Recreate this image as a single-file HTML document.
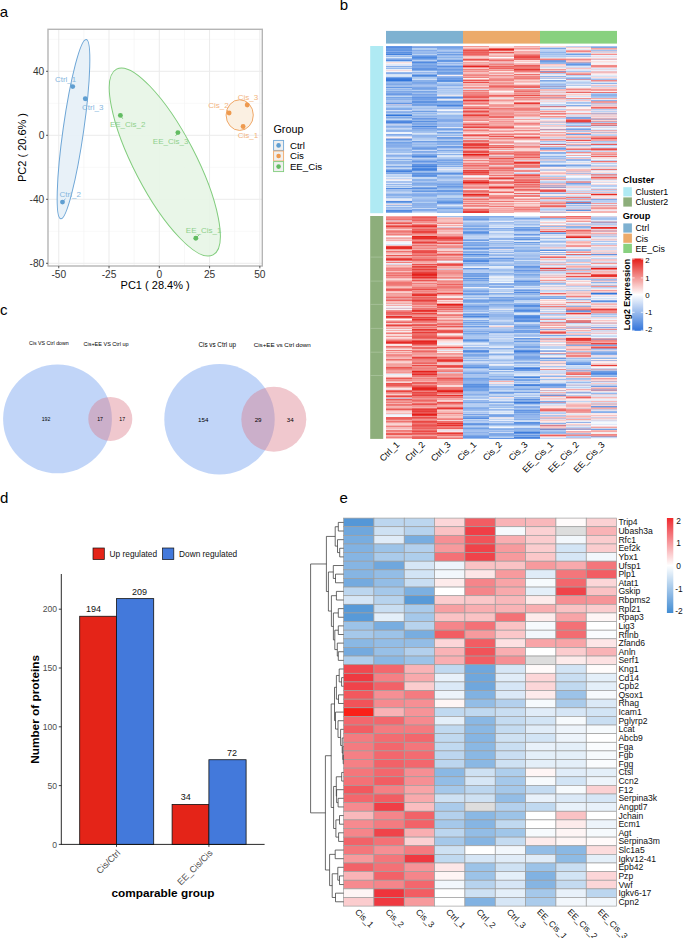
<!DOCTYPE html>
<html><head><meta charset="utf-8"><style>
html,body{margin:0;padding:0;background:#fff;overflow:hidden;}
svg{display:block;font-family:"Liberation Sans", sans-serif;}
</style></head><body>
<svg width="685" height="938" viewBox="0 0 685 938">
<rect width="685" height="938" fill="#fff"/>
<text x="-0.3" y="17" font-size="15" fill="#000">a</text>
<text x="339.8" y="9.8" font-size="15" fill="#000">b</text>
<text x="0" y="314.7" font-size="15" fill="#000">c</text>
<text x="0" y="502.5" font-size="15" fill="#000">d</text>
<text x="339.5" y="502.7" font-size="15" fill="#000">e</text>
<rect x="48.0" y="29.3" width="214.3" height="236.7" fill="#fff"/>
<line x1="83.89" y1="29.3" x2="83.89" y2="266.0" stroke="#F3F3F3" stroke-width="0.6"/>
<line x1="134.16" y1="29.3" x2="134.16" y2="266.0" stroke="#F3F3F3" stroke-width="0.6"/>
<line x1="184.44" y1="29.3" x2="184.44" y2="266.0" stroke="#F3F3F3" stroke-width="0.6"/>
<line x1="234.71" y1="29.3" x2="234.71" y2="266.0" stroke="#F3F3F3" stroke-width="0.6"/>
<line x1="48.0" y1="39.3" x2="262.3" y2="39.3" stroke="#F3F3F3" stroke-width="0.6"/>
<line x1="48.0" y1="103.3" x2="262.3" y2="103.3" stroke="#F3F3F3" stroke-width="0.6"/>
<line x1="48.0" y1="167.3" x2="262.3" y2="167.3" stroke="#F3F3F3" stroke-width="0.6"/>
<line x1="48.0" y1="231.3" x2="262.3" y2="231.3" stroke="#F3F3F3" stroke-width="0.6"/>
<line x1="58.75" y1="29.3" x2="58.75" y2="266.0" stroke="#EBEBEB" stroke-width="1"/>
<line x1="109.03" y1="29.3" x2="109.03" y2="266.0" stroke="#EBEBEB" stroke-width="1"/>
<line x1="159.3" y1="29.3" x2="159.3" y2="266.0" stroke="#EBEBEB" stroke-width="1"/>
<line x1="209.58" y1="29.3" x2="209.58" y2="266.0" stroke="#EBEBEB" stroke-width="1"/>
<line x1="259.85" y1="29.3" x2="259.85" y2="266.0" stroke="#EBEBEB" stroke-width="1"/>
<line x1="48.0" y1="71.3" x2="262.3" y2="71.3" stroke="#EBEBEB" stroke-width="1"/>
<line x1="48.0" y1="135.3" x2="262.3" y2="135.3" stroke="#EBEBEB" stroke-width="1"/>
<line x1="48.0" y1="199.3" x2="262.3" y2="199.3" stroke="#EBEBEB" stroke-width="1"/>
<line x1="48.0" y1="263.3" x2="262.3" y2="263.3" stroke="#EBEBEB" stroke-width="1"/>
<ellipse cx="164.8" cy="162" rx="30.8" ry="104.7" transform="rotate(-27.45 164.8 162)" fill="#E7F5E6" fill-opacity="0.9" stroke="#80CC7C" stroke-width="1"/>
<ellipse cx="73.5" cy="129.1" rx="10.3" ry="90.6" transform="rotate(8.1 73.5 129.1)" fill="#E6EFF7" fill-opacity="0.9" stroke="#6EA6D6" stroke-width="1"/>
<ellipse cx="239.7" cy="115.1" rx="13.6" ry="15.35" fill="#FBEEDF" fill-opacity="0.9" stroke="#F0A868" stroke-width="1"/>
<line x1="72.7" y1="86.6" x2="70.5" y2="84" stroke="#5F9ED1" stroke-width="0.7"/>
<circle cx="72.7" cy="86.6" r="2.45" fill="#5F9ED1"/>
<text x="54.9" y="81.7" font-size="8" fill="#86B6DE">Ctrl_1</text>
<line x1="85.3" y1="98.7" x2="87.5" y2="101.5" stroke="#5F9ED1" stroke-width="0.7"/>
<circle cx="85.3" cy="98.7" r="2.45" fill="#5F9ED1"/>
<text x="82.1" y="109.7" font-size="8" fill="#86B6DE">Ctrl_3</text>
<line x1="62.5" y1="202.1" x2="65.5" y2="198.6" stroke="#5F9ED1" stroke-width="0.7"/>
<circle cx="62.5" cy="202.1" r="2.45" fill="#5F9ED1"/>
<text x="59.5" y="196.9" font-size="8" fill="#86B6DE">Ctrl_2</text>
<line x1="229.1" y1="113" x2="227" y2="110" stroke="#EE9A4F" stroke-width="0.7"/>
<circle cx="229.1" cy="113" r="2.45" fill="#EE9A4F"/>
<text x="208.2" y="107.9" font-size="8" fill="#F2B47E">Cis_2</text>
<line x1="247.2" y1="105" x2="246" y2="101.5" stroke="#EE9A4F" stroke-width="0.7"/>
<circle cx="247.2" cy="105" r="2.45" fill="#EE9A4F"/>
<text x="237.8" y="100.2" font-size="8" fill="#F2B47E">Cis_3</text>
<line x1="243.1" y1="126.5" x2="244.5" y2="129.5" stroke="#EE9A4F" stroke-width="0.7"/>
<circle cx="243.1" cy="126.5" r="2.45" fill="#EE9A4F"/>
<text x="237.8" y="138" font-size="8" fill="#F2B47E">Cis_1</text>
<line x1="120.4" y1="115.4" x2="122.8" y2="118.8" stroke="#62BC62" stroke-width="0.7"/>
<circle cx="120.4" cy="115.4" r="2.45" fill="#62BC62"/>
<text x="109.9" y="127" font-size="8" fill="#8FD08C">EE_Cis_2</text>
<line x1="177.9" y1="132.6" x2="175.5" y2="136" stroke="#62BC62" stroke-width="0.7"/>
<circle cx="177.9" cy="132.6" r="2.45" fill="#62BC62"/>
<text x="152.8" y="143.8" font-size="8" fill="#8FD08C">EE_Cis_3</text>
<line x1="195.8" y1="238.2" x2="199.5" y2="234.5" stroke="#62BC62" stroke-width="0.7"/>
<circle cx="195.8" cy="238.2" r="2.45" fill="#62BC62"/>
<text x="185.8" y="232.7" font-size="8" fill="#8FD08C">EE_Cis_1</text>
<rect x="48.0" y="29.3" width="214.3" height="236.7" fill="none" stroke="#B5B5B5" stroke-width="1.4"/>
<line x1="58.75" y1="266.0" x2="58.75" y2="268.3" stroke="#333" stroke-width="0.8"/>
<text x="58.75" y="278" font-size="10.2" fill="#333" text-anchor="middle">-50</text>
<line x1="109.03" y1="266.0" x2="109.03" y2="268.3" stroke="#333" stroke-width="0.8"/>
<text x="109.03" y="278" font-size="10.2" fill="#333" text-anchor="middle">-25</text>
<line x1="159.3" y1="266.0" x2="159.3" y2="268.3" stroke="#333" stroke-width="0.8"/>
<text x="159.3" y="278" font-size="10.2" fill="#333" text-anchor="middle">0</text>
<line x1="209.58" y1="266.0" x2="209.58" y2="268.3" stroke="#333" stroke-width="0.8"/>
<text x="209.58" y="278" font-size="10.2" fill="#333" text-anchor="middle">25</text>
<line x1="259.85" y1="266.0" x2="259.85" y2="268.3" stroke="#333" stroke-width="0.8"/>
<text x="259.85" y="278" font-size="10.2" fill="#333" text-anchor="middle">50</text>
<line x1="46.0" y1="71.3" x2="48.0" y2="71.3" stroke="#333" stroke-width="0.8"/>
<text x="44.3" y="75" font-size="10.2" fill="#333" text-anchor="end">40</text>
<line x1="46.0" y1="135.3" x2="48.0" y2="135.3" stroke="#333" stroke-width="0.8"/>
<text x="44.3" y="139" font-size="10.2" fill="#333" text-anchor="end">0</text>
<line x1="46.0" y1="199.3" x2="48.0" y2="199.3" stroke="#333" stroke-width="0.8"/>
<text x="44.3" y="203" font-size="10.2" fill="#333" text-anchor="end">-40</text>
<line x1="46.0" y1="263.3" x2="48.0" y2="263.3" stroke="#333" stroke-width="0.8"/>
<text x="44.3" y="267" font-size="10.2" fill="#333" text-anchor="end">-80</text>
<text x="155.15" y="289.3" font-size="11" fill="#000" text-anchor="middle">PC1 ( 28.4% )</text>
<text transform="translate(26.2 147.5) rotate(-90)" font-size="11" text-anchor="middle">PC2 ( 20.6% )</text>
<text x="273.4" y="132.6" font-size="10.8" fill="#000">Group</text>
<rect x="273.6" y="140.4" width="10" height="10" fill="#F0F0F0" stroke="#6EA6D6" stroke-width="0.9"/>
<circle cx="278.6" cy="145.4" r="2.3" fill="#5F9ED1"/>
<text x="289.9" y="148.8" font-size="9.7" fill="#000">Ctrl</text>
<rect x="273.6" y="151" width="10" height="10" fill="#F0F0F0" stroke="#F0A868" stroke-width="0.9"/>
<circle cx="278.6" cy="156" r="2.3" fill="#EE9A4F"/>
<text x="289.9" y="159.4" font-size="9.7" fill="#000">Cis</text>
<rect x="273.6" y="161.6" width="10" height="10" fill="#F0F0F0" stroke="#80CC7C" stroke-width="0.9"/>
<circle cx="278.6" cy="166.6" r="2.3" fill="#62BC62"/>
<text x="289.9" y="170" font-size="9.7" fill="#000">EE_Cis</text>
<g shape-rendering="crispEdges">
<path fill="#6396E4" d="M386 46h25.67v1h-25.67zM386 50h25.67v1h-25.67zM411.67 56h25.67v1h-25.67zM565.67 64h25.67v1h-25.67zM411.67 68h25.67v1h-25.67zM411.67 97h25.67v1h-25.67zM386 103h25.67v1h-25.67zM386 139h25.67v1h-25.67zM411.67 161h25.67v1h-25.67zM540 165h25.67v1h-25.67zM514.33 229h25.67v1h-25.67zM488.67 258h25.67v1h-25.67zM514.33 266h25.67v1h-25.67zM565.67 311h25.67v1h-25.67zM514.33 318h25.67v1h-25.67zM514.33 338h25.67v1h-25.67zM591.33 372h25.67v1h-25.67zM591.33 374h25.67v1h-25.67zM540 385h25.67v1h-25.67zM514.33 403h25.67v1h-25.67zM514.33 423h25.67v1h-25.67zM514.33 435h25.67v1h-25.67zM463 437h25.67v1h-25.67zM488.67 438h25.67v1h-25.67z"/>
<path fill="#8DB1EA" d="M411.67 46h25.67v1h-25.67zM437.33 68h25.67v1h-25.67zM565.67 78h25.67v1h-25.67zM386 92h25.67v1h-25.67zM591.33 95h25.67v1h-25.67zM591.33 100h25.67v1h-25.67zM411.67 129h25.67v1h-25.67zM411.67 152h25.67v1h-25.67zM411.67 204h25.67v1h-25.67zM411.67 205h25.67v1h-25.67zM488.67 238h25.67v1h-25.67zM488.67 283h25.67v1h-25.67zM463 285h25.67v1h-25.67zM591.33 294h25.67v1h-25.67zM488.67 301h25.67v1h-25.67zM463 305h25.67v1h-25.67zM488.67 324h25.67v1h-25.67zM514.33 325h25.67v1h-25.67zM514.33 406h25.67v1h-25.67zM463 432h25.67v1h-25.67z"/>
<path fill="#84ABEA" d="M437.33 46h25.67v1h-25.67zM437.33 48h25.67v1h-25.67zM411.67 50h25.67v1h-25.67zM386 51h25.67v1h-25.67zM565.67 63h25.67v1h-25.67zM437.33 77h25.67v1h-25.67zM411.67 103h25.67v1h-25.67zM386 109h25.67v1h-25.67zM437.33 119h25.67v1h-25.67zM437.33 121h25.67v1h-25.67zM386 134h25.67v1h-25.67zM386 145h25.67v1h-25.67zM411.67 162h25.67v1h-25.67zM437.33 166h25.67v1h-25.67zM411.67 194h25.67v1h-25.67zM411.67 210h25.67v1h-25.67zM488.67 228h25.67v1h-25.67zM514.33 237h25.67v1h-25.67zM463 317h25.67v1h-25.67zM463 320h25.67v1h-25.67zM514.33 328h25.67v1h-25.67zM591.33 354h25.67v1h-25.67zM463 380h25.67v1h-25.67zM540 386h25.67v1h-25.67zM514.33 407h25.67v1h-25.67zM463 408h25.67v1h-25.67zM514.33 414h25.67v1h-25.67zM514.33 428h25.67v1h-25.67z"/>
<path fill="#F39693" d="M463 46h25.67v1h-25.67zM514.33 48h25.67v1h-25.67zM488.67 78h25.67v1h-25.67zM488.67 100h25.67v1h-25.67zM463 106h25.67v1h-25.67zM514.33 147h25.67v1h-25.67zM411.67 234h25.67v1h-25.67zM437.33 271h25.67v1h-25.67zM386 276h25.67v1h-25.67zM540 280h25.67v1h-25.67zM437.33 283h25.67v1h-25.67zM437.33 290h25.67v1h-25.67zM386 336h25.67v1h-25.67zM591.33 346h25.67v1h-25.67zM565.67 353h25.67v1h-25.67zM386 372h25.67v1h-25.67zM411.67 384h25.67v1h-25.67z"/>
<path fill="#FCDEDE" d="M488.67 46h25.67v1h-25.67zM591.33 73h25.67v1h-25.67zM514.33 101h25.67v1h-25.67zM463 121h25.67v1h-25.67zM514.33 132h25.67v1h-25.67zM514.33 192h25.67v1h-25.67zM514.33 212h25.67v1h-25.67zM437.33 224h25.67v1h-25.67zM540 302h25.67v1h-25.67zM386 337h25.67v1h-25.67zM386 345h25.67v1h-25.67zM565.67 390h25.67v1h-25.67z"/>
<path fill="#F6A8A8" d="M514.33 46h25.67v1h-25.67zM514.33 51h25.67v1h-25.67zM514.33 128h25.67v1h-25.67zM591.33 153h25.67v1h-25.67zM488.67 204h25.67v1h-25.67zM488.67 208h25.67v1h-25.67zM411.67 284h25.67v1h-25.67zM411.67 307h25.67v1h-25.67zM386 318h25.67v1h-25.67zM386 432h25.67v1h-25.67z"/>
<path fill="#FCDBD8" d="M540 46h25.67v1h-25.67zM540 65h25.67v1h-25.67zM591.33 232h25.67v1h-25.67zM488.67 326h25.67v1h-25.67z"/>
<path fill="#BDD2F3" d="M565.67 46h25.67v1h-25.67zM540 50h25.67v1h-25.67zM565.67 83h25.67v1h-25.67zM437.33 87h25.67v1h-25.67zM540 104h25.67v1h-25.67zM386 106h25.67v1h-25.67zM540 118h25.67v1h-25.67zM437.33 145h25.67v1h-25.67zM591.33 145h25.67v1h-25.67zM386 157h25.67v1h-25.67zM411.67 158h25.67v1h-25.67zM591.33 165h25.67v1h-25.67zM437.33 175h25.67v1h-25.67zM437.33 180h25.67v1h-25.67zM591.33 190h25.67v1h-25.67zM514.33 223h25.67v1h-25.67zM514.33 232h25.67v1h-25.67zM463 237h25.67v1h-25.67zM591.33 244h25.67v1h-25.67zM565.67 271h25.67v1h-25.67zM514.33 278h25.67v1h-25.67zM488.67 290h25.67v1h-25.67zM463 296h25.67v1h-25.67zM488.67 308h25.67v1h-25.67zM463 328h25.67v1h-25.67zM488.67 333h25.67v1h-25.67zM488.67 341h25.67v1h-25.67zM540 347h25.67v1h-25.67zM591.33 357h25.67v1h-25.67zM488.67 361h25.67v1h-25.67zM540 375h25.67v1h-25.67z"/>
<path fill="#A5C3F0" d="M591.33 46h25.67v1h-25.67zM437.33 53h25.67v1h-25.67zM437.33 56h25.67v1h-25.67zM411.67 85h25.67v1h-25.67zM540 85h25.67v1h-25.67zM565.67 102h25.67v1h-25.67zM565.67 123h25.67v1h-25.67zM386 141h25.67v1h-25.67zM386 151h25.67v1h-25.67zM540 161h25.67v1h-25.67zM386 181h25.67v1h-25.67zM386 208h25.67v1h-25.67zM437.33 210h25.67v1h-25.67zM488.67 219h25.67v1h-25.67zM591.33 219h25.67v1h-25.67zM488.67 229h25.67v1h-25.67zM514.33 231h25.67v1h-25.67zM514.33 243h25.67v1h-25.67zM514.33 248h25.67v1h-25.67zM540 249h25.67v1h-25.67zM463 253h25.67v1h-25.67zM463 277h25.67v1h-25.67zM488.67 322h25.67v1h-25.67zM488.67 329h25.67v1h-25.67zM463 335h25.67v1h-25.67zM565.67 361h25.67v1h-25.67zM488.67 377h25.67v1h-25.67zM488.67 421h25.67v1h-25.67zM514.33 425h25.67v1h-25.67zM463 431h25.67v1h-25.67z"/>
<path fill="#578DE1" d="M386 47h25.67v1h-25.67zM437.33 97h25.67v1h-25.67zM514.33 292h25.67v1h-25.67zM463 418h25.67v1h-25.67z"/>
<path fill="#78A2E7" d="M411.67 47h25.67v1h-25.67zM411.67 94h25.67v1h-25.67zM437.33 203h25.67v1h-25.67zM463 414h25.67v1h-25.67z"/>
<path fill="#72A2E7" d="M437.33 47h25.67v1h-25.67zM386 81h25.67v1h-25.67zM437.33 102h25.67v1h-25.67zM565.67 129h25.67v1h-25.67zM437.33 132h25.67v1h-25.67zM565.67 134h25.67v1h-25.67zM386 142h25.67v1h-25.67zM437.33 208h25.67v1h-25.67zM514.33 227h25.67v1h-25.67zM463 245h25.67v1h-25.67zM514.33 309h25.67v1h-25.67zM514.33 332h25.67v1h-25.67zM591.33 353h25.67v1h-25.67zM463 378h25.67v1h-25.67zM514.33 380h25.67v1h-25.67zM463 389h25.67v1h-25.67zM463 390h25.67v1h-25.67z"/>
<path fill="#F9CFCC" d="M463 47h25.67v1h-25.67zM514.33 80h25.67v1h-25.67zM565.67 94h25.67v1h-25.67zM437.33 232h25.67v1h-25.67zM591.33 291h25.67v1h-25.67zM386 292h25.67v1h-25.67zM437.33 318h25.67v1h-25.67zM437.33 340h25.67v1h-25.67zM386 394h25.67v1h-25.67z"/>
<path fill="#F9D5D2" d="M488.67 47h25.67v1h-25.67zM591.33 120h25.67v1h-25.67zM386 424h25.67v1h-25.67z"/>
<path fill="#F9C0C0" d="M514.33 47h25.67v1h-25.67zM565.67 68h25.67v1h-25.67zM463 72h25.67v1h-25.67zM488.67 90h25.67v1h-25.67zM488.67 93h25.67v1h-25.67zM463 132h25.67v1h-25.67zM437.33 252h25.67v1h-25.67zM386 271h25.67v1h-25.67zM386 278h25.67v1h-25.67zM386 291h25.67v1h-25.67z"/>
<path fill="#C9D5F0" d="M540 47h25.67v1h-25.67zM565.67 150h25.67v1h-25.67zM540 244h25.67v1h-25.67z"/>
<path fill="#EDC6CC" d="M565.67 47h25.67v1h-25.67z"/>
<path fill="#81A5E1" d="M591.33 47h25.67v1h-25.67z"/>
<path fill="#6C9CE4" d="M386 48h25.67v1h-25.67zM386 53h25.67v1h-25.67zM437.33 54h25.67v1h-25.67zM540 61h25.67v1h-25.67zM437.33 69h25.67v1h-25.67zM437.33 72h25.67v1h-25.67zM411.67 76h25.67v1h-25.67zM437.33 137h25.67v1h-25.67zM411.67 141h25.67v1h-25.67zM437.33 146h25.67v1h-25.67zM411.67 148h25.67v1h-25.67zM411.67 174h25.67v1h-25.67zM463 219h25.67v1h-25.67zM463 233h25.67v1h-25.67zM463 240h25.67v1h-25.67zM514.33 267h25.67v1h-25.67zM463 294h25.67v1h-25.67zM463 306h25.67v1h-25.67zM463 326h25.67v1h-25.67zM514.33 367h25.67v1h-25.67zM514.33 412h25.67v1h-25.67zM463 423h25.67v1h-25.67z"/>
<path fill="#B4CFF3" d="M411.67 48h25.67v1h-25.67zM437.33 134h25.67v1h-25.67zM411.67 202h25.67v1h-25.67zM463 288h25.67v1h-25.67zM514.33 295h25.67v1h-25.67zM463 405h25.67v1h-25.67z"/>
<path fill="#F6B1B1" d="M463 48h25.67v1h-25.67zM488.67 130h25.67v1h-25.67zM488.67 133h25.67v1h-25.67zM463 149h25.67v1h-25.67zM386 224h25.67v1h-25.67zM437.33 256h25.67v1h-25.67zM540 277h25.67v1h-25.67zM386 280h25.67v1h-25.67zM437.33 295h25.67v1h-25.67zM386 357h25.67v1h-25.67zM540 396h25.67v1h-25.67zM386 403h25.67v1h-25.67zM437.33 405h25.67v1h-25.67z"/>
<path fill="#ED6966" d="M488.67 48h25.67v1h-25.67zM463 53h25.67v1h-25.67zM514.33 59h25.67v1h-25.67zM514.33 86h25.67v1h-25.67zM463 114h25.67v1h-25.67zM488.67 116h25.67v1h-25.67zM488.67 117h25.67v1h-25.67zM463 165h25.67v1h-25.67zM514.33 180h25.67v1h-25.67zM463 191h25.67v1h-25.67zM463 209h25.67v1h-25.67zM565.67 216h25.67v1h-25.67zM411.67 230h25.67v1h-25.67zM411.67 239h25.67v1h-25.67zM437.33 240h25.67v1h-25.67zM411.67 260h25.67v1h-25.67zM411.67 270h25.67v1h-25.67zM411.67 278h25.67v1h-25.67zM437.33 309h25.67v1h-25.67zM411.67 347h25.67v1h-25.67zM437.33 367h25.67v1h-25.67zM565.67 374h25.67v1h-25.67zM437.33 403h25.67v1h-25.67zM411.67 418h25.67v1h-25.67z"/>
<path fill="#7BA5E7" d="M540 48h25.67v1h-25.67zM411.67 66h25.67v1h-25.67zM437.33 70h25.67v1h-25.67zM411.67 147h25.67v1h-25.67zM565.67 165h25.67v1h-25.67zM463 274h25.67v1h-25.67zM463 355h25.67v1h-25.67zM514.33 356h25.67v1h-25.67zM463 388h25.67v1h-25.67zM514.33 424h25.67v1h-25.67zM488.67 434h25.67v1h-25.67z"/>
<path fill="#FCEDED" d="M565.67 48h25.67v1h-25.67zM514.33 62h25.67v1h-25.67zM591.33 64h25.67v1h-25.67zM463 78h25.67v1h-25.67zM540 167h25.67v1h-25.67zM514.33 197h25.67v1h-25.67zM386 241h25.67v1h-25.67zM437.33 352h25.67v1h-25.67zM386 375h25.67v1h-25.67zM565.67 399h25.67v1h-25.67zM591.33 414h25.67v1h-25.67z"/>
<path fill="#F3A29F" d="M591.33 48h25.67v1h-25.67zM488.67 73h25.67v1h-25.67zM514.33 92h25.67v1h-25.67zM488.67 104h25.67v1h-25.67zM514.33 107h25.67v1h-25.67zM514.33 114h25.67v1h-25.67zM514.33 119h25.67v1h-25.67zM488.67 123h25.67v1h-25.67zM591.33 124h25.67v1h-25.67zM540 132h25.67v1h-25.67zM514.33 136h25.67v1h-25.67zM591.33 136h25.67v1h-25.67zM488.67 149h25.67v1h-25.67zM514.33 164h25.67v1h-25.67zM565.67 199h25.67v1h-25.67zM540 202h25.67v1h-25.67zM565.67 232h25.67v1h-25.67zM437.33 234h25.67v1h-25.67zM411.67 261h25.67v1h-25.67zM386 267h25.67v1h-25.67zM437.33 278h25.67v1h-25.67zM540 325h25.67v1h-25.67zM565.67 349h25.67v1h-25.67zM386 366h25.67v1h-25.67zM437.33 376h25.67v1h-25.67zM386 377h25.67v1h-25.67zM411.67 377h25.67v1h-25.67zM437.33 394h25.67v1h-25.67zM540 408h25.67v1h-25.67zM411.67 435h25.67v1h-25.67z"/>
<path fill="#699CE4" d="M386 49h25.67v1h-25.67zM437.33 141h25.67v1h-25.67zM437.33 201h25.67v1h-25.67zM514.33 242h25.67v1h-25.67zM488.67 300h25.67v1h-25.67zM514.33 341h25.67v1h-25.67z"/>
<path fill="#B1CCF0" d="M411.67 49h25.67v1h-25.67zM411.67 78h25.67v1h-25.67zM565.67 103h25.67v1h-25.67zM411.67 107h25.67v1h-25.67zM411.67 114h25.67v1h-25.67zM386 129h25.67v1h-25.67zM411.67 138h25.67v1h-25.67zM540 164h25.67v1h-25.67zM540 176h25.67v1h-25.67zM411.67 197h25.67v1h-25.67zM514.33 217h25.67v1h-25.67zM514.33 222h25.67v1h-25.67zM488.67 271h25.67v1h-25.67zM565.67 278h25.67v1h-25.67zM488.67 291h25.67v1h-25.67zM514.33 312h25.67v1h-25.67zM514.33 343h25.67v1h-25.67zM488.67 359h25.67v1h-25.67zM565.67 360h25.67v1h-25.67zM514.33 365h25.67v1h-25.67zM514.33 390h25.67v1h-25.67zM488.67 391h25.67v1h-25.67zM488.67 406h25.67v1h-25.67z"/>
<path fill="#93B7ED" d="M437.33 49h25.67v1h-25.67zM411.67 53h25.67v1h-25.67zM437.33 55h25.67v1h-25.67zM437.33 65h25.67v1h-25.67zM565.67 65h25.67v1h-25.67zM386 89h25.67v1h-25.67zM386 98h25.67v1h-25.67zM411.67 136h25.67v1h-25.67zM411.67 142h25.67v1h-25.67zM386 147h25.67v1h-25.67zM386 156h25.67v1h-25.67zM437.33 172h25.67v1h-25.67zM386 184h25.67v1h-25.67zM411.67 193h25.67v1h-25.67zM411.67 196h25.67v1h-25.67zM411.67 200h25.67v1h-25.67zM411.67 206h25.67v1h-25.67zM488.67 259h25.67v1h-25.67zM514.33 293h25.67v1h-25.67zM463 299h25.67v1h-25.67zM565.67 299h25.67v1h-25.67zM514.33 303h25.67v1h-25.67zM514.33 307h25.67v1h-25.67zM463 313h25.67v1h-25.67zM514.33 355h25.67v1h-25.67zM463 381h25.67v1h-25.67zM463 382h25.67v1h-25.67zM488.67 386h25.67v1h-25.67zM488.67 387h25.67v1h-25.67zM514.33 388h25.67v1h-25.67zM591.33 393h25.67v1h-25.67zM514.33 397h25.67v1h-25.67zM463 409h25.67v1h-25.67zM514.33 415h25.67v1h-25.67zM463 427h25.67v1h-25.67zM488.67 431h25.67v1h-25.67z"/>
<path fill="#F07B78" d="M463 49h25.67v1h-25.67zM488.67 67h25.67v1h-25.67zM514.33 67h25.67v1h-25.67zM514.33 109h25.67v1h-25.67zM463 112h25.67v1h-25.67zM540 113h25.67v1h-25.67zM463 130h25.67v1h-25.67zM488.67 134h25.67v1h-25.67zM463 146h25.67v1h-25.67zM488.67 167h25.67v1h-25.67zM514.33 174h25.67v1h-25.67zM488.67 183h25.67v1h-25.67zM463 190h25.67v1h-25.67zM514.33 190h25.67v1h-25.67zM514.33 195h25.67v1h-25.67zM514.33 196h25.67v1h-25.67zM463 203h25.67v1h-25.67zM540 205h25.67v1h-25.67zM411.67 254h25.67v1h-25.67zM411.67 304h25.67v1h-25.67zM540 306h25.67v1h-25.67zM437.33 323h25.67v1h-25.67zM411.67 331h25.67v1h-25.67zM437.33 371h25.67v1h-25.67zM565.67 373h25.67v1h-25.67zM437.33 387h25.67v1h-25.67zM437.33 393h25.67v1h-25.67zM386 395h25.67v1h-25.67zM411.67 397h25.67v1h-25.67zM411.67 401h25.67v1h-25.67zM437.33 426h25.67v1h-25.67zM386 430h25.67v1h-25.67z"/>
<path fill="#E4211B" d="M488.67 49h25.67v1h-25.67zM463 182h25.67v1h-25.67zM411.67 274h25.67v1h-25.67zM411.67 371h25.67v1h-25.67zM437.33 391h25.67v1h-25.67z"/>
<path fill="#F6B4B4" d="M514.33 49h25.67v1h-25.67zM488.67 72h25.67v1h-25.67zM514.33 72h25.67v1h-25.67zM514.33 113h25.67v1h-25.67zM514.33 116h25.67v1h-25.67zM514.33 122h25.67v1h-25.67zM565.67 251h25.67v1h-25.67zM411.67 263h25.67v1h-25.67zM437.33 319h25.67v1h-25.67zM437.33 339h25.67v1h-25.67zM437.33 348h25.67v1h-25.67zM386 406h25.67v1h-25.67zM565.67 406h25.67v1h-25.67zM565.67 416h25.67v1h-25.67zM386 425h25.67v1h-25.67z"/>
<path fill="#C0D5F3" d="M540 49h25.67v1h-25.67zM386 67h25.67v1h-25.67zM437.33 82h25.67v1h-25.67zM437.33 100h25.67v1h-25.67zM540 105h25.67v1h-25.67zM411.67 134h25.67v1h-25.67zM591.33 142h25.67v1h-25.67zM540 143h25.67v1h-25.67zM386 165h25.67v1h-25.67zM437.33 171h25.67v1h-25.67zM386 175h25.67v1h-25.67zM386 178h25.67v1h-25.67zM565.67 185h25.67v1h-25.67zM411.67 186h25.67v1h-25.67zM488.67 234h25.67v1h-25.67zM514.33 245h25.67v1h-25.67zM463 257h25.67v1h-25.67zM591.33 258h25.67v1h-25.67zM488.67 272h25.67v1h-25.67zM540 290h25.67v1h-25.67zM463 318h25.67v1h-25.67zM488.67 321h25.67v1h-25.67zM514.33 333h25.67v1h-25.67zM540 348h25.67v1h-25.67zM463 369h25.67v1h-25.67zM565.67 393h25.67v1h-25.67zM488.67 395h25.67v1h-25.67zM565.67 401h25.67v1h-25.67zM540 412h25.67v1h-25.67zM463 419h25.67v1h-25.67zM488.67 419h25.67v1h-25.67z"/>
<path fill="#E7E7F3" d="M565.67 49h25.67v1h-25.67zM565.67 256h25.67v1h-25.67zM565.67 289h25.67v1h-25.67zM386 414h25.67v1h-25.67z"/>
<path fill="#E7BDC6" d="M591.33 49h25.67v1h-25.67z"/>
<path fill="#AEC9F0" d="M437.33 50h25.67v1h-25.67zM540 53h25.67v1h-25.67zM540 56h25.67v1h-25.67zM565.67 56h25.67v1h-25.67zM437.33 58h25.67v1h-25.67zM565.67 77h25.67v1h-25.67zM386 88h25.67v1h-25.67zM437.33 90h25.67v1h-25.67zM437.33 92h25.67v1h-25.67zM591.33 97h25.67v1h-25.67zM411.67 110h25.67v1h-25.67zM437.33 112h25.67v1h-25.67zM386 113h25.67v1h-25.67zM591.33 122h25.67v1h-25.67zM437.33 140h25.67v1h-25.67zM386 148h25.67v1h-25.67zM437.33 165h25.67v1h-25.67zM386 191h25.67v1h-25.67zM437.33 206h25.67v1h-25.67zM540 209h25.67v1h-25.67zM463 222h25.67v1h-25.67zM488.67 233h25.67v1h-25.67zM540 284h25.67v1h-25.67zM463 295h25.67v1h-25.67zM488.67 303h25.67v1h-25.67zM591.33 316h25.67v1h-25.67zM463 336h25.67v1h-25.67zM463 338h25.67v1h-25.67zM514.33 348h25.67v1h-25.67zM488.67 375h25.67v1h-25.67zM514.33 391h25.67v1h-25.67zM565.67 437h25.67v1h-25.67z"/>
<path fill="#EA4E48" d="M463 50h25.67v1h-25.67zM463 152h25.67v1h-25.67zM437.33 331h25.67v1h-25.67zM437.33 361h25.67v1h-25.67z"/>
<path fill="#EA5A57" d="M488.67 50h25.67v1h-25.67zM463 124h25.67v1h-25.67zM411.67 217h25.67v1h-25.67zM437.33 239h25.67v1h-25.67zM386 289h25.67v1h-25.67zM411.67 301h25.67v1h-25.67zM437.33 307h25.67v1h-25.67zM437.33 330h25.67v1h-25.67zM437.33 332h25.67v1h-25.67zM386 343h25.67v1h-25.67zM386 385h25.67v1h-25.67zM411.67 393h25.67v1h-25.67zM386 399h25.67v1h-25.67zM386 409h25.67v1h-25.67zM411.67 412h25.67v1h-25.67z"/>
<path fill="#FCE1E1" d="M514.33 50h25.67v1h-25.67zM463 133h25.67v1h-25.67zM565.67 143h25.67v1h-25.67zM591.33 172h25.67v1h-25.67zM540 174h25.67v1h-25.67zM591.33 196h25.67v1h-25.67zM437.33 341h25.67v1h-25.67zM540 377h25.67v1h-25.67zM540 406h25.67v1h-25.67z"/>
<path fill="#F3A5A5" d="M565.67 50h25.67v1h-25.67zM488.67 111h25.67v1h-25.67zM463 136h25.67v1h-25.67zM591.33 140h25.67v1h-25.67zM488.67 141h25.67v1h-25.67zM437.33 235h25.67v1h-25.67zM437.33 253h25.67v1h-25.67zM437.33 267h25.67v1h-25.67zM437.33 310h25.67v1h-25.67zM386 371h25.67v1h-25.67z"/>
<path fill="#A2C0ED" d="M591.33 50h25.67v1h-25.67zM386 86h25.67v1h-25.67zM411.67 93h25.67v1h-25.67zM411.67 108h25.67v1h-25.67zM411.67 115h25.67v1h-25.67zM386 118h25.67v1h-25.67zM540 147h25.67v1h-25.67zM411.67 159h25.67v1h-25.67zM386 186h25.67v1h-25.67zM591.33 218h25.67v1h-25.67zM463 223h25.67v1h-25.67zM540 238h25.67v1h-25.67zM488.67 254h25.67v1h-25.67zM514.33 256h25.67v1h-25.67zM463 264h25.67v1h-25.67zM488.67 264h25.67v1h-25.67zM463 265h25.67v1h-25.67zM514.33 265h25.67v1h-25.67zM514.33 277h25.67v1h-25.67zM463 281h25.67v1h-25.67zM488.67 312h25.67v1h-25.67zM488.67 317h25.67v1h-25.67zM488.67 318h25.67v1h-25.67zM463 332h25.67v1h-25.67zM514.33 340h25.67v1h-25.67zM565.67 358h25.67v1h-25.67zM514.33 360h25.67v1h-25.67zM488.67 378h25.67v1h-25.67zM514.33 382h25.67v1h-25.67zM514.33 387h25.67v1h-25.67zM463 393h25.67v1h-25.67zM463 397h25.67v1h-25.67zM514.33 398h25.67v1h-25.67zM488.67 404h25.67v1h-25.67zM540 431h25.67v1h-25.67z"/>
<path fill="#9CBDED" d="M411.67 51h25.67v1h-25.67zM386 56h25.67v1h-25.67zM437.33 59h25.67v1h-25.67zM386 85h25.67v1h-25.67zM565.67 125h25.67v1h-25.67zM437.33 176h25.67v1h-25.67zM386 190h25.67v1h-25.67zM565.67 205h25.67v1h-25.67zM488.67 261h25.67v1h-25.67zM514.33 261h25.67v1h-25.67zM488.67 274h25.67v1h-25.67zM514.33 276h25.67v1h-25.67zM463 297h25.67v1h-25.67zM463 304h25.67v1h-25.67zM488.67 343h25.67v1h-25.67zM514.33 344h25.67v1h-25.67zM514.33 345h25.67v1h-25.67zM463 347h25.67v1h-25.67zM488.67 360h25.67v1h-25.67zM488.67 366h25.67v1h-25.67zM463 368h25.67v1h-25.67zM463 391h25.67v1h-25.67zM463 395h25.67v1h-25.67zM463 410h25.67v1h-25.67zM463 425h25.67v1h-25.67zM463 434h25.67v1h-25.67zM463 438h25.67v1h-25.67z"/>
<path fill="#A2C0F0" d="M437.33 51h25.67v1h-25.67zM437.33 123h25.67v1h-25.67zM565.67 128h25.67v1h-25.67zM437.33 130h25.67v1h-25.67zM565.67 184h25.67v1h-25.67zM386 189h25.67v1h-25.67zM437.33 192h25.67v1h-25.67zM488.67 241h25.67v1h-25.67zM463 262h25.67v1h-25.67zM488.67 269h25.67v1h-25.67zM463 329h25.67v1h-25.67zM488.67 330h25.67v1h-25.67zM463 371h25.67v1h-25.67zM463 420h25.67v1h-25.67zM463 430h25.67v1h-25.67z"/>
<path fill="#ED6F6C" d="M463 51h25.67v1h-25.67zM514.33 58h25.67v1h-25.67zM463 65h25.67v1h-25.67zM514.33 74h25.67v1h-25.67zM565.67 149h25.67v1h-25.67zM463 210h25.67v1h-25.67zM386 225h25.67v1h-25.67zM411.67 241h25.67v1h-25.67zM411.67 243h25.67v1h-25.67zM386 251h25.67v1h-25.67zM411.67 298h25.67v1h-25.67zM437.33 324h25.67v1h-25.67zM411.67 334h25.67v1h-25.67zM437.33 357h25.67v1h-25.67zM386 359h25.67v1h-25.67zM411.67 375h25.67v1h-25.67zM540 409h25.67v1h-25.67zM437.33 421h25.67v1h-25.67zM437.33 435h25.67v1h-25.67z"/>
<path fill="#F6C0BD" d="M488.67 51h25.67v1h-25.67zM565.67 109h25.67v1h-25.67zM463 128h25.67v1h-25.67zM514.33 191h25.67v1h-25.67zM488.67 205h25.67v1h-25.67zM437.33 221h25.67v1h-25.67zM386 250h25.67v1h-25.67zM386 302h25.67v1h-25.67zM437.33 351h25.67v1h-25.67zM437.33 355h25.67v1h-25.67zM540 436h25.67v1h-25.67z"/>
<path fill="#B4CCF3" d="M540 51h25.67v1h-25.67zM437.33 64h25.67v1h-25.67zM411.67 106h25.67v1h-25.67zM591.33 109h25.67v1h-25.67zM411.67 153h25.67v1h-25.67zM437.33 179h25.67v1h-25.67zM591.33 185h25.67v1h-25.67zM411.67 192h25.67v1h-25.67zM591.33 201h25.67v1h-25.67zM437.33 204h25.67v1h-25.67zM463 270h25.67v1h-25.67zM463 271h25.67v1h-25.67zM514.33 287h25.67v1h-25.67zM488.67 337h25.67v1h-25.67zM463 370h25.67v1h-25.67zM540 413h25.67v1h-25.67zM463 421h25.67v1h-25.67zM540 430h25.67v1h-25.67zM565.67 436h25.67v1h-25.67z"/>
<path fill="#F08481" d="M565.67 51h25.67v1h-25.67zM591.33 66h25.67v1h-25.67zM463 75h25.67v1h-25.67zM514.33 76h25.67v1h-25.67zM488.67 79h25.67v1h-25.67zM488.67 80h25.67v1h-25.67zM488.67 138h25.67v1h-25.67zM514.33 146h25.67v1h-25.67zM463 192h25.67v1h-25.67zM411.67 216h25.67v1h-25.67zM386 217h25.67v1h-25.67zM565.67 218h25.67v1h-25.67zM411.67 257h25.67v1h-25.67zM386 270h25.67v1h-25.67zM437.33 277h25.67v1h-25.67zM386 285h25.67v1h-25.67zM411.67 291h25.67v1h-25.67zM591.33 312h25.67v1h-25.67zM386 324h25.67v1h-25.67zM411.67 345h25.67v1h-25.67zM411.67 350h25.67v1h-25.67zM565.67 356h25.67v1h-25.67zM411.67 378h25.67v1h-25.67zM411.67 399h25.67v1h-25.67zM411.67 420h25.67v1h-25.67zM411.67 429h25.67v1h-25.67z"/>
<path fill="#DBC9D8" d="M591.33 51h25.67v1h-25.67z"/>
<path fill="#5A90E1" d="M386 52h25.67v1h-25.67zM411.67 121h25.67v1h-25.67zM411.67 170h25.67v1h-25.67zM437.33 173h25.67v1h-25.67zM411.67 175h25.67v1h-25.67zM411.67 188h25.67v1h-25.67zM437.33 202h25.67v1h-25.67zM591.33 301h25.67v1h-25.67zM514.33 306h25.67v1h-25.67zM514.33 320h25.67v1h-25.67zM514.33 350h25.67v1h-25.67zM463 367h25.67v1h-25.67zM463 384h25.67v1h-25.67zM514.33 384h25.67v1h-25.67zM463 386h25.67v1h-25.67z"/>
<path fill="#99BAED" d="M411.67 52h25.67v1h-25.67zM386 72h25.67v1h-25.67zM386 82h25.67v1h-25.67zM437.33 84h25.67v1h-25.67zM540 84h25.67v1h-25.67zM386 95h25.67v1h-25.67zM386 102h25.67v1h-25.67zM437.33 116h25.67v1h-25.67zM437.33 125h25.67v1h-25.67zM386 127h25.67v1h-25.67zM437.33 133h25.67v1h-25.67zM386 135h25.67v1h-25.67zM386 149h25.67v1h-25.67zM437.33 161h25.67v1h-25.67zM437.33 181h25.67v1h-25.67zM437.33 182h25.67v1h-25.67zM437.33 199h25.67v1h-25.67zM411.67 201h25.67v1h-25.67zM386 205h25.67v1h-25.67zM437.33 211h25.67v1h-25.67zM488.67 217h25.67v1h-25.67zM463 220h25.67v1h-25.67zM488.67 222h25.67v1h-25.67zM514.33 224h25.67v1h-25.67zM540 226h25.67v1h-25.67zM514.33 235h25.67v1h-25.67zM514.33 258h25.67v1h-25.67zM463 269h25.67v1h-25.67zM591.33 279h25.67v1h-25.67zM514.33 291h25.67v1h-25.67zM488.67 306h25.67v1h-25.67zM463 311h25.67v1h-25.67zM514.33 324h25.67v1h-25.67zM514.33 335h25.67v1h-25.67zM565.67 335h25.67v1h-25.67zM514.33 354h25.67v1h-25.67zM463 358h25.67v1h-25.67zM514.33 363h25.67v1h-25.67zM565.67 382h25.67v1h-25.67zM488.67 396h25.67v1h-25.67zM463 401h25.67v1h-25.67zM488.67 428h25.67v1h-25.67zM540 433h25.67v1h-25.67zM514.33 434h25.67v1h-25.67z"/>
<path fill="#78A5E7" d="M437.33 52h25.67v1h-25.67zM411.67 82h25.67v1h-25.67zM411.67 91h25.67v1h-25.67zM386 97h25.67v1h-25.67zM437.33 106h25.67v1h-25.67zM437.33 162h25.67v1h-25.67zM386 166h25.67v1h-25.67zM514.33 218h25.67v1h-25.67zM463 228h25.67v1h-25.67zM463 259h25.67v1h-25.67zM540 298h25.67v1h-25.67zM514.33 299h25.67v1h-25.67zM463 333h25.67v1h-25.67zM463 339h25.67v1h-25.67zM514.33 346h25.67v1h-25.67zM514.33 347h25.67v1h-25.67zM514.33 358h25.67v1h-25.67zM463 365h25.67v1h-25.67zM463 366h25.67v1h-25.67zM463 373h25.67v1h-25.67zM514.33 389h25.67v1h-25.67zM514.33 411h25.67v1h-25.67zM514.33 431h25.67v1h-25.67z"/>
<path fill="#ED5D5A" d="M463 52h25.67v1h-25.67zM463 96h25.67v1h-25.67zM514.33 157h25.67v1h-25.67zM463 174h25.67v1h-25.67zM591.33 177h25.67v1h-25.67zM463 183h25.67v1h-25.67zM411.67 250h25.67v1h-25.67zM411.67 259h25.67v1h-25.67zM591.33 274h25.67v1h-25.67zM386 312h25.67v1h-25.67zM437.33 337h25.67v1h-25.67zM411.67 358h25.67v1h-25.67zM386 418h25.67v1h-25.67zM437.33 424h25.67v1h-25.67zM411.67 426h25.67v1h-25.67z"/>
<path fill="#EA5754" d="M488.67 52h25.67v1h-25.67zM463 80h25.67v1h-25.67zM463 97h25.67v1h-25.67zM463 108h25.67v1h-25.67zM488.67 127h25.67v1h-25.67zM463 143h25.67v1h-25.67zM540 191h25.67v1h-25.67zM386 223h25.67v1h-25.67zM437.33 243h25.67v1h-25.67zM437.33 254h25.67v1h-25.67zM437.33 265h25.67v1h-25.67zM411.67 267h25.67v1h-25.67zM411.67 325h25.67v1h-25.67zM437.33 326h25.67v1h-25.67zM411.67 330h25.67v1h-25.67zM411.67 344h25.67v1h-25.67zM437.33 365h25.67v1h-25.67zM411.67 386h25.67v1h-25.67zM411.67 390h25.67v1h-25.67z"/>
<path fill="#F6ABA8" d="M514.33 52h25.67v1h-25.67zM488.67 69h25.67v1h-25.67zM540 96h25.67v1h-25.67zM463 109h25.67v1h-25.67zM540 135h25.67v1h-25.67zM514.33 159h25.67v1h-25.67zM488.67 211h25.67v1h-25.67zM437.33 222h25.67v1h-25.67zM437.33 225h25.67v1h-25.67zM411.67 262h25.67v1h-25.67zM565.67 266h25.67v1h-25.67zM411.67 305h25.67v1h-25.67zM437.33 329h25.67v1h-25.67zM437.33 346h25.67v1h-25.67zM591.33 408h25.67v1h-25.67zM386 410h25.67v1h-25.67z"/>
<path fill="#90B4EA" d="M540 52h25.67v1h-25.67zM540 76h25.67v1h-25.67zM591.33 83h25.67v1h-25.67zM540 88h25.67v1h-25.67zM591.33 94h25.67v1h-25.67zM437.33 98h25.67v1h-25.67zM411.67 122h25.67v1h-25.67zM386 130h25.67v1h-25.67zM411.67 135h25.67v1h-25.67zM386 140h25.67v1h-25.67zM540 153h25.67v1h-25.67zM540 156h25.67v1h-25.67zM386 161h25.67v1h-25.67zM386 162h25.67v1h-25.67zM386 163h25.67v1h-25.67zM437.33 163h25.67v1h-25.67zM411.67 172h25.67v1h-25.67zM437.33 177h25.67v1h-25.67zM411.67 185h25.67v1h-25.67zM411.67 207h25.67v1h-25.67zM540 218h25.67v1h-25.67zM565.67 227h25.67v1h-25.67zM463 239h25.67v1h-25.67zM488.67 239h25.67v1h-25.67zM463 247h25.67v1h-25.67zM488.67 252h25.67v1h-25.67zM488.67 255h25.67v1h-25.67zM514.33 268h25.67v1h-25.67zM514.33 272h25.67v1h-25.67zM488.67 273h25.67v1h-25.67zM463 279h25.67v1h-25.67zM591.33 282h25.67v1h-25.67zM514.33 285h25.67v1h-25.67zM488.67 287h25.67v1h-25.67zM514.33 294h25.67v1h-25.67zM514.33 297h25.67v1h-25.67zM488.67 298h25.67v1h-25.67zM488.67 305h25.67v1h-25.67zM463 309h25.67v1h-25.67zM488.67 314h25.67v1h-25.67zM488.67 315h25.67v1h-25.67zM488.67 316h25.67v1h-25.67zM514.33 339h25.67v1h-25.67zM591.33 358h25.67v1h-25.67zM463 360h25.67v1h-25.67zM488.67 371h25.67v1h-25.67zM488.67 423h25.67v1h-25.67z"/>
<path fill="#F9CFCF" d="M565.67 52h25.67v1h-25.67zM591.33 58h25.67v1h-25.67zM540 136h25.67v1h-25.67zM514.33 148h25.67v1h-25.67zM463 177h25.67v1h-25.67zM514.33 205h25.67v1h-25.67zM565.67 225h25.67v1h-25.67zM386 229h25.67v1h-25.67zM386 254h25.67v1h-25.67zM565.67 257h25.67v1h-25.67zM386 411h25.67v1h-25.67z"/>
<path fill="#D2D5EA" d="M591.33 52h25.67v1h-25.67z"/>
<path fill="#F3A8A5" d="M488.67 53h25.67v1h-25.67zM463 70h25.67v1h-25.67zM591.33 98h25.67v1h-25.67zM488.67 139h25.67v1h-25.67zM488.67 171h25.67v1h-25.67zM488.67 212h25.67v1h-25.67zM386 216h25.67v1h-25.67zM565.67 307h25.67v1h-25.67zM437.33 356h25.67v1h-25.67zM411.67 364h25.67v1h-25.67z"/>
<path fill="#F6B1AE" d="M514.33 53h25.67v1h-25.67zM514.33 105h25.67v1h-25.67zM514.33 188h25.67v1h-25.67zM540 197h25.67v1h-25.67zM463 200h25.67v1h-25.67zM514.33 206h25.67v1h-25.67zM463 208h25.67v1h-25.67zM437.33 218h25.67v1h-25.67zM386 265h25.67v1h-25.67zM437.33 266h25.67v1h-25.67zM386 286h25.67v1h-25.67zM437.33 316h25.67v1h-25.67zM411.67 323h25.67v1h-25.67zM386 363h25.67v1h-25.67zM488.67 381h25.67v1h-25.67zM386 407h25.67v1h-25.67zM437.33 412h25.67v1h-25.67z"/>
<path fill="#ABC6ED" d="M565.67 53h25.67v1h-25.67z"/>
<path fill="#F9D2CF" d="M591.33 53h25.67v1h-25.67zM463 57h25.67v1h-25.67zM488.67 102h25.67v1h-25.67zM514.33 121h25.67v1h-25.67zM514.33 204h25.67v1h-25.67zM565.67 294h25.67v1h-25.67zM437.33 368h25.67v1h-25.67z"/>
<path fill="#4281DE" d="M386 54h25.67v1h-25.67zM411.67 169h25.67v1h-25.67z"/>
<path fill="#BAD2F3" d="M411.67 54h25.67v1h-25.67zM386 61h25.67v1h-25.67zM565.67 75h25.67v1h-25.67zM591.33 93h25.67v1h-25.67zM591.33 111h25.67v1h-25.67zM591.33 163h25.67v1h-25.67zM386 176h25.67v1h-25.67zM437.33 197h25.67v1h-25.67zM386 203h25.67v1h-25.67zM514.33 240h25.67v1h-25.67zM514.33 252h25.67v1h-25.67zM488.67 285h25.67v1h-25.67zM514.33 300h25.67v1h-25.67zM488.67 340h25.67v1h-25.67zM463 342h25.67v1h-25.67zM488.67 345h25.67v1h-25.67zM514.33 371h25.67v1h-25.67zM565.67 387h25.67v1h-25.67zM463 396h25.67v1h-25.67z"/>
<path fill="#ED6360" d="M463 54h25.67v1h-25.67zM488.67 68h25.67v1h-25.67zM488.67 86h25.67v1h-25.67zM514.33 87h25.67v1h-25.67zM488.67 95h25.67v1h-25.67zM591.33 156h25.67v1h-25.67zM488.67 192h25.67v1h-25.67zM565.67 230h25.67v1h-25.67zM411.67 255h25.67v1h-25.67zM540 257h25.67v1h-25.67zM437.33 284h25.67v1h-25.67zM386 290h25.67v1h-25.67zM411.67 299h25.67v1h-25.67zM386 300h25.67v1h-25.67zM411.67 318h25.67v1h-25.67zM411.67 335h25.67v1h-25.67zM411.67 363h25.67v1h-25.67zM411.67 382h25.67v1h-25.67zM437.33 392h25.67v1h-25.67zM565.67 397h25.67v1h-25.67zM437.33 407h25.67v1h-25.67z"/>
<path fill="#F9CCC9" d="M488.67 54h25.67v1h-25.67zM514.33 129h25.67v1h-25.67zM565.67 275h25.67v1h-25.67zM540 300h25.67v1h-25.67zM565.67 337h25.67v1h-25.67zM386 361h25.67v1h-25.67zM437.33 410h25.67v1h-25.67zM540 420h25.67v1h-25.67z"/>
<path fill="#F08784" d="M514.33 54h25.67v1h-25.67zM463 55h25.67v1h-25.67zM463 60h25.67v1h-25.67zM488.67 75h25.67v1h-25.67zM514.33 77h25.67v1h-25.67zM565.67 89h25.67v1h-25.67zM463 107h25.67v1h-25.67zM463 110h25.67v1h-25.67zM463 116h25.67v1h-25.67zM463 120h25.67v1h-25.67zM514.33 130h25.67v1h-25.67zM591.33 137h25.67v1h-25.67zM514.33 138h25.67v1h-25.67zM514.33 167h25.67v1h-25.67zM514.33 177h25.67v1h-25.67zM488.67 181h25.67v1h-25.67zM386 218h25.67v1h-25.67zM411.67 228h25.67v1h-25.67zM386 232h25.67v1h-25.67zM437.33 251h25.67v1h-25.67zM437.33 281h25.67v1h-25.67zM411.67 296h25.67v1h-25.67zM437.33 298h25.67v1h-25.67zM411.67 306h25.67v1h-25.67zM437.33 314h25.67v1h-25.67zM437.33 320h25.67v1h-25.67zM591.33 340h25.67v1h-25.67zM411.67 360h25.67v1h-25.67zM386 380h25.67v1h-25.67zM386 392h25.67v1h-25.67zM386 408h25.67v1h-25.67zM411.67 416h25.67v1h-25.67zM591.33 434h25.67v1h-25.67z"/>
<path fill="#9FC0ED" d="M540 54h25.67v1h-25.67zM540 81h25.67v1h-25.67zM437.33 96h25.67v1h-25.67zM591.33 96h25.67v1h-25.67zM437.33 117h25.67v1h-25.67zM411.67 131h25.67v1h-25.67zM386 152h25.67v1h-25.67zM411.67 171h25.67v1h-25.67zM437.33 178h25.67v1h-25.67zM437.33 209h25.67v1h-25.67zM437.33 216h25.67v1h-25.67zM514.33 249h25.67v1h-25.67zM514.33 262h25.67v1h-25.67zM488.67 270h25.67v1h-25.67zM463 283h25.67v1h-25.67zM463 289h25.67v1h-25.67zM488.67 294h25.67v1h-25.67zM488.67 302h25.67v1h-25.67zM488.67 323h25.67v1h-25.67zM540 354h25.67v1h-25.67zM463 377h25.67v1h-25.67zM565.67 378h25.67v1h-25.67zM540 379h25.67v1h-25.67zM514.33 386h25.67v1h-25.67zM488.67 407h25.67v1h-25.67zM514.33 418h25.67v1h-25.67zM488.67 436h25.67v1h-25.67z"/>
<path fill="#6F9FE4" d="M565.67 54h25.67v1h-25.67zM437.33 73h25.67v1h-25.67zM411.67 104h25.67v1h-25.67zM411.67 111h25.67v1h-25.67zM386 114h25.67v1h-25.67zM437.33 129h25.67v1h-25.67zM411.67 155h25.67v1h-25.67zM386 202h25.67v1h-25.67zM463 273h25.67v1h-25.67zM463 276h25.67v1h-25.67zM463 300h25.67v1h-25.67zM463 322h25.67v1h-25.67zM514.33 326h25.67v1h-25.67zM488.67 332h25.67v1h-25.67zM488.67 369h25.67v1h-25.67zM463 428h25.67v1h-25.67z"/>
<path fill="#F39090" d="M591.33 54h25.67v1h-25.67zM463 67h25.67v1h-25.67zM463 123h25.67v1h-25.67zM463 125h25.67v1h-25.67zM488.67 159h25.67v1h-25.67zM411.67 221h25.67v1h-25.67zM437.33 257h25.67v1h-25.67zM411.67 405h25.67v1h-25.67zM437.33 409h25.67v1h-25.67z"/>
<path fill="#B1C9F0" d="M386 55h25.67v1h-25.67zM411.67 73h25.67v1h-25.67zM540 73h25.67v1h-25.67zM411.67 112h25.67v1h-25.67zM386 125h25.67v1h-25.67zM565.67 164h25.67v1h-25.67zM591.33 224h25.67v1h-25.67zM540 242h25.67v1h-25.67zM514.33 253h25.67v1h-25.67zM488.67 257h25.67v1h-25.67zM514.33 257h25.67v1h-25.67zM488.67 263h25.67v1h-25.67zM514.33 279h25.67v1h-25.67zM463 345h25.67v1h-25.67zM488.67 349h25.67v1h-25.67zM463 357h25.67v1h-25.67zM463 363h25.67v1h-25.67zM514.33 378h25.67v1h-25.67zM488.67 388h25.67v1h-25.67zM514.33 395h25.67v1h-25.67zM463 403h25.67v1h-25.67zM488.67 410h25.67v1h-25.67zM463 415h25.67v1h-25.67z"/>
<path fill="#81ABEA" d="M411.67 55h25.67v1h-25.67zM411.67 59h25.67v1h-25.67zM437.33 67h25.67v1h-25.67zM386 143h25.67v1h-25.67zM411.67 151h25.67v1h-25.67zM411.67 154h25.67v1h-25.67zM437.33 164h25.67v1h-25.67zM411.67 195h25.67v1h-25.67zM488.67 216h25.67v1h-25.67zM463 244h25.67v1h-25.67zM514.33 251h25.67v1h-25.67zM488.67 284h25.67v1h-25.67zM514.33 298h25.67v1h-25.67zM514.33 353h25.67v1h-25.67zM488.67 435h25.67v1h-25.67z"/>
<path fill="#F6B7B7" d="M488.67 55h25.67v1h-25.67zM488.67 77h25.67v1h-25.67zM488.67 94h25.67v1h-25.67zM514.33 111h25.67v1h-25.67zM488.67 137h25.67v1h-25.67zM540 140h25.67v1h-25.67zM463 169h25.67v1h-25.67zM488.67 199h25.67v1h-25.67zM565.67 229h25.67v1h-25.67zM411.67 282h25.67v1h-25.67zM386 301h25.67v1h-25.67zM437.33 301h25.67v1h-25.67zM411.67 346h25.67v1h-25.67zM591.33 397h25.67v1h-25.67zM565.67 398h25.67v1h-25.67zM591.33 401h25.67v1h-25.67zM386 427h25.67v1h-25.67z"/>
<path fill="#ED6663" d="M514.33 55h25.67v1h-25.67zM514.33 70h25.67v1h-25.67zM591.33 107h25.67v1h-25.67zM514.33 154h25.67v1h-25.67zM488.67 168h25.67v1h-25.67zM463 173h25.67v1h-25.67zM514.33 189h25.67v1h-25.67zM514.33 193h25.67v1h-25.67zM411.67 271h25.67v1h-25.67zM540 293h25.67v1h-25.67zM386 313h25.67v1h-25.67zM386 322h25.67v1h-25.67zM411.67 351h25.67v1h-25.67zM411.67 400h25.67v1h-25.67zM411.67 408h25.67v1h-25.67zM540 410h25.67v1h-25.67zM411.67 430h25.67v1h-25.67z"/>
<path fill="#B7CFF3" d="M540 55h25.67v1h-25.67zM411.67 60h25.67v1h-25.67zM437.33 62h25.67v1h-25.67zM437.33 86h25.67v1h-25.67zM411.67 90h25.67v1h-25.67zM437.33 91h25.67v1h-25.67zM437.33 93h25.67v1h-25.67zM540 109h25.67v1h-25.67zM411.67 139h25.67v1h-25.67zM540 157h25.67v1h-25.67zM540 162h25.67v1h-25.67zM386 164h25.67v1h-25.67zM565.67 179h25.67v1h-25.67zM591.33 186h25.67v1h-25.67zM591.33 200h25.67v1h-25.67zM488.67 220h25.67v1h-25.67zM514.33 225h25.67v1h-25.67zM514.33 233h25.67v1h-25.67zM591.33 243h25.67v1h-25.67zM514.33 246h25.67v1h-25.67zM488.67 250h25.67v1h-25.67zM565.67 255h25.67v1h-25.67zM463 272h25.67v1h-25.67zM488.67 275h25.67v1h-25.67zM488.67 289h25.67v1h-25.67zM540 311h25.67v1h-25.67zM463 325h25.67v1h-25.67zM565.67 332h25.67v1h-25.67zM488.67 335h25.67v1h-25.67zM463 349h25.67v1h-25.67zM488.67 355h25.67v1h-25.67zM565.67 368h25.67v1h-25.67zM514.33 381h25.67v1h-25.67zM463 406h25.67v1h-25.67zM463 422h25.67v1h-25.67zM463 426h25.67v1h-25.67zM488.67 437h25.67v1h-25.67z"/>
<path fill="#CCDBF6" d="M565.67 55h25.67v1h-25.67zM386 136h25.67v1h-25.67zM411.67 150h25.67v1h-25.67zM591.33 151h25.67v1h-25.67zM488.67 320h25.67v1h-25.67zM540 371h25.67v1h-25.67zM488.67 432h25.67v1h-25.67z"/>
<path fill="#EAF3FC" d="M591.33 55h25.67v1h-25.67z"/>
<path fill="#F9C6C3" d="M463 56h25.67v1h-25.67zM514.33 131h25.67v1h-25.67zM488.67 189h25.67v1h-25.67zM437.33 233h25.67v1h-25.67zM591.33 320h25.67v1h-25.67zM437.33 335h25.67v1h-25.67zM437.33 416h25.67v1h-25.67z"/>
<path fill="#F3ABA8" d="M488.67 56h25.67v1h-25.67zM386 303h25.67v1h-25.67z"/>
<path fill="#EA4E4B" d="M514.33 56h25.67v1h-25.67zM463 82h25.67v1h-25.67zM463 135h25.67v1h-25.67zM540 190h25.67v1h-25.67zM411.67 251h25.67v1h-25.67zM411.67 289h25.67v1h-25.67zM540 332h25.67v1h-25.67zM437.33 338h25.67v1h-25.67zM437.33 359h25.67v1h-25.67zM437.33 402h25.67v1h-25.67zM411.67 417h25.67v1h-25.67z"/>
<path fill="#F0E1E7" d="M591.33 56h25.67v1h-25.67zM565.67 147h25.67v1h-25.67zM540 295h25.67v1h-25.67z"/>
<path fill="#DEEAF9" d="M386 57h25.67v1h-25.67zM565.67 188h25.67v1h-25.67zM591.33 204h25.67v1h-25.67zM591.33 220h25.67v1h-25.67zM540 261h25.67v1h-25.67zM514.33 313h25.67v1h-25.67zM565.67 386h25.67v1h-25.67zM463 399h25.67v1h-25.67zM488.67 411h25.67v1h-25.67zM565.67 414h25.67v1h-25.67z"/>
<path fill="#4E8AE1" d="M411.67 57h25.67v1h-25.67zM411.67 168h25.67v1h-25.67z"/>
<path fill="#8DB4EA" d="M437.33 57h25.67v1h-25.67zM437.33 71h25.67v1h-25.67zM411.67 130h25.67v1h-25.67zM411.67 179h25.67v1h-25.67zM488.67 265h25.67v1h-25.67zM514.33 308h25.67v1h-25.67zM463 356h25.67v1h-25.67zM488.67 368h25.67v1h-25.67zM463 407h25.67v1h-25.67zM514.33 429h25.67v1h-25.67z"/>
<path fill="#FCFCFF" d="M488.67 57h25.67v1h-25.67z"/>
<path fill="#EA4845" d="M514.33 57h25.67v1h-25.67zM411.67 225h25.67v1h-25.67zM437.33 237h25.67v1h-25.67zM437.33 264h25.67v1h-25.67zM411.67 365h25.67v1h-25.67zM386 396h25.67v1h-25.67zM411.67 410h25.67v1h-25.67zM411.67 413h25.67v1h-25.67zM411.67 431h25.67v1h-25.67z"/>
<path fill="#CFE1F6" d="M540 57h25.67v1h-25.67zM540 155h25.67v1h-25.67zM514.33 373h25.67v1h-25.67z"/>
<path fill="#F0F0F6" d="M565.67 57h25.67v1h-25.67zM540 310h25.67v1h-25.67zM540 356h25.67v1h-25.67z"/>
<path fill="#EAF0FC" d="M591.33 57h25.67v1h-25.67zM591.33 70h25.67v1h-25.67zM565.67 127h25.67v1h-25.67zM565.67 248h25.67v1h-25.67zM591.33 257h25.67v1h-25.67zM463 267h25.67v1h-25.67zM437.33 343h25.67v1h-25.67z"/>
<path fill="#9FBDED" d="M386 58h25.67v1h-25.67zM591.33 79h25.67v1h-25.67zM411.67 86h25.67v1h-25.67zM437.33 88h25.67v1h-25.67zM386 116h25.67v1h-25.67zM411.67 117h25.67v1h-25.67zM437.33 118h25.67v1h-25.67zM411.67 137h25.67v1h-25.67zM437.33 139h25.67v1h-25.67zM540 158h25.67v1h-25.67zM411.67 163h25.67v1h-25.67zM411.67 199h25.67v1h-25.67zM514.33 219h25.67v1h-25.67zM463 224h25.67v1h-25.67zM463 234h25.67v1h-25.67zM514.33 255h25.67v1h-25.67zM565.67 279h25.67v1h-25.67zM463 327h25.67v1h-25.67zM463 330h25.67v1h-25.67zM463 348h25.67v1h-25.67zM514.33 349h25.67v1h-25.67zM540 350h25.67v1h-25.67zM463 364h25.67v1h-25.67zM463 433h25.67v1h-25.67z"/>
<path fill="#6096E4" d="M411.67 58h25.67v1h-25.67zM437.33 60h25.67v1h-25.67zM514.33 311h25.67v1h-25.67z"/>
<path fill="#F6AEAE" d="M463 58h25.67v1h-25.67zM488.67 61h25.67v1h-25.67zM514.33 64h25.67v1h-25.67zM488.67 76h25.67v1h-25.67zM565.67 314h25.67v1h-25.67zM411.67 355h25.67v1h-25.67zM565.67 405h25.67v1h-25.67zM411.67 407h25.67v1h-25.67z"/>
<path fill="#F9C6C6" d="M488.67 58h25.67v1h-25.67zM540 64h25.67v1h-25.67zM514.33 82h25.67v1h-25.67zM565.67 100h25.67v1h-25.67zM565.67 158h25.67v1h-25.67zM540 172h25.67v1h-25.67zM540 184h25.67v1h-25.67zM386 239h25.67v1h-25.67zM591.33 253h25.67v1h-25.67zM591.33 273h25.67v1h-25.67zM565.67 295h25.67v1h-25.67zM437.33 333h25.67v1h-25.67zM540 341h25.67v1h-25.67zM437.33 364h25.67v1h-25.67zM540 427h25.67v1h-25.67z"/>
<path fill="#EDBDC0" d="M540 58h25.67v1h-25.67zM514.33 144h25.67v1h-25.67z"/>
<path fill="#F9C9C9" d="M565.67 58h25.67v1h-25.67zM514.33 84h25.67v1h-25.67zM591.33 106h25.67v1h-25.67zM540 125h25.67v1h-25.67zM463 137h25.67v1h-25.67zM565.67 174h25.67v1h-25.67zM488.67 184h25.67v1h-25.67zM514.33 200h25.67v1h-25.67zM488.67 207h25.67v1h-25.67zM565.67 234h25.67v1h-25.67zM591.33 260h25.67v1h-25.67zM565.67 348h25.67v1h-25.67zM591.33 418h25.67v1h-25.67z"/>
<path fill="#7EA8E7" d="M386 59h25.67v1h-25.67zM411.67 61h25.67v1h-25.67zM411.67 67h25.67v1h-25.67zM540 80h25.67v1h-25.67zM411.67 83h25.67v1h-25.67zM386 84h25.67v1h-25.67zM411.67 87h25.67v1h-25.67zM386 91h25.67v1h-25.67zM565.67 118h25.67v1h-25.67zM411.67 119h25.67v1h-25.67zM386 120h25.67v1h-25.67zM437.33 120h25.67v1h-25.67zM411.67 123h25.67v1h-25.67zM411.67 124h25.67v1h-25.67zM437.33 150h25.67v1h-25.67zM411.67 157h25.67v1h-25.67zM386 173h25.67v1h-25.67zM411.67 183h25.67v1h-25.67zM411.67 187h25.67v1h-25.67zM437.33 187h25.67v1h-25.67zM591.33 199h25.67v1h-25.67zM411.67 209h25.67v1h-25.67zM463 216h25.67v1h-25.67zM463 218h25.67v1h-25.67zM463 226h25.67v1h-25.67zM463 242h25.67v1h-25.67zM488.67 247h25.67v1h-25.67zM463 252h25.67v1h-25.67zM463 258h25.67v1h-25.67zM463 263h25.67v1h-25.67zM463 293h25.67v1h-25.67zM488.67 299h25.67v1h-25.67zM463 331h25.67v1h-25.67zM463 352h25.67v1h-25.67zM565.67 362h25.67v1h-25.67zM463 379h25.67v1h-25.67zM514.33 401h25.67v1h-25.67zM540 401h25.67v1h-25.67zM488.67 416h25.67v1h-25.67zM488.67 424h25.67v1h-25.67zM463 435h25.67v1h-25.67z"/>
<path fill="#EA544E" d="M463 59h25.67v1h-25.67zM514.33 163h25.67v1h-25.67z"/>
<path fill="#F39390" d="M488.67 59h25.67v1h-25.67zM463 74h25.67v1h-25.67zM514.33 99h25.67v1h-25.67zM488.67 105h25.67v1h-25.67zM540 111h25.67v1h-25.67zM514.33 115h25.67v1h-25.67zM514.33 124h25.67v1h-25.67zM463 153h25.67v1h-25.67zM514.33 201h25.67v1h-25.67zM591.33 208h25.67v1h-25.67zM411.67 279h25.67v1h-25.67zM386 281h25.67v1h-25.67zM437.33 282h25.67v1h-25.67zM437.33 285h25.67v1h-25.67zM591.33 286h25.67v1h-25.67zM411.67 290h25.67v1h-25.67zM386 296h25.67v1h-25.67zM411.67 316h25.67v1h-25.67zM540 331h25.67v1h-25.67zM437.33 336h25.67v1h-25.67zM411.67 356h25.67v1h-25.67zM437.33 375h25.67v1h-25.67zM386 379h25.67v1h-25.67zM437.33 381h25.67v1h-25.67zM565.67 409h25.67v1h-25.67zM565.67 411h25.67v1h-25.67zM411.67 419h25.67v1h-25.67zM591.33 435h25.67v1h-25.67z"/>
<path fill="#F07E7B" d="M540 59h25.67v1h-25.67zM514.33 71h25.67v1h-25.67zM488.67 85h25.67v1h-25.67zM488.67 87h25.67v1h-25.67zM463 90h25.67v1h-25.67zM488.67 96h25.67v1h-25.67zM514.33 108h25.67v1h-25.67zM463 134h25.67v1h-25.67zM514.33 153h25.67v1h-25.67zM514.33 155h25.67v1h-25.67zM488.67 161h25.67v1h-25.67zM463 163h25.67v1h-25.67zM488.67 164h25.67v1h-25.67zM540 203h25.67v1h-25.67zM411.67 224h25.67v1h-25.67zM386 234h25.67v1h-25.67zM437.33 255h25.67v1h-25.67zM386 262h25.67v1h-25.67zM386 268h25.67v1h-25.67zM411.67 283h25.67v1h-25.67zM565.67 296h25.67v1h-25.67zM386 333h25.67v1h-25.67zM411.67 359h25.67v1h-25.67zM411.67 368h25.67v1h-25.67zM386 402h25.67v1h-25.67zM386 405h25.67v1h-25.67zM437.33 419h25.67v1h-25.67zM437.33 432h25.67v1h-25.67zM386 437h25.67v1h-25.67z"/>
<path fill="#F08A87" d="M565.67 59h25.67v1h-25.67zM591.33 65h25.67v1h-25.67zM514.33 90h25.67v1h-25.67zM463 93h25.67v1h-25.67zM540 95h25.67v1h-25.67zM514.33 110h25.67v1h-25.67zM488.67 146h25.67v1h-25.67zM463 166h25.67v1h-25.67zM463 168h25.67v1h-25.67zM514.33 170h25.67v1h-25.67zM463 184h25.67v1h-25.67zM514.33 187h25.67v1h-25.67zM488.67 196h25.67v1h-25.67zM463 201h25.67v1h-25.67zM437.33 228h25.67v1h-25.67zM437.33 246h25.67v1h-25.67zM411.67 248h25.67v1h-25.67zM437.33 259h25.67v1h-25.67zM386 272h25.67v1h-25.67zM437.33 272h25.67v1h-25.67zM437.33 273h25.67v1h-25.67zM437.33 288h25.67v1h-25.67zM565.67 302h25.67v1h-25.67zM437.33 308h25.67v1h-25.67zM540 319h25.67v1h-25.67zM411.67 367h25.67v1h-25.67zM411.67 369h25.67v1h-25.67zM540 369h25.67v1h-25.67zM437.33 370h25.67v1h-25.67zM565.67 372h25.67v1h-25.67zM437.33 382h25.67v1h-25.67zM386 400h25.67v1h-25.67z"/>
<path fill="#E1BAC6" d="M591.33 59h25.67v1h-25.67zM591.33 176h25.67v1h-25.67zM540 201h25.67v1h-25.67z"/>
<path fill="#518AE1" d="M386 60h25.67v1h-25.67zM411.67 62h25.67v1h-25.67zM386 121h25.67v1h-25.67zM386 201h25.67v1h-25.67zM386 210h25.67v1h-25.67zM463 261h25.67v1h-25.67zM514.33 310h25.67v1h-25.67zM514.33 316h25.67v1h-25.67zM463 351h25.67v1h-25.67zM591.33 373h25.67v1h-25.67z"/>
<path fill="#ED6C69" d="M488.67 60h25.67v1h-25.67zM514.33 66h25.67v1h-25.67zM514.33 91h25.67v1h-25.67zM463 126h25.67v1h-25.67zM463 141h25.67v1h-25.67zM488.67 153h25.67v1h-25.67zM488.67 182h25.67v1h-25.67zM514.33 184h25.67v1h-25.67zM386 260h25.67v1h-25.67zM565.67 273h25.67v1h-25.67zM386 275h25.67v1h-25.67zM411.67 293h25.67v1h-25.67zM386 297h25.67v1h-25.67zM411.67 338h25.67v1h-25.67zM386 346h25.67v1h-25.67zM411.67 348h25.67v1h-25.67zM386 368h25.67v1h-25.67zM411.67 385h25.67v1h-25.67zM437.33 389h25.67v1h-25.67zM386 390h25.67v1h-25.67zM411.67 403h25.67v1h-25.67zM437.33 422h25.67v1h-25.67zM411.67 427h25.67v1h-25.67zM411.67 434h25.67v1h-25.67z"/>
<path fill="#FCDBDB" d="M514.33 60h25.67v1h-25.67zM514.33 73h25.67v1h-25.67zM591.33 77h25.67v1h-25.67zM488.67 132h25.67v1h-25.67zM514.33 135h25.67v1h-25.67zM488.67 193h25.67v1h-25.67zM488.67 194h25.67v1h-25.67zM565.67 244h25.67v1h-25.67zM437.33 300h25.67v1h-25.67zM591.33 307h25.67v1h-25.67zM437.33 385h25.67v1h-25.67zM540 388h25.67v1h-25.67z"/>
<path fill="#8496D2" d="M540 60h25.67v1h-25.67z"/>
<path fill="#F6B7B4" d="M565.67 60h25.67v1h-25.67zM514.33 75h25.67v1h-25.67zM488.67 99h25.67v1h-25.67zM540 173h25.67v1h-25.67zM386 235h25.67v1h-25.67zM591.33 271h25.67v1h-25.67z"/>
<path fill="#F9F6F9" d="M591.33 60h25.67v1h-25.67z"/>
<path fill="#6699E4" d="M437.33 61h25.67v1h-25.67zM386 87h25.67v1h-25.67zM437.33 101h25.67v1h-25.67zM411.67 176h25.67v1h-25.67zM411.67 191h25.67v1h-25.67zM437.33 191h25.67v1h-25.67zM463 268h25.67v1h-25.67zM514.33 290h25.67v1h-25.67zM514.33 315h25.67v1h-25.67zM540 358h25.67v1h-25.67zM514.33 370h25.67v1h-25.67zM540 384h25.67v1h-25.67zM463 385h25.67v1h-25.67zM463 387h25.67v1h-25.67z"/>
<path fill="#FCDEDB" d="M463 61h25.67v1h-25.67zM488.67 103h25.67v1h-25.67zM514.33 140h25.67v1h-25.67z"/>
<path fill="#F9C9C6" d="M514.33 61h25.67v1h-25.67zM540 70h25.67v1h-25.67zM565.67 243h25.67v1h-25.67zM386 351h25.67v1h-25.67zM565.67 417h25.67v1h-25.67z"/>
<path fill="#F9CCCC" d="M565.67 61h25.67v1h-25.67zM463 68h25.67v1h-25.67zM488.67 140h25.67v1h-25.67zM565.67 220h25.67v1h-25.67zM540 222h25.67v1h-25.67zM437.33 312h25.67v1h-25.67zM386 323h25.67v1h-25.67zM437.33 328h25.67v1h-25.67zM386 338h25.67v1h-25.67zM565.67 350h25.67v1h-25.67zM591.33 383h25.67v1h-25.67zM540 398h25.67v1h-25.67zM386 423h25.67v1h-25.67zM565.67 424h25.67v1h-25.67z"/>
<path fill="#FCE1DE" d="M591.33 61h25.67v1h-25.67zM437.33 302h25.67v1h-25.67z"/>
<path fill="#F9DEDE" d="M386 62h25.67v1h-25.67zM540 120h25.67v1h-25.67zM565.67 283h25.67v1h-25.67zM386 349h25.67v1h-25.67z"/>
<path fill="#F3A5A2" d="M463 62h25.67v1h-25.67zM488.67 88h25.67v1h-25.67zM488.67 89h25.67v1h-25.67zM488.67 125h25.67v1h-25.67zM463 129h25.67v1h-25.67zM565.67 137h25.67v1h-25.67zM463 142h25.67v1h-25.67zM488.67 203h25.67v1h-25.67zM591.33 207h25.67v1h-25.67zM411.67 235h25.67v1h-25.67zM386 238h25.67v1h-25.67zM437.33 275h25.67v1h-25.67zM437.33 280h25.67v1h-25.67zM386 294h25.67v1h-25.67zM386 295h25.67v1h-25.67zM540 304h25.67v1h-25.67zM386 328h25.67v1h-25.67zM386 365h25.67v1h-25.67zM386 397h25.67v1h-25.67zM437.33 399h25.67v1h-25.67zM411.67 402h25.67v1h-25.67zM437.33 406h25.67v1h-25.67zM386 420h25.67v1h-25.67zM591.33 427h25.67v1h-25.67z"/>
<path fill="#F0BDC0" d="M488.67 62h25.67v1h-25.67z"/>
<path fill="#8AB1EA" d="M540 62h25.67v1h-25.67zM411.67 80h25.67v1h-25.67zM411.67 81h25.67v1h-25.67zM386 83h25.67v1h-25.67zM411.67 92h25.67v1h-25.67zM386 99h25.67v1h-25.67zM411.67 116h25.67v1h-25.67zM386 126h25.67v1h-25.67zM437.33 143h25.67v1h-25.67zM386 144h25.67v1h-25.67zM540 149h25.67v1h-25.67zM540 152h25.67v1h-25.67zM437.33 154h25.67v1h-25.67zM437.33 159h25.67v1h-25.67zM386 172h25.67v1h-25.67zM411.67 180h25.67v1h-25.67zM437.33 185h25.67v1h-25.67zM437.33 193h25.67v1h-25.67zM437.33 194h25.67v1h-25.67zM386 195h25.67v1h-25.67zM437.33 198h25.67v1h-25.67zM411.67 203h25.67v1h-25.67zM386 212h25.67v1h-25.67zM463 225h25.67v1h-25.67zM514.33 238h25.67v1h-25.67zM514.33 244h25.67v1h-25.67zM463 251h25.67v1h-25.67zM463 256h25.67v1h-25.67zM514.33 275h25.67v1h-25.67zM514.33 280h25.67v1h-25.67zM463 286h25.67v1h-25.67zM488.67 348h25.67v1h-25.67zM540 360h25.67v1h-25.67zM463 372h25.67v1h-25.67zM488.67 376h25.67v1h-25.67zM463 383h25.67v1h-25.67zM514.33 400h25.67v1h-25.67zM488.67 414h25.67v1h-25.67zM540 423h25.67v1h-25.67zM540 432h25.67v1h-25.67z"/>
<path fill="#BAA5C0" d="M565.67 62h25.67v1h-25.67z"/>
<path fill="#F6EAED" d="M591.33 62h25.67v1h-25.67zM565.67 93h25.67v1h-25.67zM565.67 163h25.67v1h-25.67zM565.67 168h25.67v1h-25.67zM386 331h25.67v1h-25.67z"/>
<path fill="#F6F0F3" d="M386 63h25.67v1h-25.67z"/>
<path fill="#7BA8E7" d="M411.67 63h25.67v1h-25.67zM386 117h25.67v1h-25.67zM437.33 174h25.67v1h-25.67zM463 229h25.67v1h-25.67zM514.33 274h25.67v1h-25.67zM514.33 283h25.67v1h-25.67zM540 335h25.67v1h-25.67zM463 354h25.67v1h-25.67zM514.33 376h25.67v1h-25.67zM514.33 379h25.67v1h-25.67zM463 402h25.67v1h-25.67zM488.67 402h25.67v1h-25.67zM463 416h25.67v1h-25.67z"/>
<path fill="#96B7ED" d="M437.33 63h25.67v1h-25.67zM411.67 72h25.67v1h-25.67zM437.33 76h25.67v1h-25.67zM411.67 84h25.67v1h-25.67zM437.33 108h25.67v1h-25.67zM386 111h25.67v1h-25.67zM437.33 124h25.67v1h-25.67zM411.67 125h25.67v1h-25.67zM437.33 126h25.67v1h-25.67zM386 131h25.67v1h-25.67zM565.67 160h25.67v1h-25.67zM386 207h25.67v1h-25.67zM437.33 207h25.67v1h-25.67zM514.33 269h25.67v1h-25.67zM514.33 289h25.67v1h-25.67zM463 400h25.67v1h-25.67zM488.67 405h25.67v1h-25.67zM514.33 416h25.67v1h-25.67zM514.33 417h25.67v1h-25.67z"/>
<path fill="#F6B4B1" d="M463 63h25.67v1h-25.67zM514.33 81h25.67v1h-25.67zM514.33 96h25.67v1h-25.67zM463 122h25.67v1h-25.67zM463 131h25.67v1h-25.67zM514.33 203h25.67v1h-25.67zM488.67 209h25.67v1h-25.67zM591.33 212h25.67v1h-25.67zM437.33 231h25.67v1h-25.67zM437.33 276h25.67v1h-25.67zM591.33 304h25.67v1h-25.67zM437.33 321h25.67v1h-25.67zM411.67 349h25.67v1h-25.67zM411.67 381h25.67v1h-25.67zM386 387h25.67v1h-25.67zM540 392h25.67v1h-25.67zM386 435h25.67v1h-25.67zM437.33 436h25.67v1h-25.67z"/>
<path fill="#EDA2A5" d="M488.67 63h25.67v1h-25.67z"/>
<path fill="#F6BDBD" d="M514.33 63h25.67v1h-25.67zM591.33 67h25.67v1h-25.67zM565.67 91h25.67v1h-25.67zM463 162h25.67v1h-25.67zM488.67 174h25.67v1h-25.67zM463 179h25.67v1h-25.67zM514.33 198h25.67v1h-25.67zM463 202h25.67v1h-25.67zM437.33 219h25.67v1h-25.67zM437.33 230h25.67v1h-25.67zM565.67 241h25.67v1h-25.67zM565.67 267h25.67v1h-25.67zM437.33 268h25.67v1h-25.67zM591.33 272h25.67v1h-25.67zM565.67 354h25.67v1h-25.67zM386 358h25.67v1h-25.67zM565.67 432h25.67v1h-25.67z"/>
<path fill="#96B7EA" d="M540 63h25.67v1h-25.67z"/>
<path fill="#F6F3F6" d="M591.33 63h25.67v1h-25.67zM591.33 128h25.67v1h-25.67z"/>
<path fill="#E1EAF9" d="M386 64h25.67v1h-25.67zM386 177h25.67v1h-25.67zM514.33 241h25.67v1h-25.67zM591.33 265h25.67v1h-25.67zM488.67 267h25.67v1h-25.67zM488.67 276h25.67v1h-25.67zM463 343h25.67v1h-25.67zM463 346h25.67v1h-25.67zM488.67 347h25.67v1h-25.67zM591.33 424h25.67v1h-25.67z"/>
<path fill="#87AEEA" d="M411.67 64h25.67v1h-25.67zM386 66h25.67v1h-25.67zM386 73h25.67v1h-25.67zM437.33 85h25.67v1h-25.67zM411.67 95h25.67v1h-25.67zM411.67 96h25.67v1h-25.67zM411.67 100h25.67v1h-25.67zM386 112h25.67v1h-25.67zM411.67 127h25.67v1h-25.67zM437.33 128h25.67v1h-25.67zM437.33 142h25.67v1h-25.67zM437.33 144h25.67v1h-25.67zM386 146h25.67v1h-25.67zM386 155h25.67v1h-25.67zM386 159h25.67v1h-25.67zM411.67 160h25.67v1h-25.67zM386 169h25.67v1h-25.67zM437.33 183h25.67v1h-25.67zM463 217h25.67v1h-25.67zM514.33 228h25.67v1h-25.67zM463 243h25.67v1h-25.67zM488.67 248h25.67v1h-25.67zM463 249h25.67v1h-25.67zM488.67 260h25.67v1h-25.67zM514.33 271h25.67v1h-25.67zM488.67 286h25.67v1h-25.67zM463 290h25.67v1h-25.67zM488.67 293h25.67v1h-25.67zM540 296h25.67v1h-25.67zM463 308h25.67v1h-25.67zM488.67 331h25.67v1h-25.67zM591.33 352h25.67v1h-25.67zM514.33 359h25.67v1h-25.67zM514.33 362h25.67v1h-25.67zM591.33 376h25.67v1h-25.67zM488.67 393h25.67v1h-25.67zM463 394h25.67v1h-25.67zM591.33 412h25.67v1h-25.67zM514.33 419h25.67v1h-25.67z"/>
<path fill="#F3A2A2" d="M463 64h25.67v1h-25.67zM591.33 90h25.67v1h-25.67zM540 98h25.67v1h-25.67zM463 113h25.67v1h-25.67zM565.67 113h25.67v1h-25.67zM540 114h25.67v1h-25.67zM488.67 119h25.67v1h-25.67zM488.67 173h25.67v1h-25.67zM488.67 210h25.67v1h-25.67zM514.33 211h25.67v1h-25.67zM411.67 244h25.67v1h-25.67zM386 252h25.67v1h-25.67zM437.33 325h25.67v1h-25.67zM386 339h25.67v1h-25.67z"/>
<path fill="#F0817E" d="M488.67 64h25.67v1h-25.67zM463 69h25.67v1h-25.67zM463 77h25.67v1h-25.67zM463 92h25.67v1h-25.67zM463 156h25.67v1h-25.67zM463 160h25.67v1h-25.67zM540 198h25.67v1h-25.67zM463 205h25.67v1h-25.67zM514.33 207h25.67v1h-25.67zM386 227h25.67v1h-25.67zM437.33 242h25.67v1h-25.67zM411.67 258h25.67v1h-25.67zM437.33 263h25.67v1h-25.67zM411.67 302h25.67v1h-25.67zM565.67 355h25.67v1h-25.67zM386 369h25.67v1h-25.67zM386 386h25.67v1h-25.67zM411.67 391h25.67v1h-25.67zM437.33 413h25.67v1h-25.67zM386 426h25.67v1h-25.67zM386 431h25.67v1h-25.67z"/>
<path fill="#DEE7F9" d="M386 65h25.67v1h-25.67zM488.67 325h25.67v1h-25.67z"/>
<path fill="#75A2E7" d="M411.67 65h25.67v1h-25.67zM386 77h25.67v1h-25.67zM411.67 88h25.67v1h-25.67zM386 93h25.67v1h-25.67zM437.33 104h25.67v1h-25.67zM411.67 105h25.67v1h-25.67zM437.33 138h25.67v1h-25.67zM437.33 160h25.67v1h-25.67zM411.67 167h25.67v1h-25.67zM565.67 183h25.67v1h-25.67zM437.33 184h25.67v1h-25.67zM463 275h25.67v1h-25.67zM463 280h25.67v1h-25.67zM463 291h25.67v1h-25.67zM488.67 297h25.67v1h-25.67zM463 301h25.67v1h-25.67zM514.33 331h25.67v1h-25.67zM514.33 357h25.67v1h-25.67zM488.67 379h25.67v1h-25.67zM488.67 415h25.67v1h-25.67zM463 417h25.67v1h-25.67z"/>
<path fill="#F39F9C" d="M488.67 65h25.67v1h-25.67zM565.67 73h25.67v1h-25.67zM514.33 98h25.67v1h-25.67zM514.33 112h25.67v1h-25.67zM488.67 157h25.67v1h-25.67zM514.33 178h25.67v1h-25.67zM514.33 183h25.67v1h-25.67zM488.67 191h25.67v1h-25.67zM386 257h25.67v1h-25.67zM437.33 258h25.67v1h-25.67zM411.67 285h25.67v1h-25.67zM437.33 327h25.67v1h-25.67zM565.67 341h25.67v1h-25.67zM565.67 343h25.67v1h-25.67zM386 364h25.67v1h-25.67zM437.33 369h25.67v1h-25.67zM386 370h25.67v1h-25.67zM386 422h25.67v1h-25.67zM386 436h25.67v1h-25.67z"/>
<path fill="#EA5D5A" d="M514.33 65h25.67v1h-25.67zM463 171h25.67v1h-25.67z"/>
<path fill="#5D90E1" d="M437.33 66h25.67v1h-25.67zM514.33 281h25.67v1h-25.67zM565.67 364h25.67v1h-25.67z"/>
<path fill="#E42421" d="M463 66h25.67v1h-25.67zM411.67 341h25.67v1h-25.67z"/>
<path fill="#ED635D" d="M488.67 66h25.67v1h-25.67zM411.67 438h25.67v1h-25.67z"/>
<path fill="#EAD5DB" d="M540 66h25.67v1h-25.67z"/>
<path fill="#DBE7F9" d="M565.67 66h25.67v1h-25.67zM591.33 68h25.67v1h-25.67zM565.67 70h25.67v1h-25.67zM386 75h25.67v1h-25.67zM437.33 109h25.67v1h-25.67zM437.33 156h25.67v1h-25.67zM437.33 205h25.67v1h-25.67zM488.67 227h25.67v1h-25.67zM488.67 240h25.67v1h-25.67zM488.67 279h25.67v1h-25.67zM514.33 288h25.67v1h-25.67zM488.67 370h25.67v1h-25.67zM488.67 400h25.67v1h-25.67zM540 404h25.67v1h-25.67zM488.67 408h25.67v1h-25.67z"/>
<path fill="#D5E1F3" d="M540 67h25.67v1h-25.67zM565.67 162h25.67v1h-25.67z"/>
<path fill="#D8D5E7" d="M565.67 67h25.67v1h-25.67zM591.33 247h25.67v1h-25.67z"/>
<path fill="#96BAED" d="M386 68h25.67v1h-25.67zM411.67 113h25.67v1h-25.67zM437.33 115h25.67v1h-25.67zM411.67 144h25.67v1h-25.67zM411.67 146h25.67v1h-25.67zM386 150h25.67v1h-25.67zM411.67 182h25.67v1h-25.67zM437.33 188h25.67v1h-25.67zM411.67 189h25.67v1h-25.67zM386 197h25.67v1h-25.67zM488.67 230h25.67v1h-25.67zM540 241h25.67v1h-25.67zM514.33 247h25.67v1h-25.67zM514.33 259h25.67v1h-25.67zM514.33 263h25.67v1h-25.67zM540 283h25.67v1h-25.67zM540 297h25.67v1h-25.67zM463 323h25.67v1h-25.67zM463 334h25.67v1h-25.67zM488.67 342h25.67v1h-25.67zM488.67 367h25.67v1h-25.67zM488.67 409h25.67v1h-25.67zM514.33 409h25.67v1h-25.67zM591.33 411h25.67v1h-25.67zM514.33 413h25.67v1h-25.67zM463 429h25.67v1h-25.67z"/>
<path fill="#ED756F" d="M514.33 68h25.67v1h-25.67z"/>
<path fill="#F3EDF0" d="M540 68h25.67v1h-25.67zM591.33 432h25.67v1h-25.67z"/>
<path fill="#EAEDF6" d="M386 69h25.67v1h-25.67zM540 75h25.67v1h-25.67zM591.33 324h25.67v1h-25.67z"/>
<path fill="#6093E1" d="M411.67 69h25.67v1h-25.67zM411.67 101h25.67v1h-25.67zM463 248h25.67v1h-25.67zM463 350h25.67v1h-25.67zM463 424h25.67v1h-25.67zM514.33 433h25.67v1h-25.67z"/>
<path fill="#E73933" d="M514.33 69h25.67v1h-25.67zM591.33 276h25.67v1h-25.67zM437.33 433h25.67v1h-25.67z"/>
<path fill="#F09C99" d="M540 69h25.67v1h-25.67zM565.67 221h25.67v1h-25.67z"/>
<path fill="#EDE4ED" d="M565.67 69h25.67v1h-25.67zM540 74h25.67v1h-25.67z"/>
<path fill="#EAD8E1" d="M591.33 69h25.67v1h-25.67zM591.33 229h25.67v1h-25.67zM540 308h25.67v1h-25.67z"/>
<path fill="#F3DBDE" d="M386 70h25.67v1h-25.67zM514.33 117h25.67v1h-25.67z"/>
<path fill="#84AEEA" d="M411.67 70h25.67v1h-25.67zM411.67 74h25.67v1h-25.67zM437.33 103h25.67v1h-25.67zM386 108h25.67v1h-25.67zM411.67 184h25.67v1h-25.67zM386 194h25.67v1h-25.67zM437.33 200h25.67v1h-25.67zM514.33 250h25.67v1h-25.67zM463 255h25.67v1h-25.67zM514.33 282h25.67v1h-25.67zM463 302h25.67v1h-25.67zM514.33 304h25.67v1h-25.67zM463 324h25.67v1h-25.67zM463 341h25.67v1h-25.67zM488.67 429h25.67v1h-25.67z"/>
<path fill="#F3908D" d="M488.67 70h25.67v1h-25.67zM463 71h25.67v1h-25.67zM488.67 83h25.67v1h-25.67zM488.67 114h25.67v1h-25.67zM540 116h25.67v1h-25.67zM463 117h25.67v1h-25.67zM488.67 142h25.67v1h-25.67zM488.67 152h25.67v1h-25.67zM488.67 154h25.67v1h-25.67zM514.33 156h25.67v1h-25.67zM514.33 176h25.67v1h-25.67zM488.67 195h25.67v1h-25.67zM411.67 222h25.67v1h-25.67zM386 230h25.67v1h-25.67zM411.67 240h25.67v1h-25.67zM565.67 252h25.67v1h-25.67zM386 274h25.67v1h-25.67zM437.33 294h25.67v1h-25.67zM591.33 311h25.67v1h-25.67zM411.67 312h25.67v1h-25.67zM411.67 315h25.67v1h-25.67zM591.33 341h25.67v1h-25.67zM386 354h25.67v1h-25.67zM411.67 366h25.67v1h-25.67zM437.33 374h25.67v1h-25.67zM437.33 404h25.67v1h-25.67zM437.33 418h25.67v1h-25.67z"/>
<path fill="#F9F3F6" d="M386 71h25.67v1h-25.67zM514.33 141h25.67v1h-25.67zM437.33 344h25.67v1h-25.67z"/>
<path fill="#C9DBF6" d="M411.67 71h25.67v1h-25.67zM565.67 124h25.67v1h-25.67zM437.33 131h25.67v1h-25.67zM386 158h25.67v1h-25.67zM437.33 168h25.67v1h-25.67zM437.33 170h25.67v1h-25.67zM591.33 173h25.67v1h-25.67zM386 174h25.67v1h-25.67zM386 185h25.67v1h-25.67zM565.67 190h25.67v1h-25.67zM411.67 212h25.67v1h-25.67zM463 221h25.67v1h-25.67zM488.67 235h25.67v1h-25.67zM540 240h25.67v1h-25.67zM540 265h25.67v1h-25.67zM488.67 268h25.67v1h-25.67zM488.67 281h25.67v1h-25.67zM540 291h25.67v1h-25.67zM514.33 364h25.67v1h-25.67zM565.67 366h25.67v1h-25.67zM540 372h25.67v1h-25.67zM565.67 381h25.67v1h-25.67zM514.33 383h25.67v1h-25.67zM488.67 390h25.67v1h-25.67zM514.33 405h25.67v1h-25.67zM463 411h25.67v1h-25.67zM514.33 420h25.67v1h-25.67zM540 438h25.67v1h-25.67z"/>
<path fill="#FCE7E4" d="M488.67 71h25.67v1h-25.67z"/>
<path fill="#9690C3" d="M540 71h25.67v1h-25.67z"/>
<path fill="#ABC6F0" d="M565.67 71h25.67v1h-25.67zM386 100h25.67v1h-25.67zM437.33 122h25.67v1h-25.67zM437.33 152h25.67v1h-25.67zM437.33 158h25.67v1h-25.67zM411.67 181h25.67v1h-25.67zM386 193h25.67v1h-25.67zM386 196h25.67v1h-25.67zM411.67 211h25.67v1h-25.67zM514.33 221h25.67v1h-25.67zM488.67 223h25.67v1h-25.67zM591.33 241h25.67v1h-25.67zM463 246h25.67v1h-25.67zM565.67 249h25.67v1h-25.67zM514.33 273h25.67v1h-25.67zM488.67 307h25.67v1h-25.67zM463 310h25.67v1h-25.67zM488.67 310h25.67v1h-25.67zM540 314h25.67v1h-25.67zM488.67 319h25.67v1h-25.67zM514.33 329h25.67v1h-25.67zM514.33 334h25.67v1h-25.67zM463 337h25.67v1h-25.67zM514.33 342h25.67v1h-25.67zM591.33 349h25.67v1h-25.67zM488.67 363h25.67v1h-25.67zM540 366h25.67v1h-25.67zM463 374h25.67v1h-25.67zM463 376h25.67v1h-25.67zM565.67 379h25.67v1h-25.67zM463 398h25.67v1h-25.67zM540 403h25.67v1h-25.67zM514.33 408h25.67v1h-25.67zM463 412h25.67v1h-25.67zM488.67 430h25.67v1h-25.67z"/>
<path fill="#F0C3C6" d="M591.33 71h25.67v1h-25.67zM565.67 334h25.67v1h-25.67z"/>
<path fill="#ED817E" d="M540 72h25.67v1h-25.67z"/>
<path fill="#F0C6C6" d="M565.67 72h25.67v1h-25.67z"/>
<path fill="#F0BABD" d="M591.33 72h25.67v1h-25.67z"/>
<path fill="#F6BDBA" d="M463 73h25.67v1h-25.67zM488.67 81h25.67v1h-25.67zM514.33 100h25.67v1h-25.67zM565.67 170h25.67v1h-25.67zM488.67 185h25.67v1h-25.67zM463 204h25.67v1h-25.67zM411.67 223h25.67v1h-25.67zM540 259h25.67v1h-25.67zM540 294h25.67v1h-25.67zM386 381h25.67v1h-25.67zM565.67 404h25.67v1h-25.67z"/>
<path fill="#D2E1F6" d="M386 74h25.67v1h-25.67zM386 76h25.67v1h-25.67zM565.67 115h25.67v1h-25.67zM437.33 155h25.67v1h-25.67zM437.33 167h25.67v1h-25.67zM386 206h25.67v1h-25.67zM488.67 225h25.67v1h-25.67zM514.33 226h25.67v1h-25.67zM514.33 260h25.67v1h-25.67zM488.67 278h25.67v1h-25.67zM591.33 298h25.67v1h-25.67zM514.33 314h25.67v1h-25.67zM463 319h25.67v1h-25.67zM591.33 335h25.67v1h-25.67zM540 337h25.67v1h-25.67zM488.67 338h25.67v1h-25.67zM514.33 366h25.67v1h-25.67zM565.67 383h25.67v1h-25.67zM488.67 412h25.67v1h-25.67z"/>
<path fill="#93B4EA" d="M437.33 74h25.67v1h-25.67z"/>
<path fill="#F6CFD2" d="M488.67 74h25.67v1h-25.67z"/>
<path fill="#E77E81" d="M565.67 74h25.67v1h-25.67z"/>
<path fill="#F9F0F3" d="M591.33 74h25.67v1h-25.67zM565.67 97h25.67v1h-25.67zM386 137h25.67v1h-25.67zM565.67 222h25.67v1h-25.67zM386 309h25.67v1h-25.67z"/>
<path fill="#4B87DE" d="M411.67 75h25.67v1h-25.67zM411.67 126h25.67v1h-25.67zM463 316h25.67v1h-25.67zM514.33 317h25.67v1h-25.67z"/>
<path fill="#F6F0F6" d="M437.33 75h25.67v1h-25.67zM591.33 362h25.67v1h-25.67z"/>
<path fill="#E4EDF9" d="M591.33 75h25.67v1h-25.67zM565.67 76h25.67v1h-25.67zM565.67 104h25.67v1h-25.67zM565.67 161h25.67v1h-25.67zM591.33 180h25.67v1h-25.67zM386 199h25.67v1h-25.67zM488.67 266h25.67v1h-25.67zM565.67 324h25.67v1h-25.67zM514.33 337h25.67v1h-25.67zM437.33 350h25.67v1h-25.67zM514.33 375h25.67v1h-25.67zM488.67 413h25.67v1h-25.67z"/>
<path fill="#F6A8A5" d="M463 76h25.67v1h-25.67zM514.33 79h25.67v1h-25.67zM463 81h25.67v1h-25.67zM463 88h25.67v1h-25.67zM488.67 122h25.67v1h-25.67zM488.67 135h25.67v1h-25.67zM514.33 139h25.67v1h-25.67zM591.33 152h25.67v1h-25.67zM540 229h25.67v1h-25.67zM565.67 235h25.67v1h-25.67zM591.33 342h25.67v1h-25.67zM565.67 419h25.67v1h-25.67zM591.33 431h25.67v1h-25.67z"/>
<path fill="#D8DEF0" d="M591.33 76h25.67v1h-25.67zM540 370h25.67v1h-25.67zM565.67 391h25.67v1h-25.67z"/>
<path fill="#ABC9F0" d="M411.67 77h25.67v1h-25.67zM488.67 218h25.67v1h-25.67z"/>
<path fill="#DBCFDE" d="M540 77h25.67v1h-25.67z"/>
<path fill="#4581DE" d="M386 78h25.67v1h-25.67zM411.67 166h25.67v1h-25.67zM386 171h25.67v1h-25.67zM514.33 385h25.67v1h-25.67zM514.33 437h25.67v1h-25.67z"/>
<path fill="#6999E4" d="M437.33 78h25.67v1h-25.67zM386 94h25.67v1h-25.67zM411.67 118h25.67v1h-25.67zM540 148h25.67v1h-25.67zM437.33 186h25.67v1h-25.67zM437.33 190h25.67v1h-25.67zM540 233h25.67v1h-25.67zM514.33 234h25.67v1h-25.67zM514.33 352h25.67v1h-25.67zM488.67 392h25.67v1h-25.67zM591.33 406h25.67v1h-25.67zM463 436h25.67v1h-25.67zM514.33 438h25.67v1h-25.67z"/>
<path fill="#F07875" d="M514.33 78h25.67v1h-25.67zM463 95h25.67v1h-25.67zM514.33 97h25.67v1h-25.67zM514.33 102h25.67v1h-25.67zM463 103h25.67v1h-25.67zM488.67 108h25.67v1h-25.67zM488.67 126h25.67v1h-25.67zM488.67 163h25.67v1h-25.67zM514.33 179h25.67v1h-25.67zM514.33 181h25.67v1h-25.67zM488.67 188h25.67v1h-25.67zM488.67 206h25.67v1h-25.67zM514.33 209h25.67v1h-25.67zM386 222h25.67v1h-25.67zM411.67 233h25.67v1h-25.67zM437.33 236h25.67v1h-25.67zM411.67 253h25.67v1h-25.67zM591.33 269h25.67v1h-25.67zM386 273h25.67v1h-25.67zM386 284h25.67v1h-25.67zM437.33 286h25.67v1h-25.67zM411.67 287h25.67v1h-25.67zM411.67 288h25.67v1h-25.67zM437.33 299h25.67v1h-25.67zM591.33 310h25.67v1h-25.67zM386 350h25.67v1h-25.67zM411.67 370h25.67v1h-25.67zM437.33 380h25.67v1h-25.67zM437.33 388h25.67v1h-25.67zM411.67 396h25.67v1h-25.67zM437.33 396h25.67v1h-25.67zM411.67 423h25.67v1h-25.67zM437.33 427h25.67v1h-25.67zM411.67 432h25.67v1h-25.67z"/>
<path fill="#B1C6EA" d="M540 78h25.67v1h-25.67z"/>
<path fill="#CFDBF3" d="M591.33 78h25.67v1h-25.67z"/>
<path fill="#3978DB" d="M386 79h25.67v1h-25.67z"/>
<path fill="#CFDEF6" d="M411.67 79h25.67v1h-25.67zM565.67 167h25.67v1h-25.67zM591.33 188h25.67v1h-25.67zM386 198h25.67v1h-25.67zM591.33 249h25.67v1h-25.67zM463 298h25.67v1h-25.67zM514.33 302h25.67v1h-25.67zM463 312h25.67v1h-25.67zM591.33 315h25.67v1h-25.67zM540 317h25.67v1h-25.67zM540 321h25.67v1h-25.67zM514.33 323h25.67v1h-25.67zM488.67 358h25.67v1h-25.67zM463 362h25.67v1h-25.67zM488.67 385h25.67v1h-25.67zM591.33 392h25.67v1h-25.67zM514.33 421h25.67v1h-25.67zM514.33 427h25.67v1h-25.67z"/>
<path fill="#729FE7" d="M437.33 79h25.67v1h-25.67zM411.67 98h25.67v1h-25.67zM411.67 128h25.67v1h-25.67zM437.33 147h25.67v1h-25.67zM514.33 230h25.67v1h-25.67zM463 231h25.67v1h-25.67zM514.33 319h25.67v1h-25.67zM514.33 392h25.67v1h-25.67z"/>
<path fill="#F6AEAB" d="M463 79h25.67v1h-25.67zM463 84h25.67v1h-25.67zM488.67 84h25.67v1h-25.67zM463 85h25.67v1h-25.67zM463 91h25.67v1h-25.67zM488.67 124h25.67v1h-25.67zM514.33 158h25.67v1h-25.67zM565.67 242h25.67v1h-25.67zM411.67 249h25.67v1h-25.67zM437.33 291h25.67v1h-25.67zM437.33 322h25.67v1h-25.67zM386 330h25.67v1h-25.67zM565.67 330h25.67v1h-25.67zM386 332h25.67v1h-25.67zM437.33 415h25.67v1h-25.67z"/>
<path fill="#F6F9FF" d="M540 79h25.67v1h-25.67zM565.67 156h25.67v1h-25.67z"/>
<path fill="#C996AB" d="M565.67 79h25.67v1h-25.67z"/>
<path fill="#3075DB" d="M386 80h25.67v1h-25.67zM386 115h25.67v1h-25.67zM591.33 293h25.67v1h-25.67z"/>
<path fill="#548DE1" d="M437.33 80h25.67v1h-25.67zM386 188h25.67v1h-25.67zM463 260h25.67v1h-25.67zM514.33 305h25.67v1h-25.67z"/>
<path fill="#E4E7F3" d="M565.67 80h25.67v1h-25.67zM540 239h25.67v1h-25.67zM488.67 309h25.67v1h-25.67z"/>
<path fill="#ED8787" d="M591.33 80h25.67v1h-25.67zM565.67 435h25.67v1h-25.67z"/>
<path fill="#5D93E1" d="M437.33 81h25.67v1h-25.67zM411.67 102h25.67v1h-25.67zM411.67 165h25.67v1h-25.67zM386 170h25.67v1h-25.67zM411.67 173h25.67v1h-25.67zM565.67 203h25.67v1h-25.67zM565.67 210h25.67v1h-25.67zM386 211h25.67v1h-25.67zM514.33 239h25.67v1h-25.67zM463 278h25.67v1h-25.67zM514.33 321h25.67v1h-25.67zM463 340h25.67v1h-25.67zM514.33 399h25.67v1h-25.67z"/>
<path fill="#CCDEF6" d="M565.67 81h25.67v1h-25.67zM540 82h25.67v1h-25.67zM488.67 237h25.67v1h-25.67zM514.33 286h25.67v1h-25.67zM540 336h25.67v1h-25.67zM565.67 367h25.67v1h-25.67zM488.67 373h25.67v1h-25.67zM514.33 393h25.67v1h-25.67zM488.67 403h25.67v1h-25.67z"/>
<path fill="#E4BAC3" d="M591.33 81h25.67v1h-25.67z"/>
<path fill="#F39C99" d="M488.67 82h25.67v1h-25.67zM591.33 89h25.67v1h-25.67zM463 102h25.67v1h-25.67zM514.33 104h25.67v1h-25.67zM463 138h25.67v1h-25.67zM591.33 139h25.67v1h-25.67zM463 167h25.67v1h-25.67zM591.33 178h25.67v1h-25.67zM540 179h25.67v1h-25.67zM463 186h25.67v1h-25.67zM514.33 208h25.67v1h-25.67zM514.33 210h25.67v1h-25.67zM565.67 233h25.67v1h-25.67zM411.67 246h25.67v1h-25.67zM386 249h25.67v1h-25.67zM437.33 274h25.67v1h-25.67zM437.33 289h25.67v1h-25.67zM386 293h25.67v1h-25.67zM565.67 308h25.67v1h-25.67zM437.33 317h25.67v1h-25.67zM411.67 339h25.67v1h-25.67zM386 352h25.67v1h-25.67zM411.67 353h25.67v1h-25.67zM411.67 354h25.67v1h-25.67zM386 356h25.67v1h-25.67zM411.67 379h25.67v1h-25.67zM386 393h25.67v1h-25.67zM565.67 396h25.67v1h-25.67zM386 401h25.67v1h-25.67zM437.33 437h25.67v1h-25.67z"/>
<path fill="#B4CCF0" d="M565.67 82h25.67v1h-25.67zM540 83h25.67v1h-25.67zM437.33 157h25.67v1h-25.67zM565.67 166h25.67v1h-25.67zM540 182h25.67v1h-25.67zM437.33 195h25.67v1h-25.67zM591.33 217h25.67v1h-25.67zM463 227h25.67v1h-25.67zM463 235h25.67v1h-25.67zM488.67 242h25.67v1h-25.67zM565.67 260h25.67v1h-25.67zM565.67 264h25.67v1h-25.67zM488.67 328h25.67v1h-25.67zM488.67 353h25.67v1h-25.67z"/>
<path fill="#D5E4F6" d="M591.33 82h25.67v1h-25.67zM411.67 133h25.67v1h-25.67zM488.67 231h25.67v1h-25.67zM514.33 396h25.67v1h-25.67z"/>
<path fill="#A8C6F0" d="M437.33 83h25.67v1h-25.67zM386 90h25.67v1h-25.67zM386 107h25.67v1h-25.67zM565.67 131h25.67v1h-25.67zM411.67 145h25.67v1h-25.67zM437.33 151h25.67v1h-25.67zM437.33 189h25.67v1h-25.67zM411.67 198h25.67v1h-25.67zM488.67 244h25.67v1h-25.67zM514.33 254h25.67v1h-25.67zM463 282h25.67v1h-25.67zM514.33 296h25.67v1h-25.67zM463 321h25.67v1h-25.67zM488.67 344h25.67v1h-25.67zM488.67 374h25.67v1h-25.67zM488.67 389h25.67v1h-25.67zM514.33 404h25.67v1h-25.67zM488.67 425h25.67v1h-25.67z"/>
<path fill="#F6BAB7" d="M463 83h25.67v1h-25.67zM540 90h25.67v1h-25.67zM514.33 106h25.67v1h-25.67zM488.67 120h25.67v1h-25.67zM514.33 127h25.67v1h-25.67zM540 134h25.67v1h-25.67zM591.33 195h25.67v1h-25.67zM386 253h25.67v1h-25.67zM565.67 293h25.67v1h-25.67zM386 320h25.67v1h-25.67zM437.33 411h25.67v1h-25.67zM386 413h25.67v1h-25.67zM437.33 414h25.67v1h-25.67zM591.33 430h25.67v1h-25.67z"/>
<path fill="#FCE7E7" d="M514.33 83h25.67v1h-25.67zM540 115h25.67v1h-25.67zM591.33 181h25.67v1h-25.67zM565.67 194h25.67v1h-25.67zM591.33 295h25.67v1h-25.67zM437.33 297h25.67v1h-25.67zM386 344h25.67v1h-25.67zM540 374h25.67v1h-25.67zM386 376h25.67v1h-25.67zM591.33 377h25.67v1h-25.67zM540 407h25.67v1h-25.67z"/>
<path fill="#DBE1F3" d="M565.67 84h25.67v1h-25.67zM565.67 96h25.67v1h-25.67zM540 312h25.67v1h-25.67z"/>
<path fill="#F0EAF0" d="M591.33 84h25.67v1h-25.67z"/>
<path fill="#F08D8A" d="M514.33 85h25.67v1h-25.67zM463 87h25.67v1h-25.67zM514.33 93h25.67v1h-25.67zM565.67 98h25.67v1h-25.67zM463 99h25.67v1h-25.67zM488.67 109h25.67v1h-25.67zM488.67 113h25.67v1h-25.67zM540 139h25.67v1h-25.67zM591.33 154h25.67v1h-25.67zM488.67 160h25.67v1h-25.67zM488.67 169h25.67v1h-25.67zM437.33 223h25.67v1h-25.67zM565.67 231h25.67v1h-25.67zM437.33 247h25.67v1h-25.67zM411.67 265h25.67v1h-25.67zM386 288h25.67v1h-25.67zM386 347h25.67v1h-25.67zM411.67 352h25.67v1h-25.67z"/>
<path fill="#B1C9ED" d="M565.67 85h25.67v1h-25.67z"/>
<path fill="#EAC3CC" d="M591.33 85h25.67v1h-25.67zM591.33 198h25.67v1h-25.67z"/>
<path fill="#F9D2D2" d="M463 86h25.67v1h-25.67zM591.33 88h25.67v1h-25.67zM437.33 249h25.67v1h-25.67zM437.33 250h25.67v1h-25.67zM565.67 347h25.67v1h-25.67zM386 362h25.67v1h-25.67zM540 399h25.67v1h-25.67zM591.33 405h25.67v1h-25.67zM565.67 407h25.67v1h-25.67zM437.33 420h25.67v1h-25.67z"/>
<path fill="#9CA2CF" d="M540 86h25.67v1h-25.67z"/>
<path fill="#F3F6FC" d="M565.67 86h25.67v1h-25.67zM437.33 110h25.67v1h-25.67zM591.33 159h25.67v1h-25.67zM463 176h25.67v1h-25.67zM565.67 282h25.67v1h-25.67zM591.33 297h25.67v1h-25.67zM386 416h25.67v1h-25.67zM488.67 427h25.67v1h-25.67zM591.33 438h25.67v1h-25.67z"/>
<path fill="#C6D8F6" d="M591.33 86h25.67v1h-25.67zM386 128h25.67v1h-25.67zM591.33 147h25.67v1h-25.67zM565.67 192h25.67v1h-25.67zM540 200h25.67v1h-25.67zM411.67 208h25.67v1h-25.67zM540 208h25.67v1h-25.67zM540 210h25.67v1h-25.67zM488.67 226h25.67v1h-25.67zM463 238h25.67v1h-25.67zM463 241h25.67v1h-25.67zM463 250h25.67v1h-25.67zM488.67 251h25.67v1h-25.67zM488.67 256h25.67v1h-25.67zM488.67 262h25.67v1h-25.67zM488.67 296h25.67v1h-25.67zM591.33 302h25.67v1h-25.67zM488.67 334h25.67v1h-25.67zM488.67 336h25.67v1h-25.67zM463 361h25.67v1h-25.67zM488.67 362h25.67v1h-25.67zM488.67 399h25.67v1h-25.67zM488.67 422h25.67v1h-25.67z"/>
<path fill="#B4C9ED" d="M540 87h25.67v1h-25.67zM591.33 236h25.67v1h-25.67z"/>
<path fill="#F3EDF3" d="M565.67 87h25.67v1h-25.67zM540 131h25.67v1h-25.67z"/>
<path fill="#F6CCCC" d="M591.33 87h25.67v1h-25.67zM488.67 97h25.67v1h-25.67zM540 99h25.67v1h-25.67zM565.67 377h25.67v1h-25.67z"/>
<path fill="#E1D5E1" d="M514.33 88h25.67v1h-25.67z"/>
<path fill="#F6BABA" d="M565.67 88h25.67v1h-25.67zM488.67 101h25.67v1h-25.67zM488.67 107h25.67v1h-25.67zM514.33 125h25.67v1h-25.67zM488.67 148h25.67v1h-25.67zM565.67 212h25.67v1h-25.67zM540 324h25.67v1h-25.67zM386 348h25.67v1h-25.67zM540 417h25.67v1h-25.67zM540 426h25.67v1h-25.67zM386 428h25.67v1h-25.67z"/>
<path fill="#81ABE7" d="M411.67 89h25.67v1h-25.67zM565.67 105h25.67v1h-25.67zM411.67 149h25.67v1h-25.67zM411.67 190h25.67v1h-25.67zM463 284h25.67v1h-25.67zM514.33 284h25.67v1h-25.67zM488.67 304h25.67v1h-25.67zM463 307h25.67v1h-25.67zM463 315h25.67v1h-25.67zM514.33 327h25.67v1h-25.67zM488.67 354h25.67v1h-25.67zM488.67 433h25.67v1h-25.67zM514.33 436h25.67v1h-25.67z"/>
<path fill="#BACFF3" d="M437.33 89h25.67v1h-25.67zM411.67 109h25.67v1h-25.67zM437.33 149h25.67v1h-25.67zM386 154h25.67v1h-25.67zM488.67 224h25.67v1h-25.67zM488.67 246h25.67v1h-25.67zM565.67 286h25.67v1h-25.67zM514.33 372h25.67v1h-25.67zM463 404h25.67v1h-25.67zM463 413h25.67v1h-25.67zM565.67 427h25.67v1h-25.67z"/>
<path fill="#DBDBEA" d="M463 89h25.67v1h-25.67z"/>
<path fill="#F09996" d="M514.33 89h25.67v1h-25.67z"/>
<path fill="#F3BABA" d="M540 89h25.67v1h-25.67zM386 237h25.67v1h-25.67z"/>
<path fill="#F9C3C3" d="M565.67 90h25.67v1h-25.67zM488.67 118h25.67v1h-25.67zM488.67 176h25.67v1h-25.67zM488.67 200h25.67v1h-25.67zM540 230h25.67v1h-25.67zM565.67 274h25.67v1h-25.67zM386 327h25.67v1h-25.67zM386 353h25.67v1h-25.67zM437.33 401h25.67v1h-25.67zM591.33 415h25.67v1h-25.67zM386 438h25.67v1h-25.67z"/>
<path fill="#FCF6F6" d="M488.67 91h25.67v1h-25.67z"/>
<path fill="#E7D8E4" d="M540 91h25.67v1h-25.67zM540 305h25.67v1h-25.67z"/>
<path fill="#FCEAEA" d="M591.33 91h25.67v1h-25.67zM514.33 126h25.67v1h-25.67zM540 145h25.67v1h-25.67zM540 278h25.67v1h-25.67zM591.33 289h25.67v1h-25.67zM540 299h25.67v1h-25.67zM540 421h25.67v1h-25.67z"/>
<path fill="#F9D8D8" d="M488.67 92h25.67v1h-25.67zM540 107h25.67v1h-25.67zM488.67 129h25.67v1h-25.67zM591.33 133h25.67v1h-25.67zM514.33 150h25.67v1h-25.67zM463 207h25.67v1h-25.67zM540 279h25.67v1h-25.67zM540 362h25.67v1h-25.67zM591.33 380h25.67v1h-25.67zM386 412h25.67v1h-25.67z"/>
<path fill="#EAC0C3" d="M540 92h25.67v1h-25.67z"/>
<path fill="#EA6663" d="M565.67 92h25.67v1h-25.67z"/>
<path fill="#E77272" d="M591.33 92h25.67v1h-25.67z"/>
<path fill="#F3DEE1" d="M540 93h25.67v1h-25.67zM540 287h25.67v1h-25.67z"/>
<path fill="#C6D5F0" d="M437.33 94h25.67v1h-25.67zM591.33 202h25.67v1h-25.67z"/>
<path fill="#F08181" d="M463 94h25.67v1h-25.67zM463 101h25.67v1h-25.67zM488.67 198h25.67v1h-25.67zM411.67 322h25.67v1h-25.67z"/>
<path fill="#F39996" d="M514.33 94h25.67v1h-25.67zM488.67 106h25.67v1h-25.67zM488.67 112h25.67v1h-25.67zM463 119h25.67v1h-25.67zM514.33 133h25.67v1h-25.67zM488.67 151h25.67v1h-25.67zM514.33 151h25.67v1h-25.67zM514.33 161h25.67v1h-25.67zM463 178h25.67v1h-25.67zM463 193h25.67v1h-25.67zM540 216h25.67v1h-25.67zM386 228h25.67v1h-25.67zM437.33 229h25.67v1h-25.67zM565.67 245h25.67v1h-25.67zM411.67 256h25.67v1h-25.67zM591.33 263h25.67v1h-25.67zM437.33 270h25.67v1h-25.67zM411.67 281h25.67v1h-25.67zM411.67 286h25.67v1h-25.67zM411.67 292h25.67v1h-25.67zM437.33 292h25.67v1h-25.67zM591.33 308h25.67v1h-25.67zM411.67 326h25.67v1h-25.67zM437.33 353h25.67v1h-25.67zM386 360h25.67v1h-25.67zM411.67 380h25.67v1h-25.67zM437.33 383h25.67v1h-25.67zM437.33 384h25.67v1h-25.67zM411.67 406h25.67v1h-25.67z"/>
<path fill="#E4D2DE" d="M540 94h25.67v1h-25.67z"/>
<path fill="#EAE7F0" d="M437.33 95h25.67v1h-25.67zM540 253h25.67v1h-25.67zM565.67 287h25.67v1h-25.67zM565.67 301h25.67v1h-25.67zM540 320h25.67v1h-25.67zM591.33 400h25.67v1h-25.67z"/>
<path fill="#EA514B" d="M514.33 95h25.67v1h-25.67zM488.67 158h25.67v1h-25.67zM463 181h25.67v1h-25.67zM463 195h25.67v1h-25.67z"/>
<path fill="#F9E1E1" d="M565.67 95h25.67v1h-25.67zM437.33 226h25.67v1h-25.67zM488.67 383h25.67v1h-25.67z"/>
<path fill="#BDD5F3" d="M386 96h25.67v1h-25.67zM386 160h25.67v1h-25.67zM565.67 178h25.67v1h-25.67zM437.33 196h25.67v1h-25.67zM514.33 301h25.67v1h-25.67zM463 303h25.67v1h-25.67zM514.33 322h25.67v1h-25.67z"/>
<path fill="#C69CB1" d="M540 97h25.67v1h-25.67z"/>
<path fill="#F39C9C" d="M463 98h25.67v1h-25.67zM591.33 102h25.67v1h-25.67zM463 104h25.67v1h-25.67zM488.67 110h25.67v1h-25.67zM488.67 162h25.67v1h-25.67zM488.67 172h25.67v1h-25.67zM463 198h25.67v1h-25.67zM565.67 217h25.67v1h-25.67zM386 233h25.67v1h-25.67zM437.33 245h25.67v1h-25.67zM437.33 303h25.67v1h-25.67zM591.33 378h25.67v1h-25.67z"/>
<path fill="#EDE1E7" d="M488.67 98h25.67v1h-25.67zM540 274h25.67v1h-25.67zM565.67 316h25.67v1h-25.67zM591.33 419h25.67v1h-25.67z"/>
<path fill="#6F9FE7" d="M411.67 99h25.67v1h-25.67zM514.33 330h25.67v1h-25.67zM565.67 363h25.67v1h-25.67z"/>
<path fill="#EAEAF3" d="M437.33 99h25.67v1h-25.67zM540 108h25.67v1h-25.67zM565.67 263h25.67v1h-25.67zM540 397h25.67v1h-25.67z"/>
<path fill="#C6D2ED" d="M565.67 99h25.67v1h-25.67z"/>
<path fill="#F6E7EA" d="M591.33 99h25.67v1h-25.67zM540 128h25.67v1h-25.67zM463 189h25.67v1h-25.67zM540 266h25.67v1h-25.67zM437.33 296h25.67v1h-25.67zM565.67 315h25.67v1h-25.67zM386 329h25.67v1h-25.67zM437.33 431h25.67v1h-25.67z"/>
<path fill="#E73936" d="M463 100h25.67v1h-25.67zM514.33 103h25.67v1h-25.67zM463 144h25.67v1h-25.67zM565.67 339h25.67v1h-25.67z"/>
<path fill="#EAE1EA" d="M540 100h25.67v1h-25.67z"/>
<path fill="#A8C3F0" d="M386 101h25.67v1h-25.67zM437.33 107h25.67v1h-25.67zM437.33 111h25.67v1h-25.67zM411.67 132h25.67v1h-25.67zM411.67 143h25.67v1h-25.67zM437.33 148h25.67v1h-25.67zM386 167h25.67v1h-25.67zM386 182h25.67v1h-25.67zM386 209h25.67v1h-25.67zM463 230h25.67v1h-25.67zM488.67 245h25.67v1h-25.67zM514.33 264h25.67v1h-25.67zM463 292h25.67v1h-25.67zM488.67 313h25.67v1h-25.67zM591.33 314h25.67v1h-25.67zM514.33 336h25.67v1h-25.67zM463 353h25.67v1h-25.67zM463 375h25.67v1h-25.67zM540 383h25.67v1h-25.67zM463 392h25.67v1h-25.67zM488.67 401h25.67v1h-25.67z"/>
<path fill="#F6D8DB" d="M540 101h25.67v1h-25.67z"/>
<path fill="#EAE4ED" d="M565.67 101h25.67v1h-25.67zM540 292h25.67v1h-25.67zM591.33 326h25.67v1h-25.67z"/>
<path fill="#E1969C" d="M591.33 101h25.67v1h-25.67z"/>
<path fill="#E4E7F6" d="M540 102h25.67v1h-25.67z"/>
<path fill="#F3F3F9" d="M540 103h25.67v1h-25.67zM437.33 261h25.67v1h-25.67z"/>
<path fill="#BDBAD8" d="M591.33 103h25.67v1h-25.67z"/>
<path fill="#C0C3E1" d="M386 104h25.67v1h-25.67zM565.67 224h25.67v1h-25.67zM540 357h25.67v1h-25.67z"/>
<path fill="#E1CFDB" d="M591.33 104h25.67v1h-25.67zM540 126h25.67v1h-25.67zM540 211h25.67v1h-25.67zM540 424h25.67v1h-25.67z"/>
<path fill="#ABC3ED" d="M386 105h25.67v1h-25.67zM540 415h25.67v1h-25.67z"/>
<path fill="#4884DE" d="M437.33 105h25.67v1h-25.67z"/>
<path fill="#FCE4E1" d="M463 105h25.67v1h-25.67zM514.33 120h25.67v1h-25.67z"/>
<path fill="#DEC9D8" d="M591.33 105h25.67v1h-25.67z"/>
<path fill="#C97B8D" d="M540 106h25.67v1h-25.67z"/>
<path fill="#D2D2E7" d="M565.67 106h25.67v1h-25.67z"/>
<path fill="#FCF3F0" d="M565.67 107h25.67v1h-25.67z"/>
<path fill="#FFF3F3" d="M565.67 108h25.67v1h-25.67z"/>
<path fill="#F09693" d="M591.33 108h25.67v1h-25.67z"/>
<path fill="#D5E1F6" d="M386 110h25.67v1h-25.67zM540 175h25.67v1h-25.67zM488.67 253h25.67v1h-25.67zM463 266h25.67v1h-25.67zM488.67 356h25.67v1h-25.67zM488.67 398h25.67v1h-25.67z"/>
<path fill="#F3D2D5" d="M540 110h25.67v1h-25.67z"/>
<path fill="#F6C6C6" d="M565.67 110h25.67v1h-25.67z"/>
<path fill="#E1DEED" d="M591.33 110h25.67v1h-25.67zM488.67 249h25.67v1h-25.67zM591.33 396h25.67v1h-25.67z"/>
<path fill="#EA4B48" d="M463 111h25.67v1h-25.67zM591.33 149h25.67v1h-25.67zM463 151h25.67v1h-25.67zM514.33 182h25.67v1h-25.67zM540 231h25.67v1h-25.67zM411.67 252h25.67v1h-25.67zM386 341h25.67v1h-25.67zM411.67 372h25.67v1h-25.67z"/>
<path fill="#E7EDFC" d="M565.67 111h25.67v1h-25.67zM540 119h25.67v1h-25.67zM488.67 420h25.67v1h-25.67z"/>
<path fill="#EAD2D8" d="M540 112h25.67v1h-25.67zM565.67 114h25.67v1h-25.67z"/>
<path fill="#F9EDED" d="M565.67 112h25.67v1h-25.67zM591.33 171h25.67v1h-25.67zM591.33 433h25.67v1h-25.67z"/>
<path fill="#E1DBEA" d="M591.33 112h25.67v1h-25.67zM591.33 170h25.67v1h-25.67z"/>
<path fill="#D8E4F6" d="M437.33 113h25.67v1h-25.67zM591.33 126h25.67v1h-25.67zM591.33 226h25.67v1h-25.67zM488.67 426h25.67v1h-25.67z"/>
<path fill="#BAAECC" d="M591.33 113h25.67v1h-25.67zM540 428h25.67v1h-25.67z"/>
<path fill="#C3D8F3" d="M437.33 114h25.67v1h-25.67zM386 119h25.67v1h-25.67zM540 124h25.67v1h-25.67zM386 168h25.67v1h-25.67zM411.67 178h25.67v1h-25.67zM386 187h25.67v1h-25.67zM488.67 295h25.67v1h-25.67zM488.67 311h25.67v1h-25.67zM565.67 323h25.67v1h-25.67zM591.33 336h25.67v1h-25.67zM488.67 350h25.67v1h-25.67zM488.67 351h25.67v1h-25.67zM463 359h25.67v1h-25.67zM540 359h25.67v1h-25.67zM514.33 361h25.67v1h-25.67zM488.67 372h25.67v1h-25.67zM488.67 394h25.67v1h-25.67z"/>
<path fill="#E4C9D2" d="M591.33 114h25.67v1h-25.67zM565.67 191h25.67v1h-25.67zM540 275h25.67v1h-25.67z"/>
<path fill="#E73F39" d="M463 115h25.67v1h-25.67zM463 172h25.67v1h-25.67zM488.67 178h25.67v1h-25.67zM411.67 311h25.67v1h-25.67z"/>
<path fill="#F39F9F" d="M488.67 115h25.67v1h-25.67zM463 118h25.67v1h-25.67zM463 158h25.67v1h-25.67zM463 188h25.67v1h-25.67zM591.33 290h25.67v1h-25.67zM437.33 354h25.67v1h-25.67z"/>
<path fill="#EDD5DB" d="M591.33 115h25.67v1h-25.67zM565.67 153h25.67v1h-25.67z"/>
<path fill="#DED5E4" d="M565.67 116h25.67v1h-25.67z"/>
<path fill="#F3CCCF" d="M591.33 116h25.67v1h-25.67zM565.67 333h25.67v1h-25.67z"/>
<path fill="#F3BDBD" d="M540 117h25.67v1h-25.67zM540 177h25.67v1h-25.67z"/>
<path fill="#879FD8" d="M565.67 117h25.67v1h-25.67z"/>
<path fill="#F3DEE4" d="M591.33 117h25.67v1h-25.67z"/>
<path fill="#E7E1ED" d="M514.33 118h25.67v1h-25.67zM540 237h25.67v1h-25.67zM591.33 356h25.67v1h-25.67z"/>
<path fill="#D8AEBA" d="M591.33 118h25.67v1h-25.67z"/>
<path fill="#ED8484" d="M565.67 119h25.67v1h-25.67z"/>
<path fill="#B7A8C6" d="M591.33 119h25.67v1h-25.67z"/>
<path fill="#93B7EA" d="M411.67 120h25.67v1h-25.67zM437.33 135h25.67v1h-25.67zM565.67 201h25.67v1h-25.67zM437.33 212h25.67v1h-25.67zM488.67 243h25.67v1h-25.67zM565.67 250h25.67v1h-25.67zM514.33 430h25.67v1h-25.67z"/>
<path fill="#EA4542" d="M565.67 120h25.67v1h-25.67zM463 127h25.67v1h-25.67zM386 246h25.67v1h-25.67zM411.67 317h25.67v1h-25.67zM437.33 366h25.67v1h-25.67zM411.67 392h25.67v1h-25.67z"/>
<path fill="#F39393" d="M488.67 121h25.67v1h-25.67zM463 157h25.67v1h-25.67zM565.67 246h25.67v1h-25.67zM386 326h25.67v1h-25.67zM411.67 328h25.67v1h-25.67z"/>
<path fill="#E1C3CF" d="M540 121h25.67v1h-25.67z"/>
<path fill="#E7423F" d="M565.67 121h25.67v1h-25.67zM463 170h25.67v1h-25.67zM411.67 231h25.67v1h-25.67zM411.67 272h25.67v1h-25.67zM437.33 293h25.67v1h-25.67zM437.33 305h25.67v1h-25.67zM411.67 395h25.67v1h-25.67z"/>
<path fill="#D89FAB" d="M591.33 121h25.67v1h-25.67zM488.67 156h25.67v1h-25.67z"/>
<path fill="#4B84DE" d="M386 122h25.67v1h-25.67z"/>
<path fill="#C6C0D8" d="M540 122h25.67v1h-25.67z"/>
<path fill="#B181A2" d="M565.67 122h25.67v1h-25.67z"/>
<path fill="#8AAEE7" d="M386 123h25.67v1h-25.67z"/>
<path fill="#F07E7E" d="M514.33 123h25.67v1h-25.67zM565.67 342h25.67v1h-25.67z"/>
<path fill="#F9E1E4" d="M540 123h25.67v1h-25.67z"/>
<path fill="#ED7B7B" d="M591.33 123h25.67v1h-25.67z"/>
<path fill="#C3D2F0" d="M386 124h25.67v1h-25.67z"/>
<path fill="#C6788A" d="M591.33 125h25.67v1h-25.67z"/>
<path fill="#D89FAE" d="M565.67 126h25.67v1h-25.67z"/>
<path fill="#DEE7F6" d="M437.33 127h25.67v1h-25.67zM488.67 365h25.67v1h-25.67zM540 378h25.67v1h-25.67z"/>
<path fill="#F9EAED" d="M540 127h25.67v1h-25.67z"/>
<path fill="#D5D8EA" d="M591.33 127h25.67v1h-25.67z"/>
<path fill="#F09090" d="M488.67 128h25.67v1h-25.67zM386 310h25.67v1h-25.67z"/>
<path fill="#BA96B4" d="M540 129h25.67v1h-25.67z"/>
<path fill="#D8E7F9" d="M591.33 129h25.67v1h-25.67zM540 220h25.67v1h-25.67zM565.67 298h25.67v1h-25.67z"/>
<path fill="#E4CFD8" d="M540 130h25.67v1h-25.67z"/>
<path fill="#D5BACC" d="M565.67 130h25.67v1h-25.67z"/>
<path fill="#E7ABB1" d="M591.33 130h25.67v1h-25.67z"/>
<path fill="#F39999" d="M488.67 131h25.67v1h-25.67zM565.67 133h25.67v1h-25.67zM463 164h25.67v1h-25.67zM591.33 203h25.67v1h-25.67zM411.67 247h25.67v1h-25.67z"/>
<path fill="#F0D5DB" d="M591.33 131h25.67v1h-25.67z"/>
<path fill="#EDF3FC" d="M386 132h25.67v1h-25.67zM386 133h25.67v1h-25.67zM565.67 154h25.67v1h-25.67zM386 180h25.67v1h-25.67zM591.33 334h25.67v1h-25.67z"/>
<path fill="#F6DEE1" d="M565.67 132h25.67v1h-25.67zM540 260h25.67v1h-25.67z"/>
<path fill="#C0BAD5" d="M591.33 132h25.67v1h-25.67z"/>
<path fill="#F0DBE1" d="M540 133h25.67v1h-25.67z"/>
<path fill="#F08484" d="M514.33 134h25.67v1h-25.67zM463 187h25.67v1h-25.67zM437.33 311h25.67v1h-25.67zM386 355h25.67v1h-25.67zM437.33 358h25.67v1h-25.67z"/>
<path fill="#C3D8F6" d="M591.33 134h25.67v1h-25.67zM411.67 177h25.67v1h-25.67zM565.67 359h25.67v1h-25.67zM514.33 394h25.67v1h-25.67zM591.33 437h25.67v1h-25.67z"/>
<path fill="#E4D5E1" d="M565.67 135h25.67v1h-25.67zM386 204h25.67v1h-25.67z"/>
<path fill="#BACCED" d="M591.33 135h25.67v1h-25.67z"/>
<path fill="#D5DBF0" d="M437.33 136h25.67v1h-25.67z"/>
<path fill="#EA5451" d="M488.67 136h25.67v1h-25.67zM411.67 276h25.67v1h-25.67zM411.67 280h25.67v1h-25.67zM411.67 320h25.67v1h-25.67zM411.67 337h25.67v1h-25.67zM411.67 340h25.67v1h-25.67zM437.33 378h25.67v1h-25.67zM411.67 394h25.67v1h-25.67zM411.67 422h25.67v1h-25.67zM411.67 433h25.67v1h-25.67z"/>
<path fill="#F9C3C0" d="M565.67 136h25.67v1h-25.67zM463 161h25.67v1h-25.67zM437.33 220h25.67v1h-25.67zM565.67 262h25.67v1h-25.67zM386 266h25.67v1h-25.67zM386 287h25.67v1h-25.67zM565.67 346h25.67v1h-25.67zM437.33 417h25.67v1h-25.67z"/>
<path fill="#EA514E" d="M514.33 137h25.67v1h-25.67zM591.33 138h25.67v1h-25.67zM565.67 140h25.67v1h-25.67zM463 155h25.67v1h-25.67zM514.33 175h25.67v1h-25.67zM591.33 228h25.67v1h-25.67zM565.67 236h25.67v1h-25.67zM386 258h25.67v1h-25.67zM411.67 264h25.67v1h-25.67zM565.67 276h25.67v1h-25.67zM437.33 347h25.67v1h-25.67zM591.33 347h25.67v1h-25.67zM411.67 373h25.67v1h-25.67zM386 383h25.67v1h-25.67zM411.67 404h25.67v1h-25.67zM411.67 425h25.67v1h-25.67z"/>
<path fill="#D5CFE1" d="M540 137h25.67v1h-25.67z"/>
<path fill="#B1BDE1" d="M386 138h25.67v1h-25.67z"/>
<path fill="#DED8E7" d="M540 138h25.67v1h-25.67zM591.33 331h25.67v1h-25.67zM591.33 350h25.67v1h-25.67z"/>
<path fill="#C0C9E7" d="M565.67 138h25.67v1h-25.67z"/>
<path fill="#E7D2DB" d="M463 139h25.67v1h-25.67zM565.67 172h25.67v1h-25.67zM565.67 438h25.67v1h-25.67z"/>
<path fill="#DEBAC6" d="M565.67 139h25.67v1h-25.67z"/>
<path fill="#C6DBF6" d="M411.67 140h25.67v1h-25.67z"/>
<path fill="#ED7572" d="M463 140h25.67v1h-25.67zM514.33 152h25.67v1h-25.67zM591.33 161h25.67v1h-25.67zM514.33 166h25.67v1h-25.67zM488.67 170h25.67v1h-25.67zM488.67 177h25.67v1h-25.67zM514.33 186h25.67v1h-25.67zM488.67 201h25.67v1h-25.67zM386 219h25.67v1h-25.67zM386 231h25.67v1h-25.67zM386 283h25.67v1h-25.67zM411.67 308h25.67v1h-25.67zM411.67 314h25.67v1h-25.67zM437.33 315h25.67v1h-25.67zM411.67 362h25.67v1h-25.67zM386 404h25.67v1h-25.67zM437.33 438h25.67v1h-25.67z"/>
<path fill="#A5C0ED" d="M540 141h25.67v1h-25.67zM540 196h25.67v1h-25.67z"/>
<path fill="#F9DEE1" d="M565.67 141h25.67v1h-25.67z"/>
<path fill="#ABC3EA" d="M591.33 141h25.67v1h-25.67z"/>
<path fill="#F3C6C9" d="M514.33 142h25.67v1h-25.67z"/>
<path fill="#D8E4F9" d="M540 142h25.67v1h-25.67zM540 154h25.67v1h-25.67zM565.67 180h25.67v1h-25.67zM386 183h25.67v1h-25.67zM488.67 232h25.67v1h-25.67zM488.67 236h25.67v1h-25.67zM386 244h25.67v1h-25.67zM565.67 317h25.67v1h-25.67zM488.67 346h25.67v1h-25.67zM488.67 357h25.67v1h-25.67zM514.33 374h25.67v1h-25.67zM591.33 382h25.67v1h-25.67z"/>
<path fill="#C0BDDB" d="M565.67 142h25.67v1h-25.67z"/>
<path fill="#F0ABAE" d="M488.67 143h25.67v1h-25.67zM540 327h25.67v1h-25.67zM540 434h25.67v1h-25.67z"/>
<path fill="#EDA8AB" d="M514.33 143h25.67v1h-25.67zM591.33 150h25.67v1h-25.67zM591.33 388h25.67v1h-25.67z"/>
<path fill="#D8C3D2" d="M591.33 143h25.67v1h-25.67z"/>
<path fill="#F9E4E4" d="M488.67 144h25.67v1h-25.67zM540 151h25.67v1h-25.67zM540 364h25.67v1h-25.67zM540 414h25.67v1h-25.67z"/>
<path fill="#D26975" d="M540 144h25.67v1h-25.67z"/>
<path fill="#EAAEB1" d="M565.67 144h25.67v1h-25.67z"/>
<path fill="#E75D5D" d="M591.33 144h25.67v1h-25.67z"/>
<path fill="#E7423C" d="M463 145h25.67v1h-25.67zM463 147h25.67v1h-25.67zM386 226h25.67v1h-25.67zM411.67 266h25.67v1h-25.67zM411.67 269h25.67v1h-25.67zM386 317h25.67v1h-25.67zM386 325h25.67v1h-25.67z"/>
<path fill="#ED726F" d="M488.67 145h25.67v1h-25.67zM591.33 169h25.67v1h-25.67zM463 199h25.67v1h-25.67zM411.67 218h25.67v1h-25.67zM411.67 219h25.67v1h-25.67zM411.67 245h25.67v1h-25.67zM411.67 268h25.67v1h-25.67zM437.33 306h25.67v1h-25.67zM411.67 309h25.67v1h-25.67zM411.67 376h25.67v1h-25.67zM437.33 379h25.67v1h-25.67zM437.33 397h25.67v1h-25.67zM386 419h25.67v1h-25.67zM386 421h25.67v1h-25.67zM411.67 436h25.67v1h-25.67z"/>
<path fill="#F3BDC0" d="M514.33 145h25.67v1h-25.67z"/>
<path fill="#A5AED8" d="M565.67 145h25.67v1h-25.67z"/>
<path fill="#F0A8A8" d="M540 146h25.67v1h-25.67zM565.67 148h25.67v1h-25.67z"/>
<path fill="#DED8EA" d="M565.67 146h25.67v1h-25.67z"/>
<path fill="#F0EDF6" d="M591.33 146h25.67v1h-25.67zM540 188h25.67v1h-25.67zM540 368h25.67v1h-25.67z"/>
<path fill="#EA5A54" d="M488.67 147h25.67v1h-25.67zM411.67 336h25.67v1h-25.67zM386 378h25.67v1h-25.67zM386 434h25.67v1h-25.67z"/>
<path fill="#F07572" d="M463 148h25.67v1h-25.67zM514.33 165h25.67v1h-25.67zM488.67 175h25.67v1h-25.67zM488.67 186h25.67v1h-25.67zM488.67 197h25.67v1h-25.67zM411.67 227h25.67v1h-25.67zM386 282h25.67v1h-25.67zM437.33 287h25.67v1h-25.67zM411.67 303h25.67v1h-25.67zM565.67 309h25.67v1h-25.67zM411.67 321h25.67v1h-25.67zM411.67 327h25.67v1h-25.67zM386 340h25.67v1h-25.67zM437.33 434h25.67v1h-25.67z"/>
<path fill="#E4787E" d="M591.33 148h25.67v1h-25.67z"/>
<path fill="#F9D8D5" d="M514.33 149h25.67v1h-25.67zM591.33 167h25.67v1h-25.67zM488.67 202h25.67v1h-25.67zM386 279h25.67v1h-25.67zM437.33 313h25.67v1h-25.67z"/>
<path fill="#F08A8A" d="M463 150h25.67v1h-25.67zM565.67 152h25.67v1h-25.67zM514.33 171h25.67v1h-25.67z"/>
<path fill="#EDE7ED" d="M488.67 150h25.67v1h-25.67zM437.33 279h25.67v1h-25.67z"/>
<path fill="#F3AEAE" d="M540 150h25.67v1h-25.67zM488.67 166h25.67v1h-25.67z"/>
<path fill="#AEC6ED" d="M565.67 151h25.67v1h-25.67z"/>
<path fill="#D5E4F9" d="M386 153h25.67v1h-25.67zM437.33 153h25.67v1h-25.67zM565.67 195h25.67v1h-25.67zM514.33 216h25.67v1h-25.67zM514.33 236h25.67v1h-25.67zM591.33 288h25.67v1h-25.67zM463 344h25.67v1h-25.67zM565.67 365h25.67v1h-25.67zM514.33 426h25.67v1h-25.67z"/>
<path fill="#E41E18" d="M463 154h25.67v1h-25.67zM591.33 268h25.67v1h-25.67zM437.33 304h25.67v1h-25.67zM411.67 414h25.67v1h-25.67z"/>
<path fill="#F0D2D5" d="M488.67 155h25.67v1h-25.67z"/>
<path fill="#F0ABAB" d="M565.67 155h25.67v1h-25.67z"/>
<path fill="#EDC0C6" d="M591.33 155h25.67v1h-25.67zM565.67 277h25.67v1h-25.67z"/>
<path fill="#4E87DE" d="M411.67 156h25.67v1h-25.67zM463 254h25.67v1h-25.67z"/>
<path fill="#BDCCEA" d="M565.67 157h25.67v1h-25.67zM565.67 395h25.67v1h-25.67z"/>
<path fill="#F6DBDB" d="M591.33 157h25.67v1h-25.67z"/>
<path fill="#F3E1E4" d="M591.33 158h25.67v1h-25.67zM591.33 391h25.67v1h-25.67z"/>
<path fill="#F6D2D2" d="M463 159h25.67v1h-25.67zM565.67 318h25.67v1h-25.67z"/>
<path fill="#CCC6DB" d="M540 159h25.67v1h-25.67z"/>
<path fill="#96B4EA" d="M565.67 159h25.67v1h-25.67z"/>
<path fill="#E1D2DE" d="M514.33 160h25.67v1h-25.67z"/>
<path fill="#D8CCDB" d="M540 160h25.67v1h-25.67z"/>
<path fill="#C0D2F0" d="M591.33 160h25.67v1h-25.67zM565.67 228h25.67v1h-25.67zM540 315h25.67v1h-25.67z"/>
<path fill="#E73330" d="M514.33 162h25.67v1h-25.67zM411.67 226h25.67v1h-25.67zM540 268h25.67v1h-25.67zM411.67 343h25.67v1h-25.67zM437.33 360h25.67v1h-25.67zM437.33 408h25.67v1h-25.67z"/>
<path fill="#F0C9CF" d="M591.33 162h25.67v1h-25.67z"/>
<path fill="#E7EDF9" d="M540 163h25.67v1h-25.67zM488.67 221h25.67v1h-25.67zM565.67 239h25.67v1h-25.67zM488.67 352h25.67v1h-25.67zM540 391h25.67v1h-25.67zM565.67 421h25.67v1h-25.67z"/>
<path fill="#6093E4" d="M411.67 164h25.67v1h-25.67zM514.33 369h25.67v1h-25.67zM514.33 410h25.67v1h-25.67z"/>
<path fill="#E7F0FC" d="M591.33 164h25.67v1h-25.67zM540 236h25.67v1h-25.67zM565.67 253h25.67v1h-25.67zM488.67 288h25.67v1h-25.67zM591.33 399h25.67v1h-25.67zM591.33 421h25.67v1h-25.67z"/>
<path fill="#EDCFD2" d="M488.67 165h25.67v1h-25.67z"/>
<path fill="#93AEE4" d="M540 166h25.67v1h-25.67z"/>
<path fill="#C9C9E1" d="M591.33 166h25.67v1h-25.67z"/>
<path fill="#DEE4F6" d="M514.33 168h25.67v1h-25.67z"/>
<path fill="#F3EAED" d="M540 168h25.67v1h-25.67z"/>
<path fill="#E1D5E4" d="M591.33 168h25.67v1h-25.67z"/>
<path fill="#EAEAF6" d="M437.33 169h25.67v1h-25.67zM540 437h25.67v1h-25.67z"/>
<path fill="#EDD8E1" d="M514.33 169h25.67v1h-25.67zM591.33 240h25.67v1h-25.67z"/>
<path fill="#C9CCE7" d="M540 169h25.67v1h-25.67z"/>
<path fill="#F3C0C0" d="M565.67 169h25.67v1h-25.67z"/>
<path fill="#C0CCEA" d="M540 170h25.67v1h-25.67zM591.33 287h25.67v1h-25.67z"/>
<path fill="#FCF0ED" d="M540 171h25.67v1h-25.67zM591.33 359h25.67v1h-25.67z"/>
<path fill="#DBBDCC" d="M565.67 171h25.67v1h-25.67z"/>
<path fill="#E7E4F0" d="M514.33 172h25.67v1h-25.67zM540 400h25.67v1h-25.67z"/>
<path fill="#C3CCEA" d="M514.33 173h25.67v1h-25.67z"/>
<path fill="#AEBAE1" d="M565.67 173h25.67v1h-25.67z"/>
<path fill="#DE8A93" d="M591.33 174h25.67v1h-25.67z"/>
<path fill="#F6D2D5" d="M463 175h25.67v1h-25.67zM540 276h25.67v1h-25.67zM565.67 403h25.67v1h-25.67z"/>
<path fill="#E1E7F6" d="M565.67 175h25.67v1h-25.67zM540 355h25.67v1h-25.67z"/>
<path fill="#E7A8AE" d="M591.33 175h25.67v1h-25.67z"/>
<path fill="#FFF9F9" d="M565.67 176h25.67v1h-25.67zM540 343h25.67v1h-25.67zM565.67 430h25.67v1h-25.67z"/>
<path fill="#F0F3FC" d="M565.67 177h25.67v1h-25.67zM386 242h25.67v1h-25.67zM591.33 319h25.67v1h-25.67z"/>
<path fill="#C6BAD2" d="M540 178h25.67v1h-25.67zM565.67 371h25.67v1h-25.67z"/>
<path fill="#EDE4EA" d="M386 179h25.67v1h-25.67zM540 180h25.67v1h-25.67zM591.33 238h25.67v1h-25.67zM565.67 402h25.67v1h-25.67z"/>
<path fill="#ED9999" d="M488.67 179h25.67v1h-25.67z"/>
<path fill="#DEBDC9" d="M591.33 179h25.67v1h-25.67z"/>
<path fill="#ED605D" d="M463 180h25.67v1h-25.67zM540 206h25.67v1h-25.67zM411.67 220h25.67v1h-25.67zM411.67 229h25.67v1h-25.67zM411.67 324h25.67v1h-25.67zM411.67 383h25.67v1h-25.67zM386 417h25.67v1h-25.67zM411.67 424h25.67v1h-25.67zM411.67 428h25.67v1h-25.67zM437.33 428h25.67v1h-25.67zM540 435h25.67v1h-25.67zM411.67 437h25.67v1h-25.67z"/>
<path fill="#F9DBDB" d="M488.67 180h25.67v1h-25.67zM591.33 398h25.67v1h-25.67z"/>
<path fill="#C3D5F3" d="M540 181h25.67v1h-25.67zM386 192h25.67v1h-25.67zM565.67 208h25.67v1h-25.67zM540 219h25.67v1h-25.67zM463 236h25.67v1h-25.67zM591.33 255h25.67v1h-25.67zM488.67 339h25.67v1h-25.67zM540 346h25.67v1h-25.67z"/>
<path fill="#DB9FA8" d="M565.67 181h25.67v1h-25.67z"/>
<path fill="#E49399" d="M565.67 182h25.67v1h-25.67z"/>
<path fill="#DBDEF0" d="M591.33 182h25.67v1h-25.67zM565.67 204h25.67v1h-25.67z"/>
<path fill="#DBB4C3" d="M540 183h25.67v1h-25.67z"/>
<path fill="#FFF9F6" d="M591.33 183h25.67v1h-25.67z"/>
<path fill="#F3D8DE" d="M591.33 184h25.67v1h-25.67z"/>
<path fill="#F6ABAB" d="M463 185h25.67v1h-25.67zM591.33 233h25.67v1h-25.67zM386 240h25.67v1h-25.67zM437.33 241h25.67v1h-25.67zM386 256h25.67v1h-25.67zM386 305h25.67v1h-25.67zM565.67 389h25.67v1h-25.67zM437.33 398h25.67v1h-25.67z"/>
<path fill="#F08787" d="M514.33 185h25.67v1h-25.67zM386 269h25.67v1h-25.67zM386 277h25.67v1h-25.67zM386 321h25.67v1h-25.67zM437.33 377h25.67v1h-25.67zM565.67 410h25.67v1h-25.67z"/>
<path fill="#BAABCC" d="M540 185h25.67v1h-25.67z"/>
<path fill="#CCB7CC" d="M540 186h25.67v1h-25.67z"/>
<path fill="#F3D5D8" d="M565.67 186h25.67v1h-25.67zM591.33 251h25.67v1h-25.67z"/>
<path fill="#E73633" d="M488.67 187h25.67v1h-25.67zM463 212h25.67v1h-25.67zM411.67 387h25.67v1h-25.67zM411.67 415h25.67v1h-25.67z"/>
<path fill="#A29CC6" d="M540 187h25.67v1h-25.67z"/>
<path fill="#E7CFD8" d="M565.67 187h25.67v1h-25.67zM540 263h25.67v1h-25.67zM591.33 270h25.67v1h-25.67z"/>
<path fill="#EDF0F9" d="M591.33 187h25.67v1h-25.67zM591.33 242h25.67v1h-25.67zM488.67 364h25.67v1h-25.67z"/>
<path fill="#EA9699" d="M540 189h25.67v1h-25.67z"/>
<path fill="#F3EAF0" d="M565.67 189h25.67v1h-25.67zM591.33 197h25.67v1h-25.67z"/>
<path fill="#DBB1BD" d="M591.33 189h25.67v1h-25.67z"/>
<path fill="#F9D5D5" d="M488.67 190h25.67v1h-25.67zM591.33 209h25.67v1h-25.67zM565.67 219h25.67v1h-25.67zM386 335h25.67v1h-25.67zM591.33 363h25.67v1h-25.67zM591.33 366h25.67v1h-25.67zM437.33 386h25.67v1h-25.67zM437.33 400h25.67v1h-25.67zM386 429h25.67v1h-25.67zM437.33 429h25.67v1h-25.67z"/>
<path fill="#F0CFD5" d="M591.33 191h25.67v1h-25.67zM565.67 291h25.67v1h-25.67z"/>
<path fill="#C9CFEA" d="M540 192h25.67v1h-25.67z"/>
<path fill="#BACFF0" d="M591.33 192h25.67v1h-25.67z"/>
<path fill="#99B1E4" d="M540 193h25.67v1h-25.67z"/>
<path fill="#F09F9F" d="M565.67 193h25.67v1h-25.67z"/>
<path fill="#EDB4B7" d="M591.33 193h25.67v1h-25.67zM591.33 278h25.67v1h-25.67zM540 323h25.67v1h-25.67z"/>
<path fill="#E42721" d="M463 194h25.67v1h-25.67zM411.67 389h25.67v1h-25.67z"/>
<path fill="#E7CCD5" d="M514.33 194h25.67v1h-25.67z"/>
<path fill="#F9EDF0" d="M540 194h25.67v1h-25.67zM437.33 334h25.67v1h-25.67z"/>
<path fill="#E42A24" d="M591.33 194h25.67v1h-25.67zM565.67 237h25.67v1h-25.67zM386 247h25.67v1h-25.67z"/>
<path fill="#F9EAEA" d="M540 195h25.67v1h-25.67zM591.33 264h25.67v1h-25.67zM565.67 280h25.67v1h-25.67z"/>
<path fill="#ED7E7B" d="M463 196h25.67v1h-25.67z"/>
<path fill="#E4CCD5" d="M565.67 196h25.67v1h-25.67z"/>
<path fill="#E7C6CC" d="M463 197h25.67v1h-25.67z"/>
<path fill="#EA787B" d="M565.67 197h25.67v1h-25.67z"/>
<path fill="#B4BDE1" d="M565.67 198h25.67v1h-25.67z"/>
<path fill="#F08D8D" d="M514.33 199h25.67v1h-25.67zM463 206h25.67v1h-25.67zM411.67 361h25.67v1h-25.67z"/>
<path fill="#E7C9D2" d="M540 199h25.67v1h-25.67z"/>
<path fill="#E1E4F3" d="M386 200h25.67v1h-25.67zM591.33 237h25.67v1h-25.67zM591.33 296h25.67v1h-25.67z"/>
<path fill="#E1D8E4" d="M565.67 200h25.67v1h-25.67z"/>
<path fill="#FCE4E4" d="M514.33 202h25.67v1h-25.67zM591.33 246h25.67v1h-25.67zM540 255h25.67v1h-25.67zM591.33 321h25.67v1h-25.67zM386 388h25.67v1h-25.67z"/>
<path fill="#CC6F7E" d="M565.67 202h25.67v1h-25.67z"/>
<path fill="#E7C0C9" d="M540 204h25.67v1h-25.67z"/>
<path fill="#E1A5AE" d="M591.33 205h25.67v1h-25.67z"/>
<path fill="#D8D8EA" d="M565.67 206h25.67v1h-25.67zM591.33 248h25.67v1h-25.67zM591.33 420h25.67v1h-25.67z"/>
<path fill="#F0C9CC" d="M591.33 206h25.67v1h-25.67zM565.67 292h25.67v1h-25.67zM437.33 363h25.67v1h-25.67z"/>
<path fill="#F0C0C3" d="M540 207h25.67v1h-25.67z"/>
<path fill="#C3D2ED" d="M565.67 207h25.67v1h-25.67z"/>
<path fill="#C6AEC6" d="M565.67 209h25.67v1h-25.67z"/>
<path fill="#F0E7F0" d="M591.33 210h25.67v1h-25.67zM565.67 247h25.67v1h-25.67z"/>
<path fill="#E73F3C" d="M463 211h25.67v1h-25.67zM411.67 242h25.67v1h-25.67zM411.67 300h25.67v1h-25.67zM565.67 313h25.67v1h-25.67zM411.67 357h25.67v1h-25.67z"/>
<path fill="#F0DEE4" d="M565.67 211h25.67v1h-25.67zM540 345h25.67v1h-25.67z"/>
<path fill="#F3B4B4" d="M591.33 211h25.67v1h-25.67zM591.33 245h25.67v1h-25.67z"/>
<path fill="#C3B4CF" d="M540 212h25.67v1h-25.67z"/>
<path fill="#DBD2E4" d="M591.33 216h25.67v1h-25.67z"/>
<path fill="#F0CCCF" d="M437.33 217h25.67v1h-25.67zM437.33 349h25.67v1h-25.67z"/>
<path fill="#EA8787" d="M540 217h25.67v1h-25.67z"/>
<path fill="#E4B1BA" d="M386 220h25.67v1h-25.67z"/>
<path fill="#CCD8F3" d="M514.33 220h25.67v1h-25.67zM591.33 325h25.67v1h-25.67z"/>
<path fill="#F0B4B4" d="M386 221h25.67v1h-25.67z"/>
<path fill="#F9F3F3" d="M540 221h25.67v1h-25.67z"/>
<path fill="#D2BACC" d="M591.33 221h25.67v1h-25.67z"/>
<path fill="#AB9CC0" d="M591.33 222h25.67v1h-25.67z"/>
<path fill="#E1E1ED" d="M540 223h25.67v1h-25.67z"/>
<path fill="#C9D8F3" d="M565.67 223h25.67v1h-25.67z"/>
<path fill="#C6CFEA" d="M591.33 223h25.67v1h-25.67z"/>
<path fill="#FFF6F6" d="M540 224h25.67v1h-25.67zM540 251h25.67v1h-25.67z"/>
<path fill="#E1BAC3" d="M540 225h25.67v1h-25.67z"/>
<path fill="#E4CFDB" d="M591.33 225h25.67v1h-25.67zM540 344h25.67v1h-25.67zM565.67 357h25.67v1h-25.67z"/>
<path fill="#90B1E4" d="M565.67 226h25.67v1h-25.67z"/>
<path fill="#D5BDCF" d="M437.33 227h25.67v1h-25.67z"/>
<path fill="#F0CFD2" d="M540 227h25.67v1h-25.67z"/>
<path fill="#E72D2A" d="M591.33 227h25.67v1h-25.67zM411.67 238h25.67v1h-25.67zM411.67 277h25.67v1h-25.67zM411.67 310h25.67v1h-25.67zM411.67 374h25.67v1h-25.67z"/>
<path fill="#D2DBF3" d="M540 228h25.67v1h-25.67z"/>
<path fill="#E1A8B1" d="M591.33 230h25.67v1h-25.67z"/>
<path fill="#D2ABBD" d="M591.33 231h25.67v1h-25.67z"/>
<path fill="#EA453F" d="M411.67 232h25.67v1h-25.67zM411.67 313h25.67v1h-25.67zM591.33 343h25.67v1h-25.67zM386 391h25.67v1h-25.67z"/>
<path fill="#5790E1" d="M463 232h25.67v1h-25.67zM514.33 422h25.67v1h-25.67z"/>
<path fill="#ABB4DB" d="M540 232h25.67v1h-25.67z"/>
<path fill="#D8DEF3" d="M540 234h25.67v1h-25.67z"/>
<path fill="#CFC6DB" d="M591.33 234h25.67v1h-25.67z"/>
<path fill="#D2D8ED" d="M540 235h25.67v1h-25.67z"/>
<path fill="#D8CCDE" d="M591.33 235h25.67v1h-25.67z"/>
<path fill="#F9F9FC" d="M386 236h25.67v1h-25.67zM540 349h25.67v1h-25.67z"/>
<path fill="#E4241E" d="M411.67 236h25.67v1h-25.67zM411.67 388h25.67v1h-25.67z"/>
<path fill="#E7302A" d="M411.67 237h25.67v1h-25.67zM437.33 390h25.67v1h-25.67zM437.33 395h25.67v1h-25.67z"/>
<path fill="#E73C39" d="M437.33 238h25.67v1h-25.67zM591.33 309h25.67v1h-25.67zM411.67 332h25.67v1h-25.67zM411.67 409h25.67v1h-25.67zM411.67 411h25.67v1h-25.67z"/>
<path fill="#E4DEEA" d="M565.67 238h25.67v1h-25.67zM540 422h25.67v1h-25.67z"/>
<path fill="#EDC6C9" d="M591.33 239h25.67v1h-25.67z"/>
<path fill="#CFD8F0" d="M565.67 240h25.67v1h-25.67z"/>
<path fill="#F3F9FC" d="M386 243h25.67v1h-25.67zM488.67 282h25.67v1h-25.67zM591.33 423h25.67v1h-25.67z"/>
<path fill="#EAEDF9" d="M540 243h25.67v1h-25.67z"/>
<path fill="#F6C0C0" d="M437.33 244h25.67v1h-25.67z"/>
<path fill="#F3C6C6" d="M386 245h25.67v1h-25.67zM386 373h25.67v1h-25.67z"/>
<path fill="#BDCCED" d="M540 245h25.67v1h-25.67z"/>
<path fill="#C9D2ED" d="M540 246h25.67v1h-25.67z"/>
<path fill="#EAC6CF" d="M540 247h25.67v1h-25.67z"/>
<path fill="#E72D27" d="M386 248h25.67v1h-25.67zM591.33 275h25.67v1h-25.67z"/>
<path fill="#DEBDC6" d="M437.33 248h25.67v1h-25.67z"/>
<path fill="#EDDBE1" d="M540 248h25.67v1h-25.67z"/>
<path fill="#578DDE" d="M540 250h25.67v1h-25.67z"/>
<path fill="#F3D8DB" d="M591.33 250h25.67v1h-25.67z"/>
<path fill="#96B4E7" d="M540 252h25.67v1h-25.67zM540 254h25.67v1h-25.67z"/>
<path fill="#D8D2E1" d="M591.33 252h25.67v1h-25.67zM565.67 425h25.67v1h-25.67z"/>
<path fill="#E46969" d="M565.67 254h25.67v1h-25.67z"/>
<path fill="#6690DB" d="M591.33 254h25.67v1h-25.67z"/>
<path fill="#EA5751" d="M386 255h25.67v1h-25.67zM386 367h25.67v1h-25.67z"/>
<path fill="#F39696" d="M540 256h25.67v1h-25.67zM411.67 398h25.67v1h-25.67z"/>
<path fill="#F6D5D8" d="M591.33 256h25.67v1h-25.67zM540 361h25.67v1h-25.67zM386 382h25.67v1h-25.67zM591.33 426h25.67v1h-25.67z"/>
<path fill="#D8E1F3" d="M540 258h25.67v1h-25.67zM540 382h25.67v1h-25.67z"/>
<path fill="#F3E7ED" d="M565.67 258h25.67v1h-25.67zM386 263h25.67v1h-25.67z"/>
<path fill="#E7332D" d="M386 259h25.67v1h-25.67zM411.67 295h25.67v1h-25.67zM565.67 338h25.67v1h-25.67zM437.33 423h25.67v1h-25.67z"/>
<path fill="#C3C9E7" d="M565.67 259h25.67v1h-25.67z"/>
<path fill="#F0C3C9" d="M591.33 259h25.67v1h-25.67z"/>
<path fill="#EAA8AE" d="M437.33 260h25.67v1h-25.67z"/>
<path fill="#EDC9CF" d="M386 261h25.67v1h-25.67z"/>
<path fill="#BAC9EA" d="M565.67 261h25.67v1h-25.67zM591.33 385h25.67v1h-25.67z"/>
<path fill="#E1DEEA" d="M591.33 261h25.67v1h-25.67zM540 281h25.67v1h-25.67z"/>
<path fill="#EDDEE4" d="M437.33 262h25.67v1h-25.67zM565.67 420h25.67v1h-25.67z"/>
<path fill="#C3C3DE" d="M540 262h25.67v1h-25.67zM565.67 385h25.67v1h-25.67z"/>
<path fill="#CFCCE1" d="M591.33 262h25.67v1h-25.67z"/>
<path fill="#DBD5E4" d="M386 264h25.67v1h-25.67z"/>
<path fill="#EDB1B4" d="M540 264h25.67v1h-25.67z"/>
<path fill="#F3CFD2" d="M565.67 265h25.67v1h-25.67zM591.33 281h25.67v1h-25.67z"/>
<path fill="#D2BDCF" d="M591.33 266h25.67v1h-25.67z"/>
<path fill="#DBB7C6" d="M540 267h25.67v1h-25.67z"/>
<path fill="#DBA8B4" d="M591.33 267h25.67v1h-25.67z"/>
<path fill="#C3CCE7" d="M565.67 268h25.67v1h-25.67z"/>
<path fill="#D2C0D2" d="M437.33 269h25.67v1h-25.67zM591.33 404h25.67v1h-25.67z"/>
<path fill="#D5BAC9" d="M540 269h25.67v1h-25.67z"/>
<path fill="#B4ABCC" d="M565.67 269h25.67v1h-25.67z"/>
<path fill="#6696E4" d="M514.33 270h25.67v1h-25.67zM463 314h25.67v1h-25.67z"/>
<path fill="#D5818D" d="M540 270h25.67v1h-25.67z"/>
<path fill="#F3B1B1" d="M565.67 270h25.67v1h-25.67z"/>
<path fill="#CFD5ED" d="M540 271h25.67v1h-25.67z"/>
<path fill="#BDD2F0" d="M540 272h25.67v1h-25.67z"/>
<path fill="#E7C3CC" d="M565.67 272h25.67v1h-25.67z"/>
<path fill="#E73630" d="M411.67 273h25.67v1h-25.67zM411.67 294h25.67v1h-25.67zM411.67 329h25.67v1h-25.67z"/>
<path fill="#D8DBF0" d="M540 273h25.67v1h-25.67z"/>
<path fill="#E42A27" d="M411.67 275h25.67v1h-25.67z"/>
<path fill="#EDF0F6" d="M488.67 277h25.67v1h-25.67z"/>
<path fill="#F6CFCF" d="M591.33 277h25.67v1h-25.67zM565.67 281h25.67v1h-25.67zM437.33 345h25.67v1h-25.67zM565.67 415h25.67v1h-25.67z"/>
<path fill="#E1EDF9" d="M488.67 280h25.67v1h-25.67zM386 374h25.67v1h-25.67z"/>
<path fill="#C3B7D2" d="M591.33 280h25.67v1h-25.67z"/>
<path fill="#DBC0CC" d="M540 282h25.67v1h-25.67z"/>
<path fill="#D5DEF3" d="M591.33 283h25.67v1h-25.67z"/>
<path fill="#F6C9C9" d="M565.67 284h25.67v1h-25.67z"/>
<path fill="#EAE4EA" d="M591.33 284h25.67v1h-25.67z"/>
<path fill="#F0EDF3" d="M540 285h25.67v1h-25.67z"/>
<path fill="#E4C0CC" d="M565.67 285h25.67v1h-25.67z"/>
<path fill="#B4BADB" d="M591.33 285h25.67v1h-25.67z"/>
<path fill="#CFCFE4" d="M540 286h25.67v1h-25.67z"/>
<path fill="#F0F0F9" d="M463 287h25.67v1h-25.67z"/>
<path fill="#EDE7F0" d="M540 288h25.67v1h-25.67z"/>
<path fill="#E1DBE7" d="M565.67 288h25.67v1h-25.67zM540 405h25.67v1h-25.67z"/>
<path fill="#F6DEDE" d="M540 289h25.67v1h-25.67z"/>
<path fill="#B1C3E7" d="M565.67 290h25.67v1h-25.67z"/>
<path fill="#E1E7F3" d="M488.67 292h25.67v1h-25.67z"/>
<path fill="#C0B4D2" d="M591.33 292h25.67v1h-25.67z"/>
<path fill="#ED605A" d="M411.67 297h25.67v1h-25.67zM386 433h25.67v1h-25.67z"/>
<path fill="#E4C3CF" d="M565.67 297h25.67v1h-25.67z"/>
<path fill="#F09C9C" d="M386 298h25.67v1h-25.67z"/>
<path fill="#EA8A8A" d="M386 299h25.67v1h-25.67z"/>
<path fill="#EDEDF6" d="M591.33 299h25.67v1h-25.67z"/>
<path fill="#E4D2DB" d="M565.67 300h25.67v1h-25.67z"/>
<path fill="#8AAEEA" d="M591.33 300h25.67v1h-25.67z"/>
<path fill="#FCF3F3" d="M540 301h25.67v1h-25.67z"/>
<path fill="#F6E1E1" d="M540 303h25.67v1h-25.67z"/>
<path fill="#DEDBEA" d="M565.67 303h25.67v1h-25.67zM540 367h25.67v1h-25.67z"/>
<path fill="#EDC3C9" d="M591.33 303h25.67v1h-25.67z"/>
<path fill="#F0D8DB" d="M386 304h25.67v1h-25.67z"/>
<path fill="#F6E4E7" d="M565.67 304h25.67v1h-25.67z"/>
<path fill="#C9D2EA" d="M565.67 305h25.67v1h-25.67z"/>
<path fill="#F6E1E4" d="M591.33 305h25.67v1h-25.67zM488.67 397h25.67v1h-25.67z"/>
<path fill="#F3F0F6" d="M386 306h25.67v1h-25.67zM565.67 394h25.67v1h-25.67z"/>
<path fill="#99ABDB" d="M565.67 306h25.67v1h-25.67z"/>
<path fill="#EAC9CF" d="M591.33 306h25.67v1h-25.67z"/>
<path fill="#F3E4E7" d="M386 307h25.67v1h-25.67z"/>
<path fill="#D5C0CF" d="M540 307h25.67v1h-25.67z"/>
<path fill="#DBC0CF" d="M386 308h25.67v1h-25.67z"/>
<path fill="#C3D5F0" d="M540 309h25.67v1h-25.67z"/>
<path fill="#9687B7" d="M565.67 310h25.67v1h-25.67z"/>
<path fill="#F07B7B" d="M386 311h25.67v1h-25.67z"/>
<path fill="#DBB7C3" d="M565.67 312h25.67v1h-25.67z"/>
<path fill="#DEA8B1" d="M540 313h25.67v1h-25.67z"/>
<path fill="#CFB7CC" d="M591.33 313h25.67v1h-25.67z"/>
<path fill="#ED6969" d="M386 314h25.67v1h-25.67z"/>
<path fill="#ED9F9F" d="M386 315h25.67v1h-25.67z"/>
<path fill="#E7302D" d="M386 316h25.67v1h-25.67zM411.67 319h25.67v1h-25.67zM411.67 342h25.67v1h-25.67zM437.33 425h25.67v1h-25.67z"/>
<path fill="#F9E7EA" d="M540 316h25.67v1h-25.67zM437.33 342h25.67v1h-25.67zM591.33 361h25.67v1h-25.67zM591.33 413h25.67v1h-25.67z"/>
<path fill="#F6D5D5" d="M591.33 317h25.67v1h-25.67z"/>
<path fill="#BDC6E4" d="M540 318h25.67v1h-25.67z"/>
<path fill="#E4E4F0" d="M591.33 318h25.67v1h-25.67zM591.33 395h25.67v1h-25.67z"/>
<path fill="#FCFCFC" d="M386 319h25.67v1h-25.67z"/>
<path fill="#F6F0F0" d="M565.67 319h25.67v1h-25.67z"/>
<path fill="#E48184" d="M565.67 320h25.67v1h-25.67z"/>
<path fill="#E1787B" d="M565.67 321h25.67v1h-25.67z"/>
<path fill="#E4848A" d="M540 322h25.67v1h-25.67z"/>
<path fill="#D5727E" d="M565.67 322h25.67v1h-25.67z"/>
<path fill="#E1C6D2" d="M591.33 322h25.67v1h-25.67z"/>
<path fill="#E1B7C0" d="M591.33 323h25.67v1h-25.67z"/>
<path fill="#E7E7F0" d="M565.67 325h25.67v1h-25.67zM565.67 336h25.67v1h-25.67zM488.67 418h25.67v1h-25.67zM565.67 426h25.67v1h-25.67z"/>
<path fill="#FCF0F0" d="M540 326h25.67v1h-25.67zM540 352h25.67v1h-25.67zM540 389h25.67v1h-25.67z"/>
<path fill="#DEC0CC" d="M565.67 326h25.67v1h-25.67z"/>
<path fill="#BDC6E7" d="M488.67 327h25.67v1h-25.67z"/>
<path fill="#BDBDDE" d="M565.67 327h25.67v1h-25.67z"/>
<path fill="#8AA5E1" d="M591.33 327h25.67v1h-25.67z"/>
<path fill="#EDD2D5" d="M540 328h25.67v1h-25.67z"/>
<path fill="#D8AEBD" d="M565.67 328h25.67v1h-25.67z"/>
<path fill="#DBCCDE" d="M591.33 328h25.67v1h-25.67z"/>
<path fill="#8DABE4" d="M540 329h25.67v1h-25.67zM540 351h25.67v1h-25.67z"/>
<path fill="#F6EDF0" d="M565.67 329h25.67v1h-25.67z"/>
<path fill="#EA878A" d="M591.33 329h25.67v1h-25.67z"/>
<path fill="#EDD8DE" d="M540 330h25.67v1h-25.67z"/>
<path fill="#CFDBF0" d="M591.33 330h25.67v1h-25.67z"/>
<path fill="#F0D5D8" d="M565.67 331h25.67v1h-25.67z"/>
<path fill="#EADBE7" d="M591.33 332h25.67v1h-25.67z"/>
<path fill="#ED6963" d="M411.67 333h25.67v1h-25.67z"/>
<path fill="#E47B7E" d="M540 333h25.67v1h-25.67z"/>
<path fill="#F0C6CC" d="M591.33 333h25.67v1h-25.67z"/>
<path fill="#F9DBD8" d="M386 334h25.67v1h-25.67z"/>
<path fill="#EADEE4" d="M540 334h25.67v1h-25.67z"/>
<path fill="#F0F6FC" d="M591.33 337h25.67v1h-25.67z"/>
<path fill="#F3A8A8" d="M540 338h25.67v1h-25.67zM565.67 431h25.67v1h-25.67z"/>
<path fill="#D8A5B4" d="M591.33 338h25.67v1h-25.67z"/>
<path fill="#C3A8C0" d="M540 339h25.67v1h-25.67z"/>
<path fill="#B48DAB" d="M591.33 339h25.67v1h-25.67z"/>
<path fill="#F0D2D8" d="M540 340h25.67v1h-25.67z"/>
<path fill="#EA4842" d="M565.67 340h25.67v1h-25.67zM411.67 421h25.67v1h-25.67z"/>
<path fill="#E42724" d="M386 342h25.67v1h-25.67z"/>
<path fill="#D5DEF0" d="M540 342h25.67v1h-25.67z"/>
<path fill="#C69FB4" d="M565.67 344h25.67v1h-25.67z"/>
<path fill="#C6879C" d="M591.33 344h25.67v1h-25.67z"/>
<path fill="#87ABE4" d="M565.67 345h25.67v1h-25.67z"/>
<path fill="#7EA5E4" d="M591.33 345h25.67v1h-25.67z"/>
<path fill="#B48AAB" d="M591.33 348h25.67v1h-25.67z"/>
<path fill="#3F7EDE" d="M514.33 351h25.67v1h-25.67zM514.33 368h25.67v1h-25.67z"/>
<path fill="#B7C9EA" d="M565.67 351h25.67v1h-25.67z"/>
<path fill="#9FBAEA" d="M591.33 351h25.67v1h-25.67z"/>
<path fill="#DBA5B1" d="M565.67 352h25.67v1h-25.67z"/>
<path fill="#CF9CAE" d="M540 353h25.67v1h-25.67z"/>
<path fill="#E7DBE7" d="M591.33 355h25.67v1h-25.67z"/>
<path fill="#A8B7E1" d="M591.33 360h25.67v1h-25.67z"/>
<path fill="#F0B7B7" d="M437.33 362h25.67v1h-25.67z"/>
<path fill="#C9BACF" d="M540 363h25.67v1h-25.67z"/>
<path fill="#F3C3C3" d="M591.33 364h25.67v1h-25.67z"/>
<path fill="#F9E4E7" d="M540 365h25.67v1h-25.67zM591.33 416h25.67v1h-25.67z"/>
<path fill="#E73C36" d="M591.33 365h25.67v1h-25.67z"/>
<path fill="#FCF9F9" d="M591.33 367h25.67v1h-25.67z"/>
<path fill="#CCD8F0" d="M591.33 368h25.67v1h-25.67z"/>
<path fill="#EAC3C9" d="M565.67 369h25.67v1h-25.67z"/>
<path fill="#CCAEC0" d="M591.33 369h25.67v1h-25.67z"/>
<path fill="#A8ABD5" d="M565.67 370h25.67v1h-25.67z"/>
<path fill="#BAC3E4" d="M591.33 370h25.67v1h-25.67z"/>
<path fill="#6F9CE1" d="M591.33 371h25.67v1h-25.67z"/>
<path fill="#D8C9DB" d="M437.33 372h25.67v1h-25.67z"/>
<path fill="#F0AEAE" d="M437.33 373h25.67v1h-25.67z"/>
<path fill="#CCD2EA" d="M540 373h25.67v1h-25.67z"/>
<path fill="#E7EAF6" d="M565.67 375h25.67v1h-25.67z"/>
<path fill="#A2C3F0" d="M591.33 375h25.67v1h-25.67z"/>
<path fill="#90B1EA" d="M540 376h25.67v1h-25.67z"/>
<path fill="#E1A5AB" d="M565.67 376h25.67v1h-25.67z"/>
<path fill="#4584DE" d="M514.33 377h25.67v1h-25.67z"/>
<path fill="#F6C3C3" d="M591.33 379h25.67v1h-25.67z"/>
<path fill="#C3C6E1" d="M488.67 380h25.67v1h-25.67z"/>
<path fill="#E4E1ED" d="M540 380h25.67v1h-25.67zM591.33 410h25.67v1h-25.67z"/>
<path fill="#EACFD8" d="M565.67 380h25.67v1h-25.67z"/>
<path fill="#E1EAF6" d="M540 381h25.67v1h-25.67z"/>
<path fill="#C6B4CC" d="M591.33 381h25.67v1h-25.67z"/>
<path fill="#E4EAF6" d="M488.67 382h25.67v1h-25.67z"/>
<path fill="#EA5D57" d="M386 384h25.67v1h-25.67z"/>
<path fill="#BDCFF0" d="M488.67 384h25.67v1h-25.67z"/>
<path fill="#D8D2E7" d="M565.67 384h25.67v1h-25.67z"/>
<path fill="#CFD5EA" d="M591.33 384h25.67v1h-25.67z"/>
<path fill="#6F9CE4" d="M591.33 386h25.67v1h-25.67z"/>
<path fill="#87ABE7" d="M540 387h25.67v1h-25.67z"/>
<path fill="#F0CCD2" d="M591.33 387h25.67v1h-25.67z"/>
<path fill="#E4E4F3" d="M565.67 388h25.67v1h-25.67z"/>
<path fill="#F0D8DE" d="M386 389h25.67v1h-25.67z"/>
<path fill="#B7A5C6" d="M591.33 389h25.67v1h-25.67z"/>
<path fill="#CFB4C6" d="M540 390h25.67v1h-25.67z"/>
<path fill="#C093AE" d="M591.33 390h25.67v1h-25.67z"/>
<path fill="#99ABDE" d="M565.67 392h25.67v1h-25.67z"/>
<path fill="#D8D2E4" d="M540 393h25.67v1h-25.67z"/>
<path fill="#C0B7D2" d="M540 394h25.67v1h-25.67z"/>
<path fill="#E1CCD8" d="M591.33 394h25.67v1h-25.67z"/>
<path fill="#7890D2" d="M540 395h25.67v1h-25.67z"/>
<path fill="#C9B7CF" d="M386 398h25.67v1h-25.67z"/>
<path fill="#F3E4EA" d="M565.67 400h25.67v1h-25.67z"/>
<path fill="#3C7BDB" d="M514.33 402h25.67v1h-25.67zM514.33 432h25.67v1h-25.67z"/>
<path fill="#C699B1" d="M540 402h25.67v1h-25.67z"/>
<path fill="#D8DBED" d="M591.33 402h25.67v1h-25.67z"/>
<path fill="#E1C0C9" d="M591.33 403h25.67v1h-25.67z"/>
<path fill="#BDA5C0" d="M591.33 407h25.67v1h-25.67z"/>
<path fill="#DEC3CF" d="M565.67 408h25.67v1h-25.67z"/>
<path fill="#CCC9E1" d="M591.33 409h25.67v1h-25.67z"/>
<path fill="#E7B7BD" d="M540 411h25.67v1h-25.67z"/>
<path fill="#E79FA2" d="M565.67 412h25.67v1h-25.67z"/>
<path fill="#F9E7E7" d="M565.67 413h25.67v1h-25.67z"/>
<path fill="#F6F6FC" d="M386 415h25.67v1h-25.67z"/>
<path fill="#C6C9E4" d="M540 416h25.67v1h-25.67z"/>
<path fill="#DEDEED" d="M488.67 417h25.67v1h-25.67z"/>
<path fill="#D2CCE1" d="M591.33 417h25.67v1h-25.67z"/>
<path fill="#CCBACF" d="M540 418h25.67v1h-25.67z"/>
<path fill="#D5CCE1" d="M565.67 418h25.67v1h-25.67z"/>
<path fill="#EADBE4" d="M540 419h25.67v1h-25.67z"/>
<path fill="#93B1E7" d="M565.67 422h25.67v1h-25.67z"/>
<path fill="#F6F9FC" d="M591.33 422h25.67v1h-25.67z"/>
<path fill="#F9F0F0" d="M565.67 423h25.67v1h-25.67z"/>
<path fill="#D57E8D" d="M540 425h25.67v1h-25.67z"/>
<path fill="#FCF6F9" d="M591.33 425h25.67v1h-25.67z"/>
<path fill="#BAAECF" d="M565.67 428h25.67v1h-25.67z"/>
<path fill="#CFD2E7" d="M591.33 428h25.67v1h-25.67z"/>
<path fill="#7E8AC6" d="M540 429h25.67v1h-25.67z"/>
<path fill="#A2A2CF" d="M565.67 429h25.67v1h-25.67z"/>
<path fill="#729FE4" d="M591.33 429h25.67v1h-25.67z"/>
<path fill="#EDDEE7" d="M437.33 430h25.67v1h-25.67z"/>
<path fill="#B1BADE" d="M565.67 433h25.67v1h-25.67z"/>
<path fill="#D8A2B1" d="M565.67 434h25.67v1h-25.67z"/>
<path fill="#AE96B7" d="M591.33 436h25.67v1h-25.67z"/>
</g>
<rect x="386" y="30.9" width="77" height="12.7" fill="#7EB1D1"/>
<rect x="463" y="30.9" width="77" height="12.7" fill="#ECAA6A"/>
<rect x="540" y="30.9" width="77" height="12.7" fill="#88D17F"/>
<rect x="370.2" y="46" width="13" height="167.2" fill="#AFEAF3"/>
<rect x="370.2" y="216" width="13" height="222.9" fill="#8DAE7B"/>
<line x1="370.2" y1="257.1" x2="383.2" y2="257.1" stroke="#AFC7A2" stroke-width="0.7"/>
<line x1="370.2" y1="281.1" x2="383.2" y2="281.1" stroke="#AFC7A2" stroke-width="0.7"/>
<line x1="370.2" y1="304.4" x2="383.2" y2="304.4" stroke="#AFC7A2" stroke-width="0.7"/>
<line x1="370.2" y1="328.4" x2="383.2" y2="328.4" stroke="#AFC7A2" stroke-width="0.7"/>
<line x1="370.2" y1="352.2" x2="383.2" y2="352.2" stroke="#AFC7A2" stroke-width="0.7"/>
<line x1="370.2" y1="375.5" x2="383.2" y2="375.5" stroke="#AFC7A2" stroke-width="0.7"/>
<text transform="translate(399.93 445.3) rotate(-45)" font-size="8.9" text-anchor="end">Ctrl_1</text>
<text transform="translate(425.6 445.3) rotate(-45)" font-size="8.9" text-anchor="end">Ctrl_2</text>
<text transform="translate(451.27 445.3) rotate(-45)" font-size="8.9" text-anchor="end">Ctrl_3</text>
<text transform="translate(476.93 445.3) rotate(-45)" font-size="8.9" text-anchor="end">Cis_1</text>
<text transform="translate(502.6 445.3) rotate(-45)" font-size="8.9" text-anchor="end">Cis_2</text>
<text transform="translate(528.27 445.3) rotate(-45)" font-size="8.9" text-anchor="end">Cis_3</text>
<text transform="translate(553.93 445.3) rotate(-45)" font-size="8.9" text-anchor="end">EE_Cis_1</text>
<text transform="translate(579.6 445.3) rotate(-45)" font-size="8.9" text-anchor="end">EE_Cis_2</text>
<text transform="translate(605.27 445.3) rotate(-45)" font-size="8.9" text-anchor="end">EE_Cis_3</text>
<text x="622.7" y="183.1" font-size="9.2" fill="#000" font-weight="bold">Cluster</text>
<rect x="623.3" y="187.2" width="8.6" height="9.2" fill="#AFEAF3"/>
<rect x="623.3" y="197.4" width="8.6" height="9.2" fill="#8DAE7B"/>
<text x="635.5" y="195.3" font-size="8.8" fill="#000">Cluster1</text>
<text x="635.5" y="205.4" font-size="8.8" fill="#000">Cluster2</text>
<text x="622.7" y="219.2" font-size="9.2" fill="#000" font-weight="bold">Group</text>
<rect x="623.3" y="223.4" width="8.6" height="9.2" fill="#7EB1D1"/>
<text x="635.5" y="231.4" font-size="8.8" fill="#000">Ctrl</text>
<rect x="623.3" y="233.6" width="8.6" height="9.2" fill="#ECAA6A"/>
<text x="635.5" y="241.6" font-size="8.8" fill="#000">Cis</text>
<rect x="623.3" y="243.8" width="8.6" height="9.2" fill="#88D17F"/>
<text x="635.5" y="251.8" font-size="8.8" fill="#000">EE_Cis</text>
<defs><linearGradient id="gb" x1="0" y1="0" x2="0" y2="1"><stop offset="0" stop-color="#E41E19"/><stop offset="0.05" stop-color="#E73430"/><stop offset="0.1" stop-color="#E94B47"/><stop offset="0.15" stop-color="#EC625E"/><stop offset="0.2" stop-color="#EF7875"/><stop offset="0.25" stop-color="#F28E8C"/><stop offset="0.3" stop-color="#F4A5A3"/><stop offset="0.35" stop-color="#F7BCBA"/><stop offset="0.4" stop-color="#FAD2D1"/><stop offset="0.45" stop-color="#FCE8E8"/><stop offset="0.5" stop-color="#FFFFFF"/><stop offset="0.55" stop-color="#EAF1FB"/><stop offset="0.6" stop-color="#D6E3F8"/><stop offset="0.65" stop-color="#C1D5F4"/><stop offset="0.7" stop-color="#ACC7F0"/><stop offset="0.75" stop-color="#98BAEC"/><stop offset="0.8" stop-color="#83ACE9"/><stop offset="0.85" stop-color="#6E9EE5"/><stop offset="0.9" stop-color="#5990E1"/><stop offset="0.95" stop-color="#4582DE"/><stop offset="1" stop-color="#3074DA"/></linearGradient></defs>
<rect x="632.2" y="258.5" width="11" height="72.3" fill="url(#gb)"/>
<line x1="632.2" y1="259" x2="634.6" y2="259" stroke="#fff" stroke-width="0.7"/>
<line x1="640.8" y1="259" x2="643.2" y2="259" stroke="#fff" stroke-width="0.7"/>
<line x1="632.2" y1="277.9" x2="634.6" y2="277.9" stroke="#fff" stroke-width="0.7"/>
<line x1="640.8" y1="277.9" x2="643.2" y2="277.9" stroke="#fff" stroke-width="0.7"/>
<line x1="632.2" y1="294.9" x2="634.6" y2="294.9" stroke="#fff" stroke-width="0.7"/>
<line x1="640.8" y1="294.9" x2="643.2" y2="294.9" stroke="#fff" stroke-width="0.7"/>
<line x1="632.2" y1="312.3" x2="634.6" y2="312.3" stroke="#fff" stroke-width="0.7"/>
<line x1="640.8" y1="312.3" x2="643.2" y2="312.3" stroke="#fff" stroke-width="0.7"/>
<line x1="632.2" y1="330.3" x2="634.6" y2="330.3" stroke="#fff" stroke-width="0.7"/>
<line x1="640.8" y1="330.3" x2="643.2" y2="330.3" stroke="#fff" stroke-width="0.7"/>
<text x="645.3" y="262.9" font-size="7.8" fill="#000">2</text>
<text x="645.3" y="280.7" font-size="7.8" fill="#000">1</text>
<text x="645.3" y="297.7" font-size="7.8" fill="#000">0</text>
<text x="645.3" y="315.1" font-size="7.8" fill="#000">-1</text>
<text x="645.3" y="332.4" font-size="7.8" fill="#000">-2</text>
<text transform="translate(629.6 294.6) rotate(-90)" font-size="8.9" font-weight="bold" text-anchor="middle">Log2 Expression</text>
<circle cx="57.5" cy="418.9" r="54.4" fill="#6495ED" fill-opacity="0.4"/>
<circle cx="110.3" cy="418.9" r="22" fill="#DA7684" fill-opacity="0.4"/>
<circle cx="219.5" cy="419.2" r="55.2" fill="#6495ED" fill-opacity="0.4"/>
<circle cx="273.8" cy="419.2" r="32.5" fill="#DA7684" fill-opacity="0.4"/>
<text x="46" y="421.1" font-size="5.2" fill="#000" text-anchor="middle">192</text>
<text x="100.1" y="421.1" font-size="5.2" fill="#000" text-anchor="middle">17</text>
<text x="122.2" y="421.1" font-size="5.2" fill="#000" text-anchor="middle">17</text>
<text x="203.2" y="421.5" font-size="6.2" fill="#000" text-anchor="middle">154</text>
<text x="258.1" y="421.5" font-size="6.2" fill="#000" text-anchor="middle">29</text>
<text x="290.3" y="421.5" font-size="6.2" fill="#000" text-anchor="middle">34</text>
<text x="48.85" y="345.2" font-size="5.25" fill="#000" text-anchor="middle">Cis VS Ctrl down</text>
<text x="106" y="345.9" font-size="5.5" fill="#000" text-anchor="middle">Cis+EE VS Ctrl up</text>
<text x="217.2" y="346.9" font-size="6.3" fill="#000" text-anchor="middle">Cis vs Ctrl up</text>
<text x="282.2" y="346.9" font-size="6.25" fill="#000" text-anchor="middle">Cis+EE vs Ctrl down</text>
<rect x="79.7" y="616.26" width="36.8" height="228.14" fill="#E42418" stroke="#111" stroke-width="0.8"/>
<text x="93.4" y="612.26" font-size="9" fill="#111" text-anchor="middle">194</text>
<rect x="116.5" y="598.62" width="37.2" height="245.78" fill="#4379DB" stroke="#111" stroke-width="0.8"/>
<text x="139.6" y="594.62" font-size="9" fill="#111" text-anchor="middle">209</text>
<rect x="172.1" y="804.42" width="36.8" height="39.98" fill="#E42418" stroke="#111" stroke-width="0.8"/>
<text x="185.8" y="800.42" font-size="9" fill="#111" text-anchor="middle">34</text>
<rect x="208.9" y="759.73" width="37.2" height="84.67" fill="#4379DB" stroke="#111" stroke-width="0.8"/>
<text x="232" y="755.73" font-size="9" fill="#111" text-anchor="middle">72</text>
<line x1="61.3" y1="574" x2="61.3" y2="844.4" stroke="#111" stroke-width="0.9"/>
<line x1="60.9" y1="844.4" x2="264.6" y2="844.4" stroke="#111" stroke-width="0.9"/>
<line x1="58.8" y1="844.4" x2="61.3" y2="844.4" stroke="#111" stroke-width="0.8"/>
<text x="57" y="847.5" font-size="8.6" fill="#4D4D4D" text-anchor="end">0</text>
<line x1="58.8" y1="785.6" x2="61.3" y2="785.6" stroke="#111" stroke-width="0.8"/>
<text x="57" y="788.7" font-size="8.6" fill="#4D4D4D" text-anchor="end">50</text>
<line x1="58.8" y1="726.8" x2="61.3" y2="726.8" stroke="#111" stroke-width="0.8"/>
<text x="57" y="729.9" font-size="8.6" fill="#4D4D4D" text-anchor="end">100</text>
<line x1="58.8" y1="668" x2="61.3" y2="668" stroke="#111" stroke-width="0.8"/>
<text x="57" y="671.1" font-size="8.6" fill="#4D4D4D" text-anchor="end">150</text>
<line x1="58.8" y1="609.2" x2="61.3" y2="609.2" stroke="#111" stroke-width="0.8"/>
<text x="57" y="612.3" font-size="8.6" fill="#4D4D4D" text-anchor="end">200</text>
<line x1="116.5" y1="844.4" x2="116.5" y2="846.9" stroke="#111" stroke-width="0.8"/>
<line x1="208.9" y1="844.4" x2="208.9" y2="846.9" stroke="#111" stroke-width="0.8"/>
<text transform="translate(120.8 853.6) rotate(-45)" font-size="9" text-anchor="end" fill="#4D4D4D">Cis/Ctrl</text>
<text transform="translate(213.2 853.6) rotate(-45)" font-size="9" text-anchor="end" fill="#4D4D4D">EE_Cis/Cis</text>
<text x="162.9" y="896.8" font-size="11.8" fill="#000" text-anchor="middle" font-weight="bold">comparable group</text>
<text transform="translate(38.6 709.4) rotate(-90)" font-size="11.8" font-weight="bold" text-anchor="middle">Number of proteins</text>
<rect x="93" y="548" width="11.3" height="11.6" fill="#E42418" stroke="#111" stroke-width="0.7"/>
<text x="109.6" y="556.8" font-size="8.3" fill="#111">Up regulated</text>
<rect x="162.5" y="548" width="11.3" height="11.6" fill="#4379DB" stroke="#111" stroke-width="0.7"/>
<text x="179.1" y="556.8" font-size="8.3" fill="#111">Down regulated</text>
<rect x="343.6" y="518.1" width="30.33" height="8.62" fill="#5497D7" stroke="#9E9E9E" stroke-width="0.7"/>
<rect x="373.93" y="518.1" width="30.33" height="8.62" fill="#BCD6EF" stroke="#9E9E9E" stroke-width="0.7"/>
<rect x="404.27" y="518.1" width="30.33" height="8.62" fill="#BCD6EF" stroke="#9E9E9E" stroke-width="0.7"/>
<rect x="434.6" y="518.1" width="30.33" height="8.62" fill="#FCD6D8" stroke="#9E9E9E" stroke-width="0.7"/>
<rect x="464.93" y="518.1" width="30.33" height="8.62" fill="#F25D63" stroke="#9E9E9E" stroke-width="0.7"/>
<rect x="495.27" y="518.1" width="30.33" height="8.62" fill="#F9B3B6" stroke="#9E9E9E" stroke-width="0.7"/>
<rect x="525.6" y="518.1" width="30.33" height="8.62" fill="#F9B8BB" stroke="#9E9E9E" stroke-width="0.7"/>
<rect x="555.93" y="518.1" width="30.33" height="8.62" fill="#FFFAFA" stroke="#9E9E9E" stroke-width="0.7"/>
<rect x="586.27" y="518.1" width="30.33" height="8.62" fill="#FBD1D3" stroke="#9E9E9E" stroke-width="0.7"/>
<text x="618.4" y="525.41" font-size="8.6" fill="#111">Trip4</text>
<rect x="343.6" y="526.72" width="30.33" height="8.62" fill="#6FA7DD" stroke="#9E9E9E" stroke-width="0.7"/>
<rect x="373.93" y="526.72" width="30.33" height="8.62" fill="#CEE1F3" stroke="#9E9E9E" stroke-width="0.7"/>
<rect x="404.27" y="526.72" width="30.33" height="8.62" fill="#B7D3EE" stroke="#9E9E9E" stroke-width="0.7"/>
<rect x="434.6" y="526.72" width="30.33" height="8.62" fill="#FAC2C4" stroke="#9E9E9E" stroke-width="0.7"/>
<rect x="464.93" y="526.72" width="30.33" height="8.62" fill="#F03E46" stroke="#9E9E9E" stroke-width="0.7"/>
<rect x="495.27" y="526.72" width="30.33" height="8.62" fill="#F6FAFD" stroke="#9E9E9E" stroke-width="0.7"/>
<rect x="525.6" y="526.72" width="30.33" height="8.62" fill="#FBD1D3" stroke="#9E9E9E" stroke-width="0.7"/>
<rect x="555.93" y="526.72" width="30.33" height="8.62" fill="#DDDDDD" stroke="#9E9E9E" stroke-width="0.7"/>
<rect x="586.27" y="526.72" width="30.33" height="8.62" fill="#F9B3B6" stroke="#9E9E9E" stroke-width="0.7"/>
<text x="618.4" y="534.03" font-size="8.6" fill="#111">Ubash3a</text>
<rect x="343.6" y="535.34" width="30.33" height="8.62" fill="#78ADE0" stroke="#9E9E9E" stroke-width="0.7"/>
<rect x="373.93" y="535.34" width="30.33" height="8.62" fill="#E0ECF8" stroke="#9E9E9E" stroke-width="0.7"/>
<rect x="404.27" y="535.34" width="30.33" height="8.62" fill="#78ADE0" stroke="#9E9E9E" stroke-width="0.7"/>
<rect x="434.6" y="535.34" width="30.33" height="8.62" fill="#F68F94" stroke="#9E9E9E" stroke-width="0.7"/>
<rect x="464.93" y="535.34" width="30.33" height="8.62" fill="#F15359" stroke="#9E9E9E" stroke-width="0.7"/>
<rect x="495.27" y="535.34" width="30.33" height="8.62" fill="#F9AEB1" stroke="#9E9E9E" stroke-width="0.7"/>
<rect x="525.6" y="535.34" width="30.33" height="8.62" fill="#FBCCCE" stroke="#9E9E9E" stroke-width="0.7"/>
<rect x="555.93" y="535.34" width="30.33" height="8.62" fill="#F2F7FC" stroke="#9E9E9E" stroke-width="0.7"/>
<rect x="586.27" y="535.34" width="30.33" height="8.62" fill="#FBCCCE" stroke="#9E9E9E" stroke-width="0.7"/>
<text x="618.4" y="542.66" font-size="8.6" fill="#111">Rfc1</text>
<rect x="343.6" y="543.97" width="30.33" height="8.62" fill="#81B2E2" stroke="#9E9E9E" stroke-width="0.7"/>
<rect x="373.93" y="543.97" width="30.33" height="8.62" fill="#9CC3E8" stroke="#9E9E9E" stroke-width="0.7"/>
<rect x="404.27" y="543.97" width="30.33" height="8.62" fill="#B3D0ED" stroke="#9E9E9E" stroke-width="0.7"/>
<rect x="434.6" y="543.97" width="30.33" height="8.62" fill="#F79A9D" stroke="#9E9E9E" stroke-width="0.7"/>
<rect x="464.93" y="543.97" width="30.33" height="8.62" fill="#F0434A" stroke="#9E9E9E" stroke-width="0.7"/>
<rect x="495.27" y="543.97" width="30.33" height="8.62" fill="#F79A9D" stroke="#9E9E9E" stroke-width="0.7"/>
<rect x="525.6" y="543.97" width="30.33" height="8.62" fill="#FBCCCE" stroke="#9E9E9E" stroke-width="0.7"/>
<rect x="555.93" y="543.97" width="30.33" height="8.62" fill="#D2E4F5" stroke="#9E9E9E" stroke-width="0.7"/>
<rect x="586.27" y="543.97" width="30.33" height="8.62" fill="#FBCCCE" stroke="#9E9E9E" stroke-width="0.7"/>
<text x="618.4" y="551.28" font-size="8.6" fill="#111">Eef2k</text>
<rect x="343.6" y="552.59" width="30.33" height="8.62" fill="#86B5E3" stroke="#9E9E9E" stroke-width="0.7"/>
<rect x="373.93" y="552.59" width="30.33" height="8.62" fill="#AACBEB" stroke="#9E9E9E" stroke-width="0.7"/>
<rect x="404.27" y="552.59" width="30.33" height="8.62" fill="#AECEEC" stroke="#9E9E9E" stroke-width="0.7"/>
<rect x="434.6" y="552.59" width="30.33" height="8.62" fill="#F47176" stroke="#9E9E9E" stroke-width="0.7"/>
<rect x="464.93" y="552.59" width="30.33" height="8.62" fill="#F0434A" stroke="#9E9E9E" stroke-width="0.7"/>
<rect x="495.27" y="552.59" width="30.33" height="8.62" fill="#F79A9D" stroke="#9E9E9E" stroke-width="0.7"/>
<rect x="525.6" y="552.59" width="30.33" height="8.62" fill="#FBC7C9" stroke="#9E9E9E" stroke-width="0.7"/>
<rect x="555.93" y="552.59" width="30.33" height="8.62" fill="#D6E6F6" stroke="#9E9E9E" stroke-width="0.7"/>
<rect x="586.27" y="552.59" width="30.33" height="8.62" fill="#F2F7FC" stroke="#9E9E9E" stroke-width="0.7"/>
<text x="618.4" y="559.9" font-size="8.6" fill="#111">Ybx1</text>
<rect x="343.6" y="561.21" width="30.33" height="8.62" fill="#86B5E3" stroke="#9E9E9E" stroke-width="0.7"/>
<rect x="373.93" y="561.21" width="30.33" height="8.62" fill="#6FA7DD" stroke="#9E9E9E" stroke-width="0.7"/>
<rect x="404.27" y="561.21" width="30.33" height="8.62" fill="#D6E6F6" stroke="#9E9E9E" stroke-width="0.7"/>
<rect x="434.6" y="561.21" width="30.33" height="8.62" fill="#EDF4FB" stroke="#9E9E9E" stroke-width="0.7"/>
<rect x="464.93" y="561.21" width="30.33" height="8.62" fill="#FAC2C4" stroke="#9E9E9E" stroke-width="0.7"/>
<rect x="495.27" y="561.21" width="30.33" height="8.62" fill="#FAC2C4" stroke="#9E9E9E" stroke-width="0.7"/>
<rect x="525.6" y="561.21" width="30.33" height="8.62" fill="#F79A9D" stroke="#9E9E9E" stroke-width="0.7"/>
<rect x="555.93" y="561.21" width="30.33" height="8.62" fill="#F8A9AC" stroke="#9E9E9E" stroke-width="0.7"/>
<rect x="586.27" y="561.21" width="30.33" height="8.62" fill="#F4767B" stroke="#9E9E9E" stroke-width="0.7"/>
<text x="618.4" y="568.52" font-size="8.6" fill="#111">Ufsp1</text>
<rect x="343.6" y="569.83" width="30.33" height="8.62" fill="#86B5E3" stroke="#9E9E9E" stroke-width="0.7"/>
<rect x="373.93" y="569.83" width="30.33" height="8.62" fill="#93BDE6" stroke="#9E9E9E" stroke-width="0.7"/>
<rect x="404.27" y="569.83" width="30.33" height="8.62" fill="#D2E4F5" stroke="#9E9E9E" stroke-width="0.7"/>
<rect x="434.6" y="569.83" width="30.33" height="8.62" fill="#F2F7FC" stroke="#9E9E9E" stroke-width="0.7"/>
<rect x="464.93" y="569.83" width="30.33" height="8.62" fill="#FDE6E7" stroke="#9E9E9E" stroke-width="0.7"/>
<rect x="495.27" y="569.83" width="30.33" height="8.62" fill="#F79A9D" stroke="#9E9E9E" stroke-width="0.7"/>
<rect x="525.6" y="569.83" width="30.33" height="8.62" fill="#E0ECF8" stroke="#9E9E9E" stroke-width="0.7"/>
<rect x="555.93" y="569.83" width="30.33" height="8.62" fill="#F4767B" stroke="#9E9E9E" stroke-width="0.7"/>
<rect x="586.27" y="569.83" width="30.33" height="8.62" fill="#F25D63" stroke="#9E9E9E" stroke-width="0.7"/>
<text x="618.4" y="577.14" font-size="8.6" fill="#111">Plp1</text>
<rect x="343.6" y="578.46" width="30.33" height="8.62" fill="#74AADF" stroke="#9E9E9E" stroke-width="0.7"/>
<rect x="373.93" y="578.46" width="30.33" height="8.62" fill="#93BDE6" stroke="#9E9E9E" stroke-width="0.7"/>
<rect x="404.27" y="578.46" width="30.33" height="8.62" fill="#C9DEF2" stroke="#9E9E9E" stroke-width="0.7"/>
<rect x="434.6" y="578.46" width="30.33" height="8.62" fill="#FDEBEB" stroke="#9E9E9E" stroke-width="0.7"/>
<rect x="464.93" y="578.46" width="30.33" height="8.62" fill="#F5858A" stroke="#9E9E9E" stroke-width="0.7"/>
<rect x="495.27" y="578.46" width="30.33" height="8.62" fill="#F8A4A7" stroke="#9E9E9E" stroke-width="0.7"/>
<rect x="525.6" y="578.46" width="30.33" height="8.62" fill="#F6FAFD" stroke="#9E9E9E" stroke-width="0.7"/>
<rect x="555.93" y="578.46" width="30.33" height="8.62" fill="#F3676D" stroke="#9E9E9E" stroke-width="0.7"/>
<rect x="586.27" y="578.46" width="30.33" height="8.62" fill="#FCD6D8" stroke="#9E9E9E" stroke-width="0.7"/>
<text x="618.4" y="585.77" font-size="8.6" fill="#111">Atat1</text>
<rect x="343.6" y="587.08" width="30.33" height="8.62" fill="#BCD6EF" stroke="#9E9E9E" stroke-width="0.7"/>
<rect x="373.93" y="587.08" width="30.33" height="8.62" fill="#A5C8EA" stroke="#9E9E9E" stroke-width="0.7"/>
<rect x="404.27" y="587.08" width="30.33" height="8.62" fill="#7CB0E1" stroke="#9E9E9E" stroke-width="0.7"/>
<rect x="434.6" y="587.08" width="30.33" height="8.62" fill="#FFFFFF" stroke="#9E9E9E" stroke-width="0.7"/>
<rect x="464.93" y="587.08" width="30.33" height="8.62" fill="#F5858A" stroke="#9E9E9E" stroke-width="0.7"/>
<rect x="495.27" y="587.08" width="30.33" height="8.62" fill="#F8A9AC" stroke="#9E9E9E" stroke-width="0.7"/>
<rect x="525.6" y="587.08" width="30.33" height="8.62" fill="#E4EFF9" stroke="#9E9E9E" stroke-width="0.7"/>
<rect x="555.93" y="587.08" width="30.33" height="8.62" fill="#F0434A" stroke="#9E9E9E" stroke-width="0.7"/>
<rect x="586.27" y="587.08" width="30.33" height="8.62" fill="#FAC2C4" stroke="#9E9E9E" stroke-width="0.7"/>
<text x="618.4" y="594.39" font-size="8.6" fill="#111">Gskip</text>
<rect x="343.6" y="595.7" width="30.33" height="8.62" fill="#D6E6F6" stroke="#9E9E9E" stroke-width="0.7"/>
<rect x="373.93" y="595.7" width="30.33" height="8.62" fill="#B7D3EE" stroke="#9E9E9E" stroke-width="0.7"/>
<rect x="404.27" y="595.7" width="30.33" height="8.62" fill="#589AD8" stroke="#9E9E9E" stroke-width="0.7"/>
<rect x="434.6" y="595.7" width="30.33" height="8.62" fill="#FBCCCE" stroke="#9E9E9E" stroke-width="0.7"/>
<rect x="464.93" y="595.7" width="30.33" height="8.62" fill="#FBC7C9" stroke="#9E9E9E" stroke-width="0.7"/>
<rect x="495.27" y="595.7" width="30.33" height="8.62" fill="#F9B8BB" stroke="#9E9E9E" stroke-width="0.7"/>
<rect x="525.6" y="595.7" width="30.33" height="8.62" fill="#FDEBEB" stroke="#9E9E9E" stroke-width="0.7"/>
<rect x="555.93" y="595.7" width="30.33" height="8.62" fill="#F68F94" stroke="#9E9E9E" stroke-width="0.7"/>
<rect x="586.27" y="595.7" width="30.33" height="8.62" fill="#F69498" stroke="#9E9E9E" stroke-width="0.7"/>
<text x="618.4" y="603.01" font-size="8.6" fill="#111">Rbpms2</text>
<rect x="343.6" y="604.32" width="30.33" height="8.62" fill="#589AD8" stroke="#9E9E9E" stroke-width="0.7"/>
<rect x="373.93" y="604.32" width="30.33" height="8.62" fill="#C9DEF2" stroke="#9E9E9E" stroke-width="0.7"/>
<rect x="404.27" y="604.32" width="30.33" height="8.62" fill="#AACBEB" stroke="#9E9E9E" stroke-width="0.7"/>
<rect x="434.6" y="604.32" width="30.33" height="8.62" fill="#F79FA2" stroke="#9E9E9E" stroke-width="0.7"/>
<rect x="464.93" y="604.32" width="30.33" height="8.62" fill="#F9AEB1" stroke="#9E9E9E" stroke-width="0.7"/>
<rect x="495.27" y="604.32" width="30.33" height="8.62" fill="#F9B3B6" stroke="#9E9E9E" stroke-width="0.7"/>
<rect x="525.6" y="604.32" width="30.33" height="8.62" fill="#F9AEB1" stroke="#9E9E9E" stroke-width="0.7"/>
<rect x="555.93" y="604.32" width="30.33" height="8.62" fill="#FAC2C4" stroke="#9E9E9E" stroke-width="0.7"/>
<rect x="586.27" y="604.32" width="30.33" height="8.62" fill="#FBCCCE" stroke="#9E9E9E" stroke-width="0.7"/>
<text x="618.4" y="611.63" font-size="8.6" fill="#111">Rpl21</text>
<rect x="343.6" y="612.94" width="30.33" height="8.62" fill="#589AD8" stroke="#9E9E9E" stroke-width="0.7"/>
<rect x="373.93" y="612.94" width="30.33" height="8.62" fill="#E4EFF9" stroke="#9E9E9E" stroke-width="0.7"/>
<rect x="404.27" y="612.94" width="30.33" height="8.62" fill="#A5C8EA" stroke="#9E9E9E" stroke-width="0.7"/>
<rect x="434.6" y="612.94" width="30.33" height="8.62" fill="#FAC2C4" stroke="#9E9E9E" stroke-width="0.7"/>
<rect x="464.93" y="612.94" width="30.33" height="8.62" fill="#FAC2C4" stroke="#9E9E9E" stroke-width="0.7"/>
<rect x="495.27" y="612.94" width="30.33" height="8.62" fill="#F47176" stroke="#9E9E9E" stroke-width="0.7"/>
<rect x="525.6" y="612.94" width="30.33" height="8.62" fill="#FDEBEB" stroke="#9E9E9E" stroke-width="0.7"/>
<rect x="555.93" y="612.94" width="30.33" height="8.62" fill="#F8A4A7" stroke="#9E9E9E" stroke-width="0.7"/>
<rect x="586.27" y="612.94" width="30.33" height="8.62" fill="#FEF5F5" stroke="#9E9E9E" stroke-width="0.7"/>
<text x="618.4" y="620.26" font-size="8.6" fill="#111">Rpap3</text>
<rect x="343.6" y="621.57" width="30.33" height="8.62" fill="#9CC3E8" stroke="#9E9E9E" stroke-width="0.7"/>
<rect x="373.93" y="621.57" width="30.33" height="8.62" fill="#78ADE0" stroke="#9E9E9E" stroke-width="0.7"/>
<rect x="404.27" y="621.57" width="30.33" height="8.62" fill="#B7D3EE" stroke="#9E9E9E" stroke-width="0.7"/>
<rect x="434.6" y="621.57" width="30.33" height="8.62" fill="#F5858A" stroke="#9E9E9E" stroke-width="0.7"/>
<rect x="464.93" y="621.57" width="30.33" height="8.62" fill="#F47176" stroke="#9E9E9E" stroke-width="0.7"/>
<rect x="495.27" y="621.57" width="30.33" height="8.62" fill="#FAC2C4" stroke="#9E9E9E" stroke-width="0.7"/>
<rect x="525.6" y="621.57" width="30.33" height="8.62" fill="#F6FAFD" stroke="#9E9E9E" stroke-width="0.7"/>
<rect x="555.93" y="621.57" width="30.33" height="8.62" fill="#F47176" stroke="#9E9E9E" stroke-width="0.7"/>
<rect x="586.27" y="621.57" width="30.33" height="8.62" fill="#FFFFFF" stroke="#9E9E9E" stroke-width="0.7"/>
<text x="618.4" y="628.88" font-size="8.6" fill="#111">Lig3</text>
<rect x="343.6" y="630.19" width="30.33" height="8.62" fill="#A5C8EA" stroke="#9E9E9E" stroke-width="0.7"/>
<rect x="373.93" y="630.19" width="30.33" height="8.62" fill="#9CC3E8" stroke="#9E9E9E" stroke-width="0.7"/>
<rect x="404.27" y="630.19" width="30.33" height="8.62" fill="#78ADE0" stroke="#9E9E9E" stroke-width="0.7"/>
<rect x="434.6" y="630.19" width="30.33" height="8.62" fill="#F25D63" stroke="#9E9E9E" stroke-width="0.7"/>
<rect x="464.93" y="630.19" width="30.33" height="8.62" fill="#F79A9D" stroke="#9E9E9E" stroke-width="0.7"/>
<rect x="495.27" y="630.19" width="30.33" height="8.62" fill="#FBC7C9" stroke="#9E9E9E" stroke-width="0.7"/>
<rect x="525.6" y="630.19" width="30.33" height="8.62" fill="#F2F7FC" stroke="#9E9E9E" stroke-width="0.7"/>
<rect x="555.93" y="630.19" width="30.33" height="8.62" fill="#F36C71" stroke="#9E9E9E" stroke-width="0.7"/>
<rect x="586.27" y="630.19" width="30.33" height="8.62" fill="#FAFCFE" stroke="#9E9E9E" stroke-width="0.7"/>
<text x="618.4" y="637.5" font-size="8.6" fill="#111">Rflnb</text>
<rect x="343.6" y="638.81" width="30.33" height="8.62" fill="#8AB8E4" stroke="#9E9E9E" stroke-width="0.7"/>
<rect x="373.93" y="638.81" width="30.33" height="8.62" fill="#93BDE6" stroke="#9E9E9E" stroke-width="0.7"/>
<rect x="404.27" y="638.81" width="30.33" height="8.62" fill="#93BDE6" stroke="#9E9E9E" stroke-width="0.7"/>
<rect x="434.6" y="638.81" width="30.33" height="8.62" fill="#FCD6D8" stroke="#9E9E9E" stroke-width="0.7"/>
<rect x="464.93" y="638.81" width="30.33" height="8.62" fill="#F25D63" stroke="#9E9E9E" stroke-width="0.7"/>
<rect x="495.27" y="638.81" width="30.33" height="8.62" fill="#FDE1E2" stroke="#9E9E9E" stroke-width="0.7"/>
<rect x="525.6" y="638.81" width="30.33" height="8.62" fill="#F8A4A7" stroke="#9E9E9E" stroke-width="0.7"/>
<rect x="555.93" y="638.81" width="30.33" height="8.62" fill="#F8A4A7" stroke="#9E9E9E" stroke-width="0.7"/>
<rect x="586.27" y="638.81" width="30.33" height="8.62" fill="#FDE6E7" stroke="#9E9E9E" stroke-width="0.7"/>
<text x="618.4" y="646.12" font-size="8.6" fill="#111">Zfand6</text>
<rect x="343.6" y="647.43" width="30.33" height="8.62" fill="#74AADF" stroke="#9E9E9E" stroke-width="0.7"/>
<rect x="373.93" y="647.43" width="30.33" height="8.62" fill="#98C0E7" stroke="#9E9E9E" stroke-width="0.7"/>
<rect x="404.27" y="647.43" width="30.33" height="8.62" fill="#B3D0ED" stroke="#9E9E9E" stroke-width="0.7"/>
<rect x="434.6" y="647.43" width="30.33" height="8.62" fill="#F9B3B6" stroke="#9E9E9E" stroke-width="0.7"/>
<rect x="464.93" y="647.43" width="30.33" height="8.62" fill="#F15359" stroke="#9E9E9E" stroke-width="0.7"/>
<rect x="495.27" y="647.43" width="30.33" height="8.62" fill="#F9AEB1" stroke="#9E9E9E" stroke-width="0.7"/>
<rect x="525.6" y="647.43" width="30.33" height="8.62" fill="#FFFFFF" stroke="#9E9E9E" stroke-width="0.7"/>
<rect x="555.93" y="647.43" width="30.33" height="8.62" fill="#FBCCCE" stroke="#9E9E9E" stroke-width="0.7"/>
<rect x="586.27" y="647.43" width="30.33" height="8.62" fill="#F9B3B6" stroke="#9E9E9E" stroke-width="0.7"/>
<text x="618.4" y="654.74" font-size="8.6" fill="#111">Anln</text>
<rect x="343.6" y="656.06" width="30.33" height="8.62" fill="#AECEEC" stroke="#9E9E9E" stroke-width="0.7"/>
<rect x="373.93" y="656.06" width="30.33" height="8.62" fill="#8AB8E4" stroke="#9E9E9E" stroke-width="0.7"/>
<rect x="404.27" y="656.06" width="30.33" height="8.62" fill="#9CC3E8" stroke="#9E9E9E" stroke-width="0.7"/>
<rect x="434.6" y="656.06" width="30.33" height="8.62" fill="#F9AEB1" stroke="#9E9E9E" stroke-width="0.7"/>
<rect x="464.93" y="656.06" width="30.33" height="8.62" fill="#F25D63" stroke="#9E9E9E" stroke-width="0.7"/>
<rect x="495.27" y="656.06" width="30.33" height="8.62" fill="#F68F94" stroke="#9E9E9E" stroke-width="0.7"/>
<rect x="525.6" y="656.06" width="30.33" height="8.62" fill="#DDDDDD" stroke="#9E9E9E" stroke-width="0.7"/>
<rect x="555.93" y="656.06" width="30.33" height="8.62" fill="#FDEBEB" stroke="#9E9E9E" stroke-width="0.7"/>
<rect x="586.27" y="656.06" width="30.33" height="8.62" fill="#FDE1E2" stroke="#9E9E9E" stroke-width="0.7"/>
<text x="618.4" y="663.37" font-size="8.6" fill="#111">Serf1</text>
<rect x="343.6" y="664.68" width="30.33" height="8.62" fill="#F0484F" stroke="#9E9E9E" stroke-width="0.7"/>
<rect x="373.93" y="664.68" width="30.33" height="8.62" fill="#F3676D" stroke="#9E9E9E" stroke-width="0.7"/>
<rect x="404.27" y="664.68" width="30.33" height="8.62" fill="#F9B3B6" stroke="#9E9E9E" stroke-width="0.7"/>
<rect x="434.6" y="664.68" width="30.33" height="8.62" fill="#C0D9F0" stroke="#9E9E9E" stroke-width="0.7"/>
<rect x="464.93" y="664.68" width="30.33" height="8.62" fill="#6FA7DD" stroke="#9E9E9E" stroke-width="0.7"/>
<rect x="495.27" y="664.68" width="30.33" height="8.62" fill="#D6E6F6" stroke="#9E9E9E" stroke-width="0.7"/>
<rect x="525.6" y="664.68" width="30.33" height="8.62" fill="#FFFAFA" stroke="#9E9E9E" stroke-width="0.7"/>
<rect x="555.93" y="664.68" width="30.33" height="8.62" fill="#D2E4F5" stroke="#9E9E9E" stroke-width="0.7"/>
<rect x="586.27" y="664.68" width="30.33" height="8.62" fill="#FFFCFC" stroke="#9E9E9E" stroke-width="0.7"/>
<text x="618.4" y="671.99" font-size="8.6" fill="#111">Kng1</text>
<rect x="343.6" y="673.3" width="30.33" height="8.62" fill="#EF3941" stroke="#9E9E9E" stroke-width="0.7"/>
<rect x="373.93" y="673.3" width="30.33" height="8.62" fill="#F58085" stroke="#9E9E9E" stroke-width="0.7"/>
<rect x="404.27" y="673.3" width="30.33" height="8.62" fill="#F8A9AC" stroke="#9E9E9E" stroke-width="0.7"/>
<rect x="434.6" y="673.3" width="30.33" height="8.62" fill="#E8F1FA" stroke="#9E9E9E" stroke-width="0.7"/>
<rect x="464.93" y="673.3" width="30.33" height="8.62" fill="#6FA7DD" stroke="#9E9E9E" stroke-width="0.7"/>
<rect x="495.27" y="673.3" width="30.33" height="8.62" fill="#E0ECF8" stroke="#9E9E9E" stroke-width="0.7"/>
<rect x="525.6" y="673.3" width="30.33" height="8.62" fill="#FCD6D8" stroke="#9E9E9E" stroke-width="0.7"/>
<rect x="555.93" y="673.3" width="30.33" height="8.62" fill="#C9DEF2" stroke="#9E9E9E" stroke-width="0.7"/>
<rect x="586.27" y="673.3" width="30.33" height="8.62" fill="#E4EFF9" stroke="#9E9E9E" stroke-width="0.7"/>
<text x="618.4" y="680.61" font-size="8.6" fill="#111">Cd14</text>
<rect x="343.6" y="681.92" width="30.33" height="8.62" fill="#F0434A" stroke="#9E9E9E" stroke-width="0.7"/>
<rect x="373.93" y="681.92" width="30.33" height="8.62" fill="#F26268" stroke="#9E9E9E" stroke-width="0.7"/>
<rect x="404.27" y="681.92" width="30.33" height="8.62" fill="#FBCCCE" stroke="#9E9E9E" stroke-width="0.7"/>
<rect x="434.6" y="681.92" width="30.33" height="8.62" fill="#DBE9F7" stroke="#9E9E9E" stroke-width="0.7"/>
<rect x="464.93" y="681.92" width="30.33" height="8.62" fill="#6FA7DD" stroke="#9E9E9E" stroke-width="0.7"/>
<rect x="495.27" y="681.92" width="30.33" height="8.62" fill="#D6E6F6" stroke="#9E9E9E" stroke-width="0.7"/>
<rect x="525.6" y="681.92" width="30.33" height="8.62" fill="#FCD6D8" stroke="#9E9E9E" stroke-width="0.7"/>
<rect x="555.93" y="681.92" width="30.33" height="8.62" fill="#C0D9F0" stroke="#9E9E9E" stroke-width="0.7"/>
<rect x="586.27" y="681.92" width="30.33" height="8.62" fill="#E4EFF9" stroke="#9E9E9E" stroke-width="0.7"/>
<text x="618.4" y="689.23" font-size="8.6" fill="#111">Cpb2</text>
<rect x="343.6" y="690.54" width="30.33" height="8.62" fill="#F2585E" stroke="#9E9E9E" stroke-width="0.7"/>
<rect x="373.93" y="690.54" width="30.33" height="8.62" fill="#F68F94" stroke="#9E9E9E" stroke-width="0.7"/>
<rect x="404.27" y="690.54" width="30.33" height="8.62" fill="#F47B80" stroke="#9E9E9E" stroke-width="0.7"/>
<rect x="434.6" y="690.54" width="30.33" height="8.62" fill="#EDF4FB" stroke="#9E9E9E" stroke-width="0.7"/>
<rect x="464.93" y="690.54" width="30.33" height="8.62" fill="#81B2E2" stroke="#9E9E9E" stroke-width="0.7"/>
<rect x="495.27" y="690.54" width="30.33" height="8.62" fill="#DBE9F7" stroke="#9E9E9E" stroke-width="0.7"/>
<rect x="525.6" y="690.54" width="30.33" height="8.62" fill="#FDEBEB" stroke="#9E9E9E" stroke-width="0.7"/>
<rect x="555.93" y="690.54" width="30.33" height="8.62" fill="#9CC3E8" stroke="#9E9E9E" stroke-width="0.7"/>
<rect x="586.27" y="690.54" width="30.33" height="8.62" fill="#F6FAFD" stroke="#9E9E9E" stroke-width="0.7"/>
<text x="618.4" y="697.86" font-size="8.6" fill="#111">Qsox1</text>
<rect x="343.6" y="699.17" width="30.33" height="8.62" fill="#F15359" stroke="#9E9E9E" stroke-width="0.7"/>
<rect x="373.93" y="699.17" width="30.33" height="8.62" fill="#F68A8F" stroke="#9E9E9E" stroke-width="0.7"/>
<rect x="404.27" y="699.17" width="30.33" height="8.62" fill="#F68F94" stroke="#9E9E9E" stroke-width="0.7"/>
<rect x="434.6" y="699.17" width="30.33" height="8.62" fill="#FEF5F5" stroke="#9E9E9E" stroke-width="0.7"/>
<rect x="464.93" y="699.17" width="30.33" height="8.62" fill="#93BDE6" stroke="#9E9E9E" stroke-width="0.7"/>
<rect x="495.27" y="699.17" width="30.33" height="8.62" fill="#B3D0ED" stroke="#9E9E9E" stroke-width="0.7"/>
<rect x="525.6" y="699.17" width="30.33" height="8.62" fill="#F6FAFD" stroke="#9E9E9E" stroke-width="0.7"/>
<rect x="555.93" y="699.17" width="30.33" height="8.62" fill="#AACBEB" stroke="#9E9E9E" stroke-width="0.7"/>
<rect x="586.27" y="699.17" width="30.33" height="8.62" fill="#DBE9F7" stroke="#9E9E9E" stroke-width="0.7"/>
<text x="618.4" y="706.48" font-size="8.6" fill="#111">Rhag</text>
<rect x="343.6" y="707.79" width="30.33" height="8.62" fill="#FA2018" stroke="#9E9E9E" stroke-width="0.7"/>
<rect x="373.93" y="707.79" width="30.33" height="8.62" fill="#F9B3B6" stroke="#9E9E9E" stroke-width="0.7"/>
<rect x="404.27" y="707.79" width="30.33" height="8.62" fill="#F69498" stroke="#9E9E9E" stroke-width="0.7"/>
<rect x="434.6" y="707.79" width="30.33" height="8.62" fill="#C0D9F0" stroke="#9E9E9E" stroke-width="0.7"/>
<rect x="464.93" y="707.79" width="30.33" height="8.62" fill="#C0D9F0" stroke="#9E9E9E" stroke-width="0.7"/>
<rect x="495.27" y="707.79" width="30.33" height="8.62" fill="#C9DEF2" stroke="#9E9E9E" stroke-width="0.7"/>
<rect x="525.6" y="707.79" width="30.33" height="8.62" fill="#E0ECF8" stroke="#9E9E9E" stroke-width="0.7"/>
<rect x="555.93" y="707.79" width="30.33" height="8.62" fill="#D6E6F6" stroke="#9E9E9E" stroke-width="0.7"/>
<rect x="586.27" y="707.79" width="30.33" height="8.62" fill="#D2E4F5" stroke="#9E9E9E" stroke-width="0.7"/>
<text x="618.4" y="715.1" font-size="8.6" fill="#111">Icam1</text>
<rect x="343.6" y="716.41" width="30.33" height="8.62" fill="#F3676D" stroke="#9E9E9E" stroke-width="0.7"/>
<rect x="373.93" y="716.41" width="30.33" height="8.62" fill="#F3676D" stroke="#9E9E9E" stroke-width="0.7"/>
<rect x="404.27" y="716.41" width="30.33" height="8.62" fill="#F68A8F" stroke="#9E9E9E" stroke-width="0.7"/>
<rect x="434.6" y="716.41" width="30.33" height="8.62" fill="#E4EFF9" stroke="#9E9E9E" stroke-width="0.7"/>
<rect x="464.93" y="716.41" width="30.33" height="8.62" fill="#8AB8E4" stroke="#9E9E9E" stroke-width="0.7"/>
<rect x="495.27" y="716.41" width="30.33" height="8.62" fill="#C4DBF1" stroke="#9E9E9E" stroke-width="0.7"/>
<rect x="525.6" y="716.41" width="30.33" height="8.62" fill="#D2E4F5" stroke="#9E9E9E" stroke-width="0.7"/>
<rect x="555.93" y="716.41" width="30.33" height="8.62" fill="#F6FAFD" stroke="#9E9E9E" stroke-width="0.7"/>
<rect x="586.27" y="716.41" width="30.33" height="8.62" fill="#C9DEF2" stroke="#9E9E9E" stroke-width="0.7"/>
<text x="618.4" y="723.72" font-size="8.6" fill="#111">Pglyrp2</text>
<rect x="343.6" y="725.03" width="30.33" height="8.62" fill="#F25D63" stroke="#9E9E9E" stroke-width="0.7"/>
<rect x="373.93" y="725.03" width="30.33" height="8.62" fill="#F47B80" stroke="#9E9E9E" stroke-width="0.7"/>
<rect x="404.27" y="725.03" width="30.33" height="8.62" fill="#F47B80" stroke="#9E9E9E" stroke-width="0.7"/>
<rect x="434.6" y="725.03" width="30.33" height="8.62" fill="#C0D9F0" stroke="#9E9E9E" stroke-width="0.7"/>
<rect x="464.93" y="725.03" width="30.33" height="8.62" fill="#8AB8E4" stroke="#9E9E9E" stroke-width="0.7"/>
<rect x="495.27" y="725.03" width="30.33" height="8.62" fill="#C4DBF1" stroke="#9E9E9E" stroke-width="0.7"/>
<rect x="525.6" y="725.03" width="30.33" height="8.62" fill="#E0ECF8" stroke="#9E9E9E" stroke-width="0.7"/>
<rect x="555.93" y="725.03" width="30.33" height="8.62" fill="#EDF4FB" stroke="#9E9E9E" stroke-width="0.7"/>
<rect x="586.27" y="725.03" width="30.33" height="8.62" fill="#F6FAFD" stroke="#9E9E9E" stroke-width="0.7"/>
<text x="618.4" y="732.34" font-size="8.6" fill="#111">Lcat</text>
<rect x="343.6" y="733.66" width="30.33" height="8.62" fill="#F47B80" stroke="#9E9E9E" stroke-width="0.7"/>
<rect x="373.93" y="733.66" width="30.33" height="8.62" fill="#F36C71" stroke="#9E9E9E" stroke-width="0.7"/>
<rect x="404.27" y="733.66" width="30.33" height="8.62" fill="#F3676D" stroke="#9E9E9E" stroke-width="0.7"/>
<rect x="434.6" y="733.66" width="30.33" height="8.62" fill="#C0D9F0" stroke="#9E9E9E" stroke-width="0.7"/>
<rect x="464.93" y="733.66" width="30.33" height="8.62" fill="#86B5E3" stroke="#9E9E9E" stroke-width="0.7"/>
<rect x="495.27" y="733.66" width="30.33" height="8.62" fill="#CEE1F3" stroke="#9E9E9E" stroke-width="0.7"/>
<rect x="525.6" y="733.66" width="30.33" height="8.62" fill="#D2E4F5" stroke="#9E9E9E" stroke-width="0.7"/>
<rect x="555.93" y="733.66" width="30.33" height="8.62" fill="#EDF4FB" stroke="#9E9E9E" stroke-width="0.7"/>
<rect x="586.27" y="733.66" width="30.33" height="8.62" fill="#FFFFFF" stroke="#9E9E9E" stroke-width="0.7"/>
<text x="618.4" y="740.97" font-size="8.6" fill="#111">Abcb9</text>
<rect x="343.6" y="742.28" width="30.33" height="8.62" fill="#F47B80" stroke="#9E9E9E" stroke-width="0.7"/>
<rect x="373.93" y="742.28" width="30.33" height="8.62" fill="#F3676D" stroke="#9E9E9E" stroke-width="0.7"/>
<rect x="404.27" y="742.28" width="30.33" height="8.62" fill="#F4767B" stroke="#9E9E9E" stroke-width="0.7"/>
<rect x="434.6" y="742.28" width="30.33" height="8.62" fill="#C0D9F0" stroke="#9E9E9E" stroke-width="0.7"/>
<rect x="464.93" y="742.28" width="30.33" height="8.62" fill="#8AB8E4" stroke="#9E9E9E" stroke-width="0.7"/>
<rect x="495.27" y="742.28" width="30.33" height="8.62" fill="#C9DEF2" stroke="#9E9E9E" stroke-width="0.7"/>
<rect x="525.6" y="742.28" width="30.33" height="8.62" fill="#E8F1FA" stroke="#9E9E9E" stroke-width="0.7"/>
<rect x="555.93" y="742.28" width="30.33" height="8.62" fill="#E4EFF9" stroke="#9E9E9E" stroke-width="0.7"/>
<rect x="586.27" y="742.28" width="30.33" height="8.62" fill="#FAFCFE" stroke="#9E9E9E" stroke-width="0.7"/>
<text x="618.4" y="749.59" font-size="8.6" fill="#111">Fga</text>
<rect x="343.6" y="750.9" width="30.33" height="8.62" fill="#F58085" stroke="#9E9E9E" stroke-width="0.7"/>
<rect x="373.93" y="750.9" width="30.33" height="8.62" fill="#F3676D" stroke="#9E9E9E" stroke-width="0.7"/>
<rect x="404.27" y="750.9" width="30.33" height="8.62" fill="#F36C71" stroke="#9E9E9E" stroke-width="0.7"/>
<rect x="434.6" y="750.9" width="30.33" height="8.62" fill="#BCD6EF" stroke="#9E9E9E" stroke-width="0.7"/>
<rect x="464.93" y="750.9" width="30.33" height="8.62" fill="#8AB8E4" stroke="#9E9E9E" stroke-width="0.7"/>
<rect x="495.27" y="750.9" width="30.33" height="8.62" fill="#C9DEF2" stroke="#9E9E9E" stroke-width="0.7"/>
<rect x="525.6" y="750.9" width="30.33" height="8.62" fill="#E4EFF9" stroke="#9E9E9E" stroke-width="0.7"/>
<rect x="555.93" y="750.9" width="30.33" height="8.62" fill="#E4EFF9" stroke="#9E9E9E" stroke-width="0.7"/>
<rect x="586.27" y="750.9" width="30.33" height="8.62" fill="#F6FAFD" stroke="#9E9E9E" stroke-width="0.7"/>
<text x="618.4" y="758.21" font-size="8.6" fill="#111">Fgb</text>
<rect x="343.6" y="759.52" width="30.33" height="8.62" fill="#F58085" stroke="#9E9E9E" stroke-width="0.7"/>
<rect x="373.93" y="759.52" width="30.33" height="8.62" fill="#F26268" stroke="#9E9E9E" stroke-width="0.7"/>
<rect x="404.27" y="759.52" width="30.33" height="8.62" fill="#F3676D" stroke="#9E9E9E" stroke-width="0.7"/>
<rect x="434.6" y="759.52" width="30.33" height="8.62" fill="#BCD6EF" stroke="#9E9E9E" stroke-width="0.7"/>
<rect x="464.93" y="759.52" width="30.33" height="8.62" fill="#8AB8E4" stroke="#9E9E9E" stroke-width="0.7"/>
<rect x="495.27" y="759.52" width="30.33" height="8.62" fill="#CEE1F3" stroke="#9E9E9E" stroke-width="0.7"/>
<rect x="525.6" y="759.52" width="30.33" height="8.62" fill="#E4EFF9" stroke="#9E9E9E" stroke-width="0.7"/>
<rect x="555.93" y="759.52" width="30.33" height="8.62" fill="#E4EFF9" stroke="#9E9E9E" stroke-width="0.7"/>
<rect x="586.27" y="759.52" width="30.33" height="8.62" fill="#FAFCFE" stroke="#9E9E9E" stroke-width="0.7"/>
<text x="618.4" y="766.83" font-size="8.6" fill="#111">Fgg</text>
<rect x="343.6" y="768.14" width="30.33" height="8.62" fill="#F4767B" stroke="#9E9E9E" stroke-width="0.7"/>
<rect x="373.93" y="768.14" width="30.33" height="8.62" fill="#F3676D" stroke="#9E9E9E" stroke-width="0.7"/>
<rect x="404.27" y="768.14" width="30.33" height="8.62" fill="#F68F94" stroke="#9E9E9E" stroke-width="0.7"/>
<rect x="434.6" y="768.14" width="30.33" height="8.62" fill="#8AB8E4" stroke="#9E9E9E" stroke-width="0.7"/>
<rect x="464.93" y="768.14" width="30.33" height="8.62" fill="#CEE1F3" stroke="#9E9E9E" stroke-width="0.7"/>
<rect x="495.27" y="768.14" width="30.33" height="8.62" fill="#AECEEC" stroke="#9E9E9E" stroke-width="0.7"/>
<rect x="525.6" y="768.14" width="30.33" height="8.62" fill="#FEF5F5" stroke="#9E9E9E" stroke-width="0.7"/>
<rect x="555.93" y="768.14" width="30.33" height="8.62" fill="#E0ECF8" stroke="#9E9E9E" stroke-width="0.7"/>
<rect x="586.27" y="768.14" width="30.33" height="8.62" fill="#E4EFF9" stroke="#9E9E9E" stroke-width="0.7"/>
<text x="618.4" y="775.46" font-size="8.6" fill="#111">Ctsl</text>
<rect x="343.6" y="776.77" width="30.33" height="8.62" fill="#F47176" stroke="#9E9E9E" stroke-width="0.7"/>
<rect x="373.93" y="776.77" width="30.33" height="8.62" fill="#F25D63" stroke="#9E9E9E" stroke-width="0.7"/>
<rect x="404.27" y="776.77" width="30.33" height="8.62" fill="#F68F94" stroke="#9E9E9E" stroke-width="0.7"/>
<rect x="434.6" y="776.77" width="30.33" height="8.62" fill="#93BDE6" stroke="#9E9E9E" stroke-width="0.7"/>
<rect x="464.93" y="776.77" width="30.33" height="8.62" fill="#D6E6F6" stroke="#9E9E9E" stroke-width="0.7"/>
<rect x="495.27" y="776.77" width="30.33" height="8.62" fill="#A5C8EA" stroke="#9E9E9E" stroke-width="0.7"/>
<rect x="525.6" y="776.77" width="30.33" height="8.62" fill="#F6FAFD" stroke="#9E9E9E" stroke-width="0.7"/>
<rect x="555.93" y="776.77" width="30.33" height="8.62" fill="#D2E4F5" stroke="#9E9E9E" stroke-width="0.7"/>
<rect x="586.27" y="776.77" width="30.33" height="8.62" fill="#EDF4FB" stroke="#9E9E9E" stroke-width="0.7"/>
<text x="618.4" y="784.08" font-size="8.6" fill="#111">Ccn2</text>
<rect x="343.6" y="785.39" width="30.33" height="8.62" fill="#F2585E" stroke="#9E9E9E" stroke-width="0.7"/>
<rect x="373.93" y="785.39" width="30.33" height="8.62" fill="#F58085" stroke="#9E9E9E" stroke-width="0.7"/>
<rect x="404.27" y="785.39" width="30.33" height="8.62" fill="#F8A4A7" stroke="#9E9E9E" stroke-width="0.7"/>
<rect x="434.6" y="785.39" width="30.33" height="8.62" fill="#A5C8EA" stroke="#9E9E9E" stroke-width="0.7"/>
<rect x="464.93" y="785.39" width="30.33" height="8.62" fill="#BCD6EF" stroke="#9E9E9E" stroke-width="0.7"/>
<rect x="495.27" y="785.39" width="30.33" height="8.62" fill="#A5C8EA" stroke="#9E9E9E" stroke-width="0.7"/>
<rect x="525.6" y="785.39" width="30.33" height="8.62" fill="#C4DBF1" stroke="#9E9E9E" stroke-width="0.7"/>
<rect x="555.93" y="785.39" width="30.33" height="8.62" fill="#F6FAFD" stroke="#9E9E9E" stroke-width="0.7"/>
<rect x="586.27" y="785.39" width="30.33" height="8.62" fill="#FBD1D3" stroke="#9E9E9E" stroke-width="0.7"/>
<text x="618.4" y="792.7" font-size="8.6" fill="#111">F12</text>
<rect x="343.6" y="794.01" width="30.33" height="8.62" fill="#F3676D" stroke="#9E9E9E" stroke-width="0.7"/>
<rect x="373.93" y="794.01" width="30.33" height="8.62" fill="#F25D63" stroke="#9E9E9E" stroke-width="0.7"/>
<rect x="404.27" y="794.01" width="30.33" height="8.62" fill="#F8A9AC" stroke="#9E9E9E" stroke-width="0.7"/>
<rect x="434.6" y="794.01" width="30.33" height="8.62" fill="#CEE1F3" stroke="#9E9E9E" stroke-width="0.7"/>
<rect x="464.93" y="794.01" width="30.33" height="8.62" fill="#CEE1F3" stroke="#9E9E9E" stroke-width="0.7"/>
<rect x="495.27" y="794.01" width="30.33" height="8.62" fill="#93BDE6" stroke="#9E9E9E" stroke-width="0.7"/>
<rect x="525.6" y="794.01" width="30.33" height="8.62" fill="#E8F1FA" stroke="#9E9E9E" stroke-width="0.7"/>
<rect x="555.93" y="794.01" width="30.33" height="8.62" fill="#DBE9F7" stroke="#9E9E9E" stroke-width="0.7"/>
<rect x="586.27" y="794.01" width="30.33" height="8.62" fill="#D6E6F6" stroke="#9E9E9E" stroke-width="0.7"/>
<text x="618.4" y="801.32" font-size="8.6" fill="#111">Serpina3k</text>
<rect x="343.6" y="802.63" width="30.33" height="8.62" fill="#F68A8F" stroke="#9E9E9E" stroke-width="0.7"/>
<rect x="373.93" y="802.63" width="30.33" height="8.62" fill="#F03E46" stroke="#9E9E9E" stroke-width="0.7"/>
<rect x="404.27" y="802.63" width="30.33" height="8.62" fill="#FABDC0" stroke="#9E9E9E" stroke-width="0.7"/>
<rect x="434.6" y="802.63" width="30.33" height="8.62" fill="#AACBEB" stroke="#9E9E9E" stroke-width="0.7"/>
<rect x="464.93" y="802.63" width="30.33" height="8.62" fill="#DDDDDD" stroke="#9E9E9E" stroke-width="0.7"/>
<rect x="495.27" y="802.63" width="30.33" height="8.62" fill="#B3D0ED" stroke="#9E9E9E" stroke-width="0.7"/>
<rect x="525.6" y="802.63" width="30.33" height="8.62" fill="#C0D9F0" stroke="#9E9E9E" stroke-width="0.7"/>
<rect x="555.93" y="802.63" width="30.33" height="8.62" fill="#E8F1FA" stroke="#9E9E9E" stroke-width="0.7"/>
<rect x="586.27" y="802.63" width="30.33" height="8.62" fill="#E8F1FA" stroke="#9E9E9E" stroke-width="0.7"/>
<text x="618.4" y="809.94" font-size="8.6" fill="#111">Angptl7</text>
<rect x="343.6" y="811.26" width="30.33" height="8.62" fill="#F9B8BB" stroke="#9E9E9E" stroke-width="0.7"/>
<rect x="373.93" y="811.26" width="30.33" height="8.62" fill="#F5858A" stroke="#9E9E9E" stroke-width="0.7"/>
<rect x="404.27" y="811.26" width="30.33" height="8.62" fill="#F26268" stroke="#9E9E9E" stroke-width="0.7"/>
<rect x="434.6" y="811.26" width="30.33" height="8.62" fill="#B3D0ED" stroke="#9E9E9E" stroke-width="0.7"/>
<rect x="464.93" y="811.26" width="30.33" height="8.62" fill="#8AB8E4" stroke="#9E9E9E" stroke-width="0.7"/>
<rect x="495.27" y="811.26" width="30.33" height="8.62" fill="#9CC3E8" stroke="#9E9E9E" stroke-width="0.7"/>
<rect x="525.6" y="811.26" width="30.33" height="8.62" fill="#FFFFFF" stroke="#9E9E9E" stroke-width="0.7"/>
<rect x="555.93" y="811.26" width="30.33" height="8.62" fill="#FAC2C4" stroke="#9E9E9E" stroke-width="0.7"/>
<rect x="586.27" y="811.26" width="30.33" height="8.62" fill="#FFFFFF" stroke="#9E9E9E" stroke-width="0.7"/>
<text x="618.4" y="818.57" font-size="8.6" fill="#111">Jchain</text>
<rect x="343.6" y="819.88" width="30.33" height="8.62" fill="#F68A8F" stroke="#9E9E9E" stroke-width="0.7"/>
<rect x="373.93" y="819.88" width="30.33" height="8.62" fill="#F47B80" stroke="#9E9E9E" stroke-width="0.7"/>
<rect x="404.27" y="819.88" width="30.33" height="8.62" fill="#F26268" stroke="#9E9E9E" stroke-width="0.7"/>
<rect x="434.6" y="819.88" width="30.33" height="8.62" fill="#A5C8EA" stroke="#9E9E9E" stroke-width="0.7"/>
<rect x="464.93" y="819.88" width="30.33" height="8.62" fill="#86B5E3" stroke="#9E9E9E" stroke-width="0.7"/>
<rect x="495.27" y="819.88" width="30.33" height="8.62" fill="#C0D9F0" stroke="#9E9E9E" stroke-width="0.7"/>
<rect x="525.6" y="819.88" width="30.33" height="8.62" fill="#FFFFFF" stroke="#9E9E9E" stroke-width="0.7"/>
<rect x="555.93" y="819.88" width="30.33" height="8.62" fill="#FDEBEB" stroke="#9E9E9E" stroke-width="0.7"/>
<rect x="586.27" y="819.88" width="30.33" height="8.62" fill="#EDF4FB" stroke="#9E9E9E" stroke-width="0.7"/>
<text x="618.4" y="827.19" font-size="8.6" fill="#111">Ecm1</text>
<rect x="343.6" y="828.5" width="30.33" height="8.62" fill="#F5858A" stroke="#9E9E9E" stroke-width="0.7"/>
<rect x="373.93" y="828.5" width="30.33" height="8.62" fill="#F0434A" stroke="#9E9E9E" stroke-width="0.7"/>
<rect x="404.27" y="828.5" width="30.33" height="8.62" fill="#F9AEB1" stroke="#9E9E9E" stroke-width="0.7"/>
<rect x="434.6" y="828.5" width="30.33" height="8.62" fill="#BCD6EF" stroke="#9E9E9E" stroke-width="0.7"/>
<rect x="464.93" y="828.5" width="30.33" height="8.62" fill="#93BDE6" stroke="#9E9E9E" stroke-width="0.7"/>
<rect x="495.27" y="828.5" width="30.33" height="8.62" fill="#A0C6E9" stroke="#9E9E9E" stroke-width="0.7"/>
<rect x="525.6" y="828.5" width="30.33" height="8.62" fill="#F6FAFD" stroke="#9E9E9E" stroke-width="0.7"/>
<rect x="555.93" y="828.5" width="30.33" height="8.62" fill="#FEF5F5" stroke="#9E9E9E" stroke-width="0.7"/>
<rect x="586.27" y="828.5" width="30.33" height="8.62" fill="#F6FAFD" stroke="#9E9E9E" stroke-width="0.7"/>
<text x="618.4" y="835.81" font-size="8.6" fill="#111">Agt</text>
<rect x="343.6" y="837.12" width="30.33" height="8.62" fill="#F26268" stroke="#9E9E9E" stroke-width="0.7"/>
<rect x="373.93" y="837.12" width="30.33" height="8.62" fill="#F47176" stroke="#9E9E9E" stroke-width="0.7"/>
<rect x="404.27" y="837.12" width="30.33" height="8.62" fill="#FBD1D3" stroke="#9E9E9E" stroke-width="0.7"/>
<rect x="434.6" y="837.12" width="30.33" height="8.62" fill="#A5C8EA" stroke="#9E9E9E" stroke-width="0.7"/>
<rect x="464.93" y="837.12" width="30.33" height="8.62" fill="#86B5E3" stroke="#9E9E9E" stroke-width="0.7"/>
<rect x="495.27" y="837.12" width="30.33" height="8.62" fill="#C4DBF1" stroke="#9E9E9E" stroke-width="0.7"/>
<rect x="525.6" y="837.12" width="30.33" height="8.62" fill="#FDEBEB" stroke="#9E9E9E" stroke-width="0.7"/>
<rect x="555.93" y="837.12" width="30.33" height="8.62" fill="#FEF5F5" stroke="#9E9E9E" stroke-width="0.7"/>
<rect x="586.27" y="837.12" width="30.33" height="8.62" fill="#FFFAFA" stroke="#9E9E9E" stroke-width="0.7"/>
<text x="618.4" y="844.43" font-size="8.6" fill="#111">Serpina3m</text>
<rect x="343.6" y="845.74" width="30.33" height="8.62" fill="#F4767B" stroke="#9E9E9E" stroke-width="0.7"/>
<rect x="373.93" y="845.74" width="30.33" height="8.62" fill="#F68F94" stroke="#9E9E9E" stroke-width="0.7"/>
<rect x="404.27" y="845.74" width="30.33" height="8.62" fill="#F47B80" stroke="#9E9E9E" stroke-width="0.7"/>
<rect x="434.6" y="845.74" width="30.33" height="8.62" fill="#CEE1F3" stroke="#9E9E9E" stroke-width="0.7"/>
<rect x="464.93" y="845.74" width="30.33" height="8.62" fill="#FFFFFF" stroke="#9E9E9E" stroke-width="0.7"/>
<rect x="495.27" y="845.74" width="30.33" height="8.62" fill="#F2F7FC" stroke="#9E9E9E" stroke-width="0.7"/>
<rect x="525.6" y="845.74" width="30.33" height="8.62" fill="#93BDE6" stroke="#9E9E9E" stroke-width="0.7"/>
<rect x="555.93" y="845.74" width="30.33" height="8.62" fill="#8AB8E4" stroke="#9E9E9E" stroke-width="0.7"/>
<rect x="586.27" y="845.74" width="30.33" height="8.62" fill="#FCDCDD" stroke="#9E9E9E" stroke-width="0.7"/>
<text x="618.4" y="853.06" font-size="8.6" fill="#111">Slc1a5</text>
<rect x="343.6" y="854.37" width="30.33" height="8.62" fill="#F79A9D" stroke="#9E9E9E" stroke-width="0.7"/>
<rect x="373.93" y="854.37" width="30.33" height="8.62" fill="#F4767B" stroke="#9E9E9E" stroke-width="0.7"/>
<rect x="404.27" y="854.37" width="30.33" height="8.62" fill="#EF3941" stroke="#9E9E9E" stroke-width="0.7"/>
<rect x="434.6" y="854.37" width="30.33" height="8.62" fill="#C0D9F0" stroke="#9E9E9E" stroke-width="0.7"/>
<rect x="464.93" y="854.37" width="30.33" height="8.62" fill="#D6E6F6" stroke="#9E9E9E" stroke-width="0.7"/>
<rect x="495.27" y="854.37" width="30.33" height="8.62" fill="#E0ECF8" stroke="#9E9E9E" stroke-width="0.7"/>
<rect x="525.6" y="854.37" width="30.33" height="8.62" fill="#E0ECF8" stroke="#9E9E9E" stroke-width="0.7"/>
<rect x="555.93" y="854.37" width="30.33" height="8.62" fill="#8EBBE5" stroke="#9E9E9E" stroke-width="0.7"/>
<rect x="586.27" y="854.37" width="30.33" height="8.62" fill="#E4EFF9" stroke="#9E9E9E" stroke-width="0.7"/>
<text x="618.4" y="861.68" font-size="8.6" fill="#111">Igkv12-41</text>
<rect x="343.6" y="862.99" width="30.33" height="8.62" fill="#F26268" stroke="#9E9E9E" stroke-width="0.7"/>
<rect x="373.93" y="862.99" width="30.33" height="8.62" fill="#F47176" stroke="#9E9E9E" stroke-width="0.7"/>
<rect x="404.27" y="862.99" width="30.33" height="8.62" fill="#F69498" stroke="#9E9E9E" stroke-width="0.7"/>
<rect x="434.6" y="862.99" width="30.33" height="8.62" fill="#FDE6E7" stroke="#9E9E9E" stroke-width="0.7"/>
<rect x="464.93" y="862.99" width="30.33" height="8.62" fill="#9CC3E8" stroke="#9E9E9E" stroke-width="0.7"/>
<rect x="495.27" y="862.99" width="30.33" height="8.62" fill="#CEE1F3" stroke="#9E9E9E" stroke-width="0.7"/>
<rect x="525.6" y="862.99" width="30.33" height="8.62" fill="#9CC3E8" stroke="#9E9E9E" stroke-width="0.7"/>
<rect x="555.93" y="862.99" width="30.33" height="8.62" fill="#C9DEF2" stroke="#9E9E9E" stroke-width="0.7"/>
<rect x="586.27" y="862.99" width="30.33" height="8.62" fill="#FFFFFF" stroke="#9E9E9E" stroke-width="0.7"/>
<text x="618.4" y="870.3" font-size="8.6" fill="#111">Epb42</text>
<rect x="343.6" y="871.61" width="30.33" height="8.62" fill="#F9B3B6" stroke="#9E9E9E" stroke-width="0.7"/>
<rect x="373.93" y="871.61" width="30.33" height="8.62" fill="#F26268" stroke="#9E9E9E" stroke-width="0.7"/>
<rect x="404.27" y="871.61" width="30.33" height="8.62" fill="#F5858A" stroke="#9E9E9E" stroke-width="0.7"/>
<rect x="434.6" y="871.61" width="30.33" height="8.62" fill="#FEF5F5" stroke="#9E9E9E" stroke-width="0.7"/>
<rect x="464.93" y="871.61" width="30.33" height="8.62" fill="#9CC3E8" stroke="#9E9E9E" stroke-width="0.7"/>
<rect x="495.27" y="871.61" width="30.33" height="8.62" fill="#E4EFF9" stroke="#9E9E9E" stroke-width="0.7"/>
<rect x="525.6" y="871.61" width="30.33" height="8.62" fill="#81B2E2" stroke="#9E9E9E" stroke-width="0.7"/>
<rect x="555.93" y="871.61" width="30.33" height="8.62" fill="#D2E4F5" stroke="#9E9E9E" stroke-width="0.7"/>
<rect x="586.27" y="871.61" width="30.33" height="8.62" fill="#FCD6D8" stroke="#9E9E9E" stroke-width="0.7"/>
<text x="618.4" y="878.92" font-size="8.6" fill="#111">Pzp</text>
<rect x="343.6" y="880.23" width="30.33" height="8.62" fill="#F68A8F" stroke="#9E9E9E" stroke-width="0.7"/>
<rect x="373.93" y="880.23" width="30.33" height="8.62" fill="#F5858A" stroke="#9E9E9E" stroke-width="0.7"/>
<rect x="404.27" y="880.23" width="30.33" height="8.62" fill="#F3676D" stroke="#9E9E9E" stroke-width="0.7"/>
<rect x="434.6" y="880.23" width="30.33" height="8.62" fill="#F2F7FC" stroke="#9E9E9E" stroke-width="0.7"/>
<rect x="464.93" y="880.23" width="30.33" height="8.62" fill="#B7D3EE" stroke="#9E9E9E" stroke-width="0.7"/>
<rect x="495.27" y="880.23" width="30.33" height="8.62" fill="#D6E6F6" stroke="#9E9E9E" stroke-width="0.7"/>
<rect x="525.6" y="880.23" width="30.33" height="8.62" fill="#86B5E3" stroke="#9E9E9E" stroke-width="0.7"/>
<rect x="555.93" y="880.23" width="30.33" height="8.62" fill="#C4DBF1" stroke="#9E9E9E" stroke-width="0.7"/>
<rect x="586.27" y="880.23" width="30.33" height="8.62" fill="#FCD6D8" stroke="#9E9E9E" stroke-width="0.7"/>
<text x="618.4" y="887.54" font-size="8.6" fill="#111">Vwf</text>
<rect x="343.6" y="888.86" width="30.33" height="8.62" fill="#FEF5F5" stroke="#9E9E9E" stroke-width="0.7"/>
<rect x="373.93" y="888.86" width="30.33" height="8.62" fill="#EF343C" stroke="#9E9E9E" stroke-width="0.7"/>
<rect x="404.27" y="888.86" width="30.33" height="8.62" fill="#F25D63" stroke="#9E9E9E" stroke-width="0.7"/>
<rect x="434.6" y="888.86" width="30.33" height="8.62" fill="#FFFFFF" stroke="#9E9E9E" stroke-width="0.7"/>
<rect x="464.93" y="888.86" width="30.33" height="8.62" fill="#CEE1F3" stroke="#9E9E9E" stroke-width="0.7"/>
<rect x="495.27" y="888.86" width="30.33" height="8.62" fill="#E4EFF9" stroke="#9E9E9E" stroke-width="0.7"/>
<rect x="525.6" y="888.86" width="30.33" height="8.62" fill="#A5C8EA" stroke="#9E9E9E" stroke-width="0.7"/>
<rect x="555.93" y="888.86" width="30.33" height="8.62" fill="#E8F1FA" stroke="#9E9E9E" stroke-width="0.7"/>
<rect x="586.27" y="888.86" width="30.33" height="8.62" fill="#BCD6EF" stroke="#9E9E9E" stroke-width="0.7"/>
<text x="618.4" y="896.17" font-size="8.6" fill="#111">Igkv6-17</text>
<rect x="343.6" y="897.48" width="30.33" height="8.62" fill="#FBCCCE" stroke="#9E9E9E" stroke-width="0.7"/>
<rect x="373.93" y="897.48" width="30.33" height="8.62" fill="#EF3941" stroke="#9E9E9E" stroke-width="0.7"/>
<rect x="404.27" y="897.48" width="30.33" height="8.62" fill="#F79A9D" stroke="#9E9E9E" stroke-width="0.7"/>
<rect x="434.6" y="897.48" width="30.33" height="8.62" fill="#FFFFFF" stroke="#9E9E9E" stroke-width="0.7"/>
<rect x="464.93" y="897.48" width="30.33" height="8.62" fill="#81B2E2" stroke="#9E9E9E" stroke-width="0.7"/>
<rect x="495.27" y="897.48" width="30.33" height="8.62" fill="#D6E6F6" stroke="#9E9E9E" stroke-width="0.7"/>
<rect x="525.6" y="897.48" width="30.33" height="8.62" fill="#AACBEB" stroke="#9E9E9E" stroke-width="0.7"/>
<rect x="555.93" y="897.48" width="30.33" height="8.62" fill="#F2F7FC" stroke="#9E9E9E" stroke-width="0.7"/>
<rect x="586.27" y="897.48" width="30.33" height="8.62" fill="#F2F7FC" stroke="#9E9E9E" stroke-width="0.7"/>
<text x="618.4" y="904.79" font-size="8.6" fill="#111">Cpn2</text>
<text transform="translate(354.57 912.6) rotate(45)" font-size="8.6" fill="#111">Cis_1</text>
<text transform="translate(384.9 912.6) rotate(45)" font-size="8.6" fill="#111">Cis_2</text>
<text transform="translate(415.23 912.6) rotate(45)" font-size="8.6" fill="#111">Cis_3</text>
<text transform="translate(445.57 912.6) rotate(45)" font-size="8.6" fill="#111">Ctrl_1</text>
<text transform="translate(475.9 912.6) rotate(45)" font-size="8.6" fill="#111">Ctrl_2</text>
<text transform="translate(506.23 912.6) rotate(45)" font-size="8.6" fill="#111">Ctrl_3</text>
<text transform="translate(536.57 912.6) rotate(45)" font-size="8.6" fill="#111">EE_Cis_1</text>
<text transform="translate(566.9 912.6) rotate(45)" font-size="8.6" fill="#111">EE_Cis_2</text>
<text transform="translate(597.23 912.6) rotate(45)" font-size="8.6" fill="#111">EE_Cis_3</text>
<path d="M343.6 522.41H338.3V531.03H343.6M343.6 548.28H339.7V556.9H343.6M343.6 539.66H337.5V552.59H339.7M338.3 526.72H335.2V546.12H337.5M343.6 574.14H335.5V582.77H343.6M343.6 565.52H333.3V578.46H335.5M343.6 591.39H336.4V600.01H343.6M343.6 608.63H338.3V617.26H343.6M343.6 625.88H338.3V634.5H343.6M343.6 651.74H338.3V660.37H343.6M343.6 643.12H337.3V656.06H338.3M338.3 630.19H334.8V649.59H337.3M338.3 612.94H333.4V639.89H334.8M336.4 595.7H331.4V626.42H333.4M333.3 571.99H328.4V611.06H331.4M335.2 536.42H326.4V591.52H328.4M343.6 677.61H341.6V686.23H343.6M343.6 668.99H339.2V681.92H341.6M343.6 694.86H338.5V703.48H343.6M339.2 675.46H336.4V699.17H338.5M343.6 755.21H343.2V763.83H343.6M343.6 746.59H342.8V759.52H343.2M343.6 737.97H342.2V753.06H342.8M343.6 729.34H340.6V745.51H342.2M343.6 720.72H338V737.43H340.6M343.6 712.1H335.5V729.08H338M336.4 687.31H334.5V720.59H335.5M343.6 772.46H341.7V781.08H343.6M343.6 798.32H338.1V806.94H343.6M343.6 789.7H336.6V802.63H338.1M341.7 776.77H336.3V796.17H336.6M343.6 815.57H339.5V824.19H343.6M343.6 832.81H338.6V841.43H343.6M339.5 819.88H335.9V837.12H338.6M336.3 786.47H333.6V828.5H335.9M334.5 703.95H331.2V807.48H333.6M343.6 850.06H335.2V858.68H343.6M343.6 875.92H339.5V884.54H343.6M343.6 867.3H337.8V880.23H339.5M343.6 893.17H335.5V901.79H343.6M337.8 873.77H332.2V897.48H335.5M335.2 854.37H329.6V885.62H332.2M331.2 755.72H325.4V869.99H329.6M326.4 563.97H310.6V812.86H325.4" fill="none" stroke="#3A3A3A" stroke-width="0.75"/>
<defs><linearGradient id="ge" x1="0" y1="0" x2="0" y2="1"><stop offset="0" stop-color="#F22729"/><stop offset="0.05" stop-color="#F03F46"/><stop offset="0.1" stop-color="#F1555B"/><stop offset="0.15" stop-color="#F36A70"/><stop offset="0.2" stop-color="#F57F84"/><stop offset="0.25" stop-color="#F69498"/><stop offset="0.3" stop-color="#F8AAAD"/><stop offset="0.35" stop-color="#FABFC2"/><stop offset="0.4" stop-color="#FCD4D6"/><stop offset="0.45" stop-color="#FDEAEA"/><stop offset="0.5" stop-color="#FFFFFF"/><stop offset="0.55" stop-color="#ECF4FB"/><stop offset="0.6" stop-color="#D9E8F6"/><stop offset="0.65" stop-color="#C6DDF2"/><stop offset="0.7" stop-color="#B3D1ED"/><stop offset="0.75" stop-color="#A1C6E9"/><stop offset="0.8" stop-color="#8EBAE5"/><stop offset="0.85" stop-color="#7BAEE0"/><stop offset="0.9" stop-color="#68A3DC"/><stop offset="0.95" stop-color="#5598D7"/><stop offset="1" stop-color="#428CD3"/></linearGradient></defs>
<rect x="666.9" y="518" width="6.4" height="95" fill="url(#ge)"/>
<text x="676.3" y="523.5" font-size="8.4" fill="#111">2</text>
<text x="676.3" y="546.4" font-size="8.4" fill="#111">1</text>
<text x="676.3" y="569" font-size="8.4" fill="#111">0</text>
<text x="675.3" y="591.5" font-size="8.4" fill="#111">-1</text>
<text x="675.3" y="613.7" font-size="8.4" fill="#111">-2</text>
</svg>
</body></html>
